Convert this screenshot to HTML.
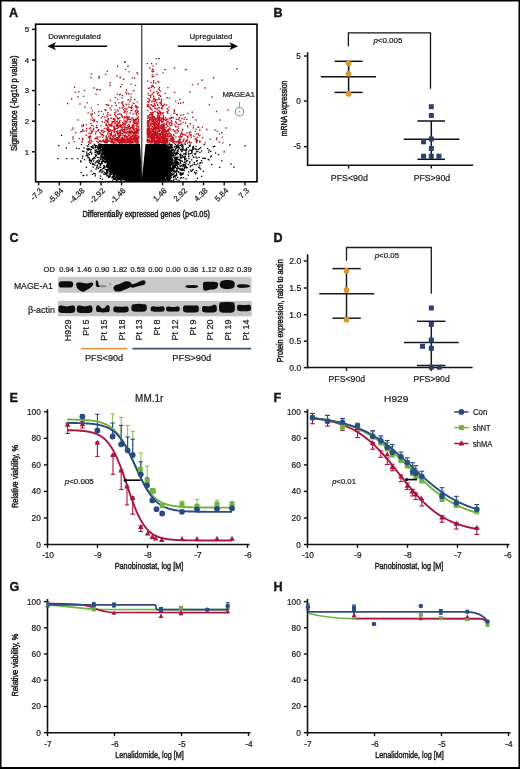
<!DOCTYPE html>
<html><head><meta charset="utf-8"><title>Figure</title>
<style>
html,body{margin:0;padding:0;background:#fff;width:520px;height:769px;overflow:hidden}
svg{display:block;will-change:transform}
text{font-family:"Liberation Sans",sans-serif;fill:#1c1c1c;stroke:#1c1c1c;stroke-width:0.22px}
</style></head><body>
<svg width="520" height="769" viewBox="0 0 520 769" font-family="&quot;Liberation Sans&quot;, sans-serif"><text x="9" y="17.2" font-size="12.6" font-weight="bold" fill="#000" style="stroke:#000;stroke-width:0.35px">A</text>
<polygon points="101.47,143.9 102.48,147.21 103.5,150.52 104.55,153.83 105.67,157.14 106.9,160.45 108.31,163.76 109.98,167.07 112.01,170.38 114.5,173.69 117.58,177 121.5,179.6 126,181.2 129,181.8 142,181.8 142,178.64 141.85,175.48 141.67,172.33 141.49,169.17 141.3,166.01 141.12,162.85 140.94,159.69 140.76,156.53 140.57,153.38 140.39,150.22 140.21,147.06 140.02,143.9" fill="#000"/>
<polygon points="145.56,143.9 145.23,147.06 144.9,150.22 144.57,153.38 144.24,156.53 143.91,159.69 143.58,162.85 143.25,166.01 142.92,169.17 142.59,172.33 142.26,175.48 142,178.64 142,181.8 158,181.8 161.85,178.64 165.22,175.48 168.03,172.33 170.13,169.17 170.85,166.01 170.16,162.85 169.46,159.69 168.76,156.53 168.07,153.38 167.37,150.22 166.67,147.06 165.98,143.9" fill="#000"/>
<path d="M104.61 155.99h1.35M98.09 146.84h1.35M92.3 146.31h1.35M102.09 146.74h1.35M114.55 174.3h1.35M92.58 167.04h1.35M71.34 158.64h1.35M104.24 154.74h1.35M95.24 155.43h1.35M103.3 165.37h1.35M108.42 164.14h1.35M97.35 151.7h1.35M100.19 155.63h1.35M95.81 155.11h1.35M99.51 153.09h1.35M109.12 176.06h1.35M120.42 179.88h1.35M112.32 171.76h1.35M95.7 145.63h1.35M96.75 165.06h1.35M106.35 169.51h1.35M96.37 160.81h1.35M101.08 161.46h1.35M105.66 169.73h1.35M113.18 174.12h1.35M111.02 168.54h1.35M103.02 150.32h1.35M112.78 172.16h1.35M94.15 158.43h1.35M102.48 160.55h1.35M103.14 174.02h1.35M104.12 159.32h1.35M119.2 179.06h1.35M102.9 152.64h1.35M99.78 165.64h1.35M101.16 157.64h1.35M107.3 169.33h1.35M110.99 168.81h1.35M101.49 172.59h1.35M103.42 158.48h1.35M110.04 167.29h1.35M103.16 151.8h1.35M102.47 146.11h1.35M65.68 147.89h1.35M109.06 166.55h1.35M103.17 156.84h1.35M86.2 175.1h1.35M107.24 161.81h1.35M103.98 156.67h1.35M103.55 150.08h1.35M107.53 163.43h1.35M97.68 145.18h1.35M109.4 175.63h1.35M105.04 157.55h1.35M99.5 163.59h1.35M94.38 152.32h1.35M106.34 175.24h1.35M111.31 171.13h1.35M100.09 157.14h1.35M97.74 153.63h1.35M90.64 160.48h1.35M117.35 178.96h1.35M103.12 152.46h1.35M96.39 166.92h1.35M101.36 161.65h1.35M96.35 147.29h1.35M105.69 172.68h1.35M94.54 150.7h1.35M93.17 173.35h1.35M88.99 158.81h1.35M102.97 150.39h1.35M108.2 177.14h1.35M91.77 174.28h1.35M101.15 156.95h1.35M80.82 144.72h1.35M92.18 163.37h1.35M106.35 175.93h1.35M102.65 153.37h1.35M107.7 165.55h1.35M88.9 148.97h1.35M102.14 160.88h1.35M91.87 159.51h1.35M98.1 163.56h1.35M103.91 150.87h1.35M99.96 150.47h1.35M106.59 164.46h1.35M99.74 164.42h1.35M107.31 164.59h1.35M109.47 172.31h1.35M98.77 171.86h1.35M105.77 166.5h1.35M108.09 169.42h1.35M90.66 161.6h1.35M99.91 176.11h1.35M91.8 164.57h1.35M102.64 149.19h1.35M101.04 146.84h1.35M101.98 168.57h1.35M96.05 149.82h1.35M90.62 149.4h1.35M86.07 152.19h1.35M80.27 161.94h1.35M100.3 150.08h1.35M104.48 156.54h1.35M112.29 170.49h1.35M107.03 160.23h1.35M105.91 166.91h1.35M112.08 180.06h1.35M75.88 148.01h1.35M104.11 154.04h1.35M108.05 177.38h1.35M88.46 149.64h1.35M111.32 169.7h1.35M108.27 169.25h1.35M113.34 178.36h1.35M91.18 147.25h1.35M112.9 175.61h1.35M93.23 164.33h1.35M98.84 148.9h1.35M102.05 148.18h1.35M101.9 151.54h1.35M111.32 171.85h1.35M98.69 150.68h1.35M94.13 144.76h1.35M100.14 151.1h1.35M92.82 148.07h1.35M97.15 162.22h1.35M101.15 162.64h1.35M95.12 156.67h1.35M107.35 167.35h1.35M101.66 146.18h1.35M111.11 171.17h1.35M91.78 147.28h1.35M109.21 168.61h1.35M101.53 154.87h1.35M105.38 160.43h1.35M116.08 179.6h1.35M118.31 179.35h1.35M99.01 144.24h1.35M106.72 162.5h1.35M100.1 144.38h1.35M100.04 158.74h1.35M99.22 152.67h1.35M106.71 171.52h1.35M114.14 176.2h1.35M120.41 180.04h1.35M110.34 167.61h1.35M111.65 176.67h1.35M113.99 173.76h1.35M97.29 162.56h1.35M110.07 174.28h1.35M104.38 169.06h1.35M101.38 145.33h1.35M92.21 148.02h1.35M104.39 167.05h1.35M107.84 162.01h1.35M108.88 171.44h1.35M110.54 168.2h1.35M104.27 153.38h1.35M111.21 170.75h1.35M116.89 179.72h1.35M100.8 161.64h1.35M103.91 166.66h1.35M101.77 149.57h1.35M104.23 155.28h1.35M98.24 153.98h1.35M109.25 168.8h1.35M103.72 161.11h1.35M116.3 176.73h1.35M119.18 178.28h1.35M94.46 174.04h1.35M103.51 153.98h1.35M99.02 151.87h1.35M90.1 163.28h1.35M110.87 174.06h1.35M110.37 169.8h1.35M95.63 161.9h1.35M105.13 160.61h1.35M103.56 156.72h1.35M93.57 144.26h1.35M87.57 148.57h1.35M115.87 177.02h1.35M66.16 158.5h1.35M102.71 157.33h1.35M101.78 145.96h1.35M88.67 154.6h1.35M100.6 153.87h1.35M87.46 157.79h1.35M108.9 173.76h1.35M114.69 178.44h1.35M94.53 146h1.35M106.99 171.6h1.35M86.75 145.98h1.35M105.07 161.39h1.35M90.38 171.1h1.35M108.74 168.08h1.35M105.4 158.55h1.35M90.03 151.77h1.35M90.15 152.21h1.35M106.37 160.58h1.35M100.38 147.5h1.35M102.78 152.9h1.35M109.09 176.5h1.35M102.31 159.27h1.35M105.39 156.51h1.35M119.81 179.42h1.35M98.41 167.12h1.35M103.24 154.07h1.35M88.75 160.43h1.35M94.63 175.97h1.35M113.86 176.8h1.35M98.91 144.21h1.35M103.7 174.25h1.35M103.99 153.24h1.35M101.51 163.21h1.35M106.14 170.47h1.35M79.94 160.85h1.35M89.35 152.67h1.35M104.52 155.26h1.35M103.27 167.36h1.35M98.21 146.76h1.35M104.9 158.33h1.35M99.85 144.58h1.35M114.03 179.11h1.35M106.04 161.5h1.35M112.99 179.17h1.35M97.99 144.99h1.35M105.06 159.49h1.35M111.41 177.88h1.35M99.97 159.51h1.35M106.37 173.21h1.35M83.17 151.67h1.35M113.56 174.05h1.35M111.31 171.88h1.35M106.72 162.25h1.35M100.24 159.38h1.35M100.52 149.53h1.35M119.98 179.66h1.35M99.56 146.39h1.35M109.35 176.36h1.35M116.7 178.11h1.35M99.62 178.27h1.35M103.48 157.98h1.35M103.76 150.36h1.35M87.26 156.99h1.35M119.07 179.3h1.35M104.82 174.11h1.35M98.59 145.99h1.35M117.33 177.67h1.35M117.57 176.85h1.35M114.24 173.75h1.35M87.42 146.48h1.35M99.32 171.4h1.35M85.99 154.11h1.35M97.28 153.74h1.35M104.98 154.23h1.35M112.47 177.56h1.35M100.56 145.08h1.35M101.68 179.03h1.35M101.34 153.34h1.35M117.75 177.98h1.35M102.44 171.08h1.35M107.51 166.3h1.35M96.93 157.37h1.35M95.71 151.38h1.35M102.4 146.56h1.35M82.07 156.06h1.35M119.68 180.16h1.35M98.82 147.71h1.35M105.63 160.47h1.35M103.42 166.78h1.35M109.45 175.03h1.35M113.71 174.81h1.35M98.18 157.78h1.35M102.99 153.21h1.35M112.11 176.38h1.35M77.21 158.62h1.35M94.57 152.62h1.35M121.02 180.27h1.35M104.09 174.02h1.35M100.25 145.67h1.35M82.34 151.1h1.35M116.25 178.06h1.35M105.45 160.55h1.35M119.01 178.62h1.35M108.67 166.77h1.35M102.09 149.35h1.35M103.42 166.02h1.35M99.63 144.61h1.35M101.71 150.94h1.35M109.62 173.15h1.35M100 147.89h1.35M109.96 167.47h1.35M108.6 169.51h1.35M87.02 155.4h1.35M106.49 164.82h1.35M82.44 175.66h1.35M96.28 151.38h1.35M88.04 144.41h1.35M112.02 174.06h1.35M93 160.98h1.35M96.13 167.52h1.35M107.41 166.85h1.35M101.51 149.51h1.35M118.16 177.89h1.35M94.22 173.5h1.35M86.1 148.81h1.35M107.43 161.77h1.35M92.34 158.32h1.35M114.23 174.21h1.35M101.27 152.28h1.35M114.21 174.38h1.35M102.19 158.75h1.35M101.55 148.68h1.35M117.52 176.86h1.35M113.09 171.77h1.35M97.71 148.49h1.35M108.09 167.02h1.35M106.1 165.41h1.35M89.86 160.46h1.35M106.25 162.02h1.35M110.26 172.59h1.35M106.94 161.43h1.35M106.42 159.87h1.35M107.94 162.77h1.35M94.87 147.19h1.35M107.87 162.82h1.35M88.2 157.95h1.35M83.02 175.4h1.35M113.68 173.87h1.35M89.07 162.1h1.35M94.41 150.21h1.35M100.02 146.58h1.35M90.05 149.98h1.35M114.07 173.89h1.35M117.23 177.68h1.35M104.5 162.62h1.35M87.15 150.07h1.35M116.59 176.79h1.35M98.63 148.39h1.35M93.67 157.3h1.35M96.53 165.31h1.35M115.8 180.34h1.35M112.61 173.24h1.35M106.65 165.22h1.35M106 160.3h1.35M92.14 145.96h1.35M85.7 167.47h1.35M110.43 168.36h1.35M97.81 149.64h1.35M94.67 162.86h1.35M104.39 152.47h1.35M105.31 157.12h1.35M99.15 152.36h1.35M98.31 151.63h1.35M86.84 149.1h1.35M102.95 149.63h1.35M107.68 175.91h1.35M104.8 153.82h1.35M106.48 164.67h1.35M90.58 160.35h1.35M91.04 153.25h1.35M105.03 158.98h1.35M113.84 172.55h1.35M118.56 178.45h1.35M105.67 166.33h1.35M113.78 173.81h1.35M105.01 155.13h1.35M80.54 172.7h1.35M109.24 171.32h1.35M105.77 160.67h1.35M104.26 152.66h1.35M105.99 171.49h1.35M110.3 170.11h1.35M97.75 160.07h1.35M98.72 153.86h1.35M98.89 152.1h1.35M96.37 152.79h1.35M110.65 171.36h1.35M104.01 156.16h1.35M103.27 167.16h1.35M117.32 179.84h1.35M100.13 169.59h1.35M107.4 170.58h1.35M98.42 151.92h1.35M116.25 177.35h1.35M116.45 178.01h1.35M101.95 145.25h1.35M103.26 167.27h1.35M97.26 146.59h1.35M104.78 173.96h1.35M90.48 146.6h1.35M118.94 178.57h1.35M102.92 148.28h1.35M108.85 173.76h1.35M108.34 167.19h1.35M94.48 147.76h1.35M100.19 155.82h1.35M97.54 154.49h1.35M85.61 155.88h1.35M106.56 175.19h1.35M98.18 160.09h1.35M107.35 169.85h1.35M115.94 175.59h1.35M103.78 150.4h1.35M101.3 171.94h1.35M98.33 162.09h1.35M105.38 162.2h1.35M87.55 153.68h1.35M97.08 152.02h1.35M97.04 148.2h1.35M107 172.88h1.35M107.66 167.06h1.35M93.24 158.56h1.35M117.29 176.54h1.35M90.97 153.78h1.35M93.38 158.01h1.35M102.88 160.98h1.35M106.97 171.61h1.35M104.61 156.09h1.35M102.89 168.3h1.35M98.2 160.17h1.35M99.57 148.79h1.35M103.29 152.86h1.35M100.81 169.8h1.35M101.92 149.88h1.35M107.33 163.21h1.35M81.84 151.09h1.35M83.34 147.91h1.35M81.62 158.19h1.35M109.26 170.89h1.35M109.83 167.42h1.35M106.21 158.34h1.35M107.17 172.99h1.35M106.66 167.22h1.35M106.71 166.17h1.35M114.8 177.25h1.35M109.82 171.47h1.35M99.68 170.49h1.35M100.39 169.68h1.35M106.95 167.55h1.35M109.69 167.07h1.35M106.52 172.68h1.35M101.4 153.3h1.35M107.01 166.83h1.35M117.83 178.06h1.35M110.94 172.53h1.35M120.69 179.68h1.35M94.55 150.05h1.35M107.7 163.1h1.35M101.12 163.89h1.35M99.94 167.47h1.35M88.98 159.14h1.35M108.52 169.11h1.35M78.26 148.66h1.35M100.59 146.26h1.35M98.78 144.68h1.35M109.23 169.62h1.35M96.29 152.37h1.35M106.98 163.39h1.35M105.04 158.47h1.35M103.9 172.47h1.35M102.6 161.28h1.35M117.84 179.28h1.35M104.93 174h1.35M100.46 154.91h1.35M112.94 174.55h1.35M102.08 153.93h1.35M83.9 159.71h1.35M103.39 154.44h1.35M104.35 161.66h1.35M108.25 168.2h1.35M115.9 175.3h1.35M108.89 177.17h1.35M115.28 174.46h1.35M113.53 178.84h1.35M102.09 147.9h1.35M111.29 172.46h1.35M108.61 177.11h1.35M111.91 176.64h1.35M97.69 168.53h1.35M114.41 174.73h1.35M100.4 163.52h1.35M112.37 176.33h1.35M103.62 152.72h1.35M98.76 146.33h1.35M103.76 162.09h1.35M116.5 175.61h1.35M102.58 161.23h1.35M112.97 174.8h1.35M119.84 179.17h1.35M110.29 167.35h1.35M95.38 169.05h1.35M116.96 179.93h1.35M117.57 176.87h1.35M107.77 166.96h1.35M102.27 157.53h1.35M112.26 172.25h1.35M102.04 159.57h1.35M94.66 154.86h1.35M106.18 162.54h1.35M114.56 179.69h1.35M103.39 156.24h1.35M103.46 165.55h1.35M94.64 145.66h1.35M108.46 164.05h1.35M100.69 144.43h1.35M103.48 166.36h1.35M112.56 177.32h1.35M103.13 167.02h1.35M110 168.99h1.35M98.76 160.87h1.35M103.69 150.8h1.35M112.01 177.47h1.35M105.95 174.14h1.35M102.64 153.59h1.35M102.15 155.79h1.35M118.85 178.19h1.35M101.56 145.63h1.35M94.24 165.14h1.35M171.26 144.72h1.35M185.4 178.9h1.35M168.88 159.46h1.35M166.22 152.05h1.35M169.38 169.5h1.35M192.08 147.46h1.35M182.07 144.86h1.35M202.8 171.34h1.35M183.56 170.6h1.35M178.21 147.32h1.35M195.79 161.24h1.35M159.08 179.88h1.35M183.76 168.28h1.35M181.9 155.71h1.35M173.97 176.06h1.35M174.46 165.47h1.35M185.98 149.56h1.35M177.71 168.06h1.35M184.29 158.47h1.35M172.04 173.23h1.35M214.01 146.44h1.35M167.16 174.81h1.35M169.05 180.37h1.35M173.31 155.62h1.35M180.08 158.14h1.35M172.79 177.36h1.35M168.64 144.26h1.35M184.84 165.91h1.35M189.11 145.76h1.35M168.7 176.29h1.35M175.1 175.69h1.35M163.73 178.01h1.35M184.1 164.69h1.35M188 171.96h1.35M179.62 166.66h1.35M169.67 151.84h1.35M170.09 173.49h1.35M176.01 174.04h1.35M190.28 165.64h1.35M174.96 163.51h1.35M168.57 151.2h1.35M171.66 170.14h1.35M175.47 159.09h1.35M244.39 145.85h1.35M178.36 148.13h1.35M177.2 149.98h1.35M167.47 176.25h1.35M184.42 153.88h1.35M168.81 179.22h1.35M164.14 179.85h1.35M185.4 150.89h1.35M166.89 176.41h1.35M161.49 177.87h1.35M168.99 158.9h1.35M176.36 153.72h1.35M166.06 179.59h1.35M169.83 160.79h1.35M164.57 180.89h1.35M193.2 157.22h1.35M164.2 175.18h1.35M176.32 170.46h1.35M166.94 146.26h1.35M167.09 178.96h1.35M182.28 166.08h1.35M170.39 156.18h1.35M170.16 162.01h1.35M195.85 149.5h1.35M166.42 151.42h1.35M199.3 152.36h1.35M162.94 177.08h1.35M199.98 147.79h1.35M174.55 167.45h1.35M169.13 174.65h1.35M195.55 149.48h1.35M170.37 164.67h1.35M172.82 154.06h1.35M188.15 154.23h1.35M174.26 150.41h1.35M162.14 177.62h1.35M195.27 146.3h1.35M174.05 152.01h1.35M169.15 153.74h1.35M195.24 180.87h1.35M169.67 147.81h1.35M182.33 146.33h1.35M158.18 180.41h1.35M210 156.81h1.35M170.67 163.68h1.35M162.61 177.94h1.35M168.05 149.31h1.35M169.46 170.53h1.35M177.52 147.43h1.35M169.32 154.33h1.35M181.59 170.39h1.35M166.86 151.68h1.35M207.64 159.3h1.35M187.9 156.6h1.35M168.55 162.44h1.35M189.11 161.83h1.35M188.1 151.08h1.35M171.57 150.25h1.35M174.62 144.37h1.35M169.84 163.28h1.35M179.46 174.41h1.35M171.64 170.51h1.35M192.64 146.46h1.35M175.61 162.51h1.35M168.95 164.08h1.35M168.64 152.48h1.35M168.85 153.47h1.35M189.9 170.06h1.35M175.99 165.53h1.35M191.96 148.01h1.35M166.52 145.87h1.35M171.72 162.73h1.35M169.26 159.21h1.35M164.1 176.06h1.35M168.18 171.82h1.35M163.07 178.89h1.35M169.16 175.27h1.35M169.37 179.03h1.35M171.24 153.09h1.35M167.92 180.51h1.35M182.11 174.36h1.35M176.15 179.64h1.35M178.41 159.82h1.35M169.4 163.84h1.35M168.7 162.88h1.35M167.77 180.08h1.35M183.85 167.63h1.35M162.31 176.93h1.35M179.96 154.03h1.35M193.63 164.26h1.35M175.19 153.47h1.35M161.47 179.38h1.35M170.05 168.16h1.35M163.63 179.58h1.35M175.98 161.46h1.35M167.21 148.79h1.35M171.33 159.24h1.35M175.56 147.45h1.35M176.98 166.77h1.35M181.31 151.64h1.35M177.92 164.48h1.35M170.08 155.69h1.35M173.31 163.16h1.35M170.49 144.64h1.35M176.12 153.03h1.35M217.88 154.74h1.35M167.35 172.77h1.35M166.64 176.44h1.35M173.82 158.55h1.35M168.6 148.24h1.35M168.31 171.53h1.35M179.77 157.24h1.35M175.71 175.65h1.35M177.9 171.53h1.35M183.85 161.78h1.35M161.76 178.04h1.35M184.61 144.36h1.35M201.24 162.62h1.35M184.03 159.66h1.35M173.67 166.67h1.35M181.32 161.14h1.35M176.33 158.66h1.35M184.6 156.11h1.35M174.29 162.68h1.35M168.65 155.45h1.35M169.97 165.72h1.35M188.08 156.18h1.35M160.4 179.67h1.35M181 177.89h1.35M193.67 162.6h1.35M230.45 164.12h1.35M179.94 163.34h1.35M177.31 157.44h1.35M166.64 179.27h1.35M171.35 147.86h1.35M177.03 164.97h1.35M162.88 179.89h1.35M218.97 167.31h1.35M185.13 163.82h1.35M210.74 155.97h1.35M169.7 163.17h1.35M182.64 169.73h1.35M165.67 177.06h1.35M175.07 154.93h1.35M168.41 151.16h1.35M173.27 166.52h1.35M169.46 167.75h1.35M168.33 173.34h1.35M169.46 144.34h1.35M179.37 165.89h1.35M176.47 162.62h1.35M175.6 168.13h1.35M174.01 165.46h1.35M183.75 150h1.35M167.65 147.9h1.35M171.34 174.66h1.35M165.04 146.5h1.35M181.3 156.14h1.35M169.66 150.47h1.35M167.17 177.64h1.35M221.13 160.84h1.35M198.95 165.76h1.35M233.36 167.15h1.35M165.9 175.82h1.35M167.28 174.39h1.35M163.21 179.72h1.35M172.28 153.19h1.35M170.68 152.39h1.35M184.19 162.12h1.35M171.36 150.62h1.35M160.52 180.15h1.35M175.25 148.45h1.35M168.38 159.12h1.35M167.43 174.76h1.35M170.07 151.27h1.35M179.58 145.49h1.35M181.19 149.97h1.35M187.83 154.18h1.35M186.83 160.6h1.35M171.19 150.09h1.35M202.23 158.15h1.35M163.77 179.38h1.35M169.51 160.95h1.35M193.78 153.85h1.35M170.48 157.82h1.35M191.34 152.06h1.35M176.26 163.18h1.35M169.8 172.75h1.35M172.5 165.2h1.35M167.66 147.38h1.35M179.37 156.08h1.35M173.2 164.99h1.35M167.58 155.19h1.35M167.85 152.58h1.35M172.71 154.65h1.35M182.54 172.87h1.35M192.77 149.09h1.35M172.41 168.75h1.35M179.18 168.59h1.35M166.62 175.53h1.35M167.38 150.92h1.35M168.07 171.36h1.35M168.49 150.19h1.35M167.91 158.29h1.35M170.81 167.82h1.35M180.87 165.3h1.35M180 160.29h1.35M189.45 144.24h1.35M167.22 154.79h1.35M169.76 166.67h1.35M185.76 148.31h1.35M170.06 178.04h1.35M172.25 169.9h1.35M166.57 174.86h1.35M163.03 179.22h1.35M179.41 169.79h1.35M197.93 167.44h1.35M175.42 160.05h1.35M194.53 148.92h1.35M167.21 174.01h1.35M164.79 180.07h1.35M167.14 153.44h1.35M170.13 159.43h1.35M181.27 149.25h1.35M169.64 153h1.35M196.55 160.67h1.35M191.79 155.28h1.35M172.8 165.04h1.35M182.52 164.49h1.35M176.49 168.86h1.35M180.11 172.55h1.35M171.93 154.91h1.35M169.3 146.43h1.35M172.85 170.16h1.35M174.2 156.21h1.35M167.33 171.97h1.35M163.08 180.47h1.35M174.08 162.29h1.35M168.88 164.29h1.35M177.67 168.05h1.35M171.38 168.35h1.35M165.86 149.33h1.35M166.31 175.26h1.35M185.6 167.81h1.35M185.1 150.43h1.35M170.03 171.67h1.35M167.11 174.74h1.35M173.27 164.59h1.35M166.83 153.06h1.35M184.48 167.44h1.35M180.71 177.69h1.35M170.15 162.68h1.35M169.89 165.7h1.35M173.11 150.25h1.35M165.64 147.52h1.35M210.03 151.26h1.35M174.19 175.85h1.35M179.35 154.68h1.35M172.18 159.78h1.35M183.71 168.85h1.35M170.14 150.29h1.35M173.01 165.04h1.35M170.26 147.35h1.35M173.22 180.14h1.35M178.39 180.25h1.35M165.22 174.21h1.35M172.52 166.74h1.35M163.38 179.45h1.35M171.67 155.27h1.35M167.47 145.23h1.35M168.94 160.75h1.35M176.95 157.96h1.35M176.78 163.81h1.35M167.9 148.43h1.35M169.98 164.48h1.35M167.63 153.58h1.35M174.45 153.51h1.35M176.54 152.58h1.35M177.3 163.19h1.35M168.51 159.3h1.35M168.52 176.15h1.35M167.42 172.21h1.35M168.29 170.9h1.35M169.6 158.7h1.35M183.06 165.03h1.35M166.34 172.92h1.35M167.57 157.98h1.35M170.48 152.09h1.35M191 159.96h1.35M168.33 176.47h1.35M163.89 176.42h1.35M183.34 156.83h1.35M165.22 174.75h1.35M190.83 171.48h1.35M177.32 145.81h1.35M184.39 164.51h1.35M167.78 178.44h1.35M173.29 151.35h1.35M171.92 165.71h1.35M166.65 173.83h1.35M180.26 154.93h1.35M192.21 149.54h1.35M182.1 169.71h1.35M170.28 144.71h1.35M188.98 162.77h1.35M167.41 145.51h1.35M172.61 169.34h1.35M189.33 150.06h1.35M169.1 176.5h1.35M169.81 156.38h1.35M169.59 166h1.35M174.29 157.56h1.35M188.31 158.55h1.35M167.33 156.55h1.35M158 180.7h1.35M171.26 169.03h1.35M171.47 162.7h1.35M199.29 163.74h1.35M175.9 145.46h1.35M172.93 176.48h1.35M173.11 167.68h1.35M180.94 173.63h1.35M171.41 169.41h1.35M172.66 171.56h1.35M176.15 157.17h1.35M170.4 146.44h1.35M161.6 180.77h1.35M169.57 153.21h1.35M165.57 149.22h1.35M174.16 160.97h1.35M168.97 155.39h1.35M171.09 155.36h1.35M195.32 164.6h1.35M166.35 178.29h1.35M176.71 150.81h1.35M183.81 157.41h1.35M163.19 176.33h1.35M163.67 177.47h1.35M167.03 145.05h1.35M169.88 170.26h1.35M177.41 151.61h1.35M170.84 168.18h1.35M164.52 179.84h1.35M180.4 174.15h1.35M168.17 149.26h1.35M169.53 176.59h1.35M170.95 152.05h1.35M173.46 168.21h1.35M167.79 156.7h1.35M178.12 145.88h1.35M177.51 162.49h1.35M168.29 161.34h1.35M191.81 165.07h1.35M170.6 170.99h1.35M167.6 149.98h1.35M187.37 147.53h1.35M177.33 164.13h1.35M176.78 168.52h1.35M169.29 171.62h1.35M178.01 172.44h1.35M195.45 172.79h1.35M175.33 154.5h1.35M165.56 149.08h1.35M181.77 168.45h1.35M159.14 180.81h1.35M165.48 147.53h1.35M174.25 146.43h1.35M200.97 150.93h1.35M168.08 149.72h1.35M196.71 178.29h1.35M214.84 153.18h1.35M172.83 167.74h1.35M172.14 161.22h1.35M182.56 148.19h1.35M173.48 168.08h1.35M176.05 146.42h1.35M179.82 178.21h1.35M169.73 152.49h1.35M170.67 160.25h1.35M174.5 172.29h1.35M158.82 180.99h1.35M190.9 150h1.35M183.01 154.09h1.35M171.38 154.65h1.35M163.02 177.17h1.35M174.78 166.31h1.35M163.76 176.87h1.35M184.07 157.53h1.35M190.79 150.94h1.35M167.08 155.21h1.35M158.33 180.25h1.35M182.58 149.78h1.35M180.22 150.44h1.35M195.32 156.76h1.35M168.59 176.83h1.35M182.25 173.51h1.35M173.07 152.77h1.35M229.19 144.94h1.35M163.19 176.71h1.35M172.68 149.22h1.35M169.6 169.56h1.35M169.64 162.73h1.35M193.48 162.56h1.35M208.05 152.16h1.35M169.74 171.26h1.35M183.59 153.99h1.35M176.39 159.3h1.35M180.62 144.59h1.35M176.45 164.33h1.35M170.54 180.55h1.35M171.75 158.97h1.35M161.36 180.2h1.35M169.36 159.37h1.35M177.44 144.39h1.35M177.7 153.62h1.35M168.99 153.11h1.35M174.69 175.39h1.35M180.84 146.03h1.35M175.94 168.11h1.35M158.4 180.15h1.35M168.34 175.78h1.35M158.94 181.01h1.35M170.65 171.7h1.35M175.65 158.76h1.35M171.73 169.26h1.35M171.23 164.29h1.35M194.87 154h1.35M173.45 170.9h1.35M168.04 152.39h1.35M175.9 163.76h1.35M166.71 174.29h1.35M168.94 174.61h1.35M180.66 174.82h1.35M171.26 145.8h1.35M165.5 174.46h1.35M167.72 153.5h1.35M170.57 173.92h1.35M171.76 147.46h1.35M173.05 169.92h1.35M175.95 173.74h1.35M172.24 169.37h1.35M171.89 152.99h1.35M167.67 158.3h1.35M169.58 165.31h1.35M170.13 170.77h1.35M187.94 153.15h1.35M186.45 167.74h1.35M184.44 159.86h1.35M167.89 157.95h1.35M181.1 157.79h1.35M178.87 159.29h1.35M172.66 157.24h1.35M161.83 178.42h1.35M171.5 170.54h1.35M167.89 156.39h1.35M175.61 158.24h1.35M182.96 177.55h1.35M174.5 161.31h1.35M174.58 159.55h1.35M175.01 160.47h1.35M172.46 174.71h1.35M168.09 159.06h1.35M182.85 164.69h1.35M168.58 148.57h1.35M165.33 174.45h1.35M193.98 172.07h1.35M195.86 170.51h1.35M177.09 159.66h1.35M179.81 174.42h1.35M170.19 154.36h1.35M189.78 153.64h1.35M177.25 163.11h1.35M174.13 176.27h1.35M184.94 153.71h1.35M174.26 158.03h1.35M173.36 165.8h1.35M197.11 151.61h1.35M169.9 146.09h1.35M176.6 159.33h1.35M185.31 154.32h1.35M181.1 170.49h1.35M196.26 161.02h1.35M162.74 176.69h1.35M169.49 167.85h1.35M177.09 146.86h1.35M165.95 178.33h1.35M179.6 162.63h1.35M169.52 155.11h1.35M197.53 149.59h1.35M166.51 147.93h1.35M162.72 179.38h1.35M194.58 153.73h1.35M166.37 149.93h1.35M189.35 145.74h1.35M176.82 152.81h1.35M170.53 164.94h1.35M187.93 156.2h1.35M194.76 173.78h1.35M171.18 145.42h1.35M175.79 152.46h1.35M181.5 161.38h1.35M169.41 169.32h1.35M198.7 148.72h1.35M164.62 178.96h1.35M182.71 157.07h1.35M160.86 178.6h1.35M169.28 176.17h1.35M167.08 147.47h1.35M174.45 177.24h1.35M160.66 178.41h1.35M161.21 179.99h1.35M169.23 168.49h1.35M170.98 160.84h1.35M185.24 150.82h1.35M175.91 146.77h1.35M183.67 164.61h1.35M168.48 161.27h1.35M178.88 147.8h1.35M173.15 165.59h1.35M170.22 168.74h1.35M162.31 179.04h1.35M167.06 176.52h1.35M193.03 147.68h1.35M176.08 162.56h1.35M170.02 161.51h1.35M173.03 162.95h1.35M170.1 159.14h1.35M191.03 153.08h1.35M161.94 177.15h1.35M184.09 162.27h1.35M170.37 169.69h1.35M177.61 149.89h1.35M171.98 163.37h1.35M176.53 147.32h1.35M183.32 166.23h1.35M168.67 146.5h1.35M158.14 180.57h1.35M182.3 169.8h1.35M169.4 174.19h1.35M203.55 144.6h1.35M168.68 159.26h1.35M176.28 171.35h1.35M168.87 156.94h1.35M171.07 152.33h1.35M166.59 181.1h1.35M183.5 162.6h1.35M174.65 172h1.35M185.95 167.33h1.35M181.83 147.62h1.35M208.4 150.2h1.35M167.93 171.79h1.35M175.1 178.87h1.35M175.84 175h1.35M186.19 160.31h1.35M165.09 176.42h1.35M197.02 163.87h1.35M168.15 180.03h1.35M165.72 175.22h1.35M170.88 161.14h1.35M168.86 177.8h1.35M184.14 158.7h1.35M192.44 169.47h1.35M168.66 159.23h1.35M166.9 175.14h1.35M180 175.14h1.35M166.12 144.81h1.35M177.63 159.69h1.35M169.81 156.61h1.35M170.54 175.45h1.35M169.28 147.46h1.35M179.25 160.56h1.35M206.9 148.67h1.35M169.83 151.01h1.35M170.13 157.61h1.35M189.68 166.78h1.35M199.5 162.69h1.35M158.89 180.78h1.35M170.32 150.2h1.35M163.45 179.17h1.35M171.61 153.48h1.35M187.78 164.65h1.35M196.33 158.14h1.35M169.3 168.85h1.35M200.93 160.63h1.35M177.37 168.66h1.35M179.67 163.52h1.35M172.94 162.63h1.35M189.14 146.31h1.35M174.55 164.82h1.35M170.72 177.17h1.35M170.03 145.5h1.35M173.28 179.46h1.35M181.11 165.94h1.35M174.91 171.85h1.35M169 172.41h1.35M208.3 159.77h1.35M173.45 173.98h1.35M166.51 179.83h1.35M168.71 154.47h1.35M175.85 174.76h1.35M174.83 149.38h1.35M182.66 150.2h1.35M167.54 155.74h1.35M204.63 158.37h1.35M170.51 151.12h1.35M170.77 151.5h1.35M169.2 148.21h1.35M203.54 158.46h1.35M195.54 151.75h1.35M171.21 175.17h1.35M168.82 155.85h1.35M176.55 161.6h1.35M169.13 172.05h1.35M165.73 178.15h1.35M171.84 167.52h1.35M188.58 145.73h1.35M198.55 157.29h1.35M167.22 153.2h1.35M175.53 172.09h1.35M165.75 174.09h1.35M199.06 168.06h1.35M180.65 169.8h1.35M168.5 178.99h1.35M185.29 158.73h1.35M191.48 151.07h1.35M179.45 163.48h1.35M170.79 149.14h1.35M175.17 159.49h1.35M176.02 168.91h1.35M172.05 165.43h1.35M179.44 173.37h1.35M180.56 169.05h1.35M177.03 177.44h1.35M172.15 174.58h1.35M181.16 149.06h1.35M172.22 166.86h1.35M185.16 166.52h1.35M169.21 152.08h1.35M199.91 169.21h1.35M180.62 157.51h1.35M187.61 175.23h1.35M179.66 149.33h1.35M211.06 164.73h1.35M168.59 148.29h1.35M171.66 156.78h1.35M185.41 152.26h1.35M175.75 175.26h1.35M181.48 145.33h1.35M168.52 159.88h1.35M174.51 171.01h1.35M177.31 163.15h1.35M200.94 176.3h1.35M161.36 179.77h1.35M173.65 146.84h1.35M179.92 161h1.35M172.39 161.02h1.35M171.22 159.11h1.35M172.89 171.43h1.35M181.04 151.52h1.35M176.26 154.03h1.35M166.83 180.2h1.35M169.09 178.24h1.35M212.69 146.52h1.35M175.54 170.91h1.35M169.25 157.35h1.35M162.11 180.88h1.35M192.75 157.34h1.35M169.19 161.04h1.35M184.75 149.89h1.35M172.17 180.85h1.35M185.76 161.82h1.35M176.1 148.23h1.35M223.57 151.94h1.35M191.74 170.48h1.35M58.03 145.5h1.35M57.33 158.7h1.35M38.53 104.6h1.35M60.83 135.4h1.35M164.32 69.5h1.35M185.32 69.5h1.35M236.32 68.8h1.35M158.32 58.5h1.35M124.33 62h1.35M127.33 66h1.35M98.33 78h1.35M201.32 80h1.35M229.32 93h1.35" stroke="#000" stroke-width="1.25" fill="none"/>
<path d="M118.65 135.26h1.35M137.92 137.04h1.35M126.54 142.27h1.35M113.19 129.02h1.35M106.04 141.76h1.35M129.26 130.97h1.35M119.65 126.76h1.35M128.64 139.46h1.35M131.38 139.66h1.35M136.98 140.74h1.35M111.37 139.45h1.35M137.83 129.05h1.35M129.12 141.77h1.35M104.77 140.81h1.35M92.58 129.76h1.35M137.92 138.49h1.35M107.57 119.94h1.35M136.34 135.45h1.35M133.03 141.92h1.35M130.71 136.89h1.35M121.44 130.52h1.35M130.03 128.66h1.35M109.63 135.41h1.35M115.84 126.14h1.35M136.44 141.91h1.35M136.79 123.18h1.35M97.16 139.28h1.35M131.4 107.78h1.35M106.38 121.14h1.35M124.2 129.49h1.35M124.12 132.7h1.35M136.18 108.99h1.35M96.1 138.56h1.35M137.75 124.11h1.35M136.03 140.01h1.35M128.97 128.36h1.35M107.82 131.64h1.35M119.27 141.82h1.35M135.28 125.06h1.35M111.47 142.86h1.35M96.59 127.75h1.35M125.41 140.89h1.35M136.49 141.13h1.35M123.39 139.24h1.35M119.22 121.05h1.35M118.4 140.28h1.35M100.99 134.36h1.35M106.48 128.3h1.35M121.81 141.92h1.35M102.44 135.18h1.35M136 131.71h1.35M113.49 139.96h1.35M121.59 124.9h1.35M106.75 128.08h1.35M90.78 115.78h1.35M122.84 132.52h1.35M135.55 141.11h1.35M109.62 136.88h1.35M125.31 140.32h1.35M136.92 118.17h1.35M137.65 142.97h1.35M124.66 139.13h1.35M135.93 139.45h1.35M90.93 132.96h1.35M119.77 130.97h1.35M115.15 115.75h1.35M89.33 142.56h1.35M123.75 120.27h1.35M131.89 128.27h1.35M134.31 140.3h1.35M113.02 126.81h1.35M130.29 127.46h1.35M96.56 127.69h1.35M110.34 126.01h1.35M135.87 139.59h1.35M107.23 128.06h1.35M119.27 139.5h1.35M125.4 131.08h1.35M130.83 136.84h1.35M136.1 129.21h1.35M132.31 138.29h1.35M94.2 138.85h1.35M113.28 143.24h1.35M135.26 143.03h1.35M116 137.58h1.35M108.26 141.02h1.35M131.67 126.6h1.35M135.16 133.82h1.35M118.41 140.96h1.35M105.68 120.97h1.35M131.66 126.08h1.35M107.87 128.05h1.35M112.25 141.7h1.35M99.12 132.64h1.35M128.64 138.49h1.35M127.76 140.09h1.35M132.44 139.71h1.35M116.73 121.16h1.35M101.26 130.15h1.35M122.69 105.73h1.35M117.93 133.4h1.35M103.79 122.39h1.35M111.5 139.22h1.35M118.65 125.86h1.35M122.66 109.64h1.35M130.85 142.31h1.35M90.09 136.29h1.35M102.1 141.27h1.35M110.57 118.24h1.35M112.62 137.52h1.35M134.17 139.09h1.35M111.11 124.76h1.35M113.99 119.8h1.35M110.84 124.18h1.35M117.74 111.15h1.35M118.1 138.97h1.35M134.62 141.66h1.35M114.29 112.74h1.35M132.91 128.36h1.35M117.02 137.56h1.35M135.48 113.75h1.35M133.75 121.92h1.35M130.01 142.27h1.35M135.78 136.11h1.35M134.56 111.78h1.35M107.03 114.31h1.35M119.95 133.07h1.35M117.6 140.04h1.35M98.68 141.43h1.35M105.15 125.6h1.35M112.72 121.53h1.35M136.74 139.84h1.35M111.43 125.98h1.35M124.66 124.85h1.35M136.92 141.14h1.35M124.28 140.46h1.35M87.86 137.01h1.35M124.03 111h1.35M131.78 141.13h1.35M119.81 139.1h1.35M129.51 132.49h1.35M109.12 139.17h1.35M129.47 140.14h1.35M132.9 125.94h1.35M127.01 141.15h1.35M111.5 122.93h1.35M109.08 129.82h1.35M122.73 140.3h1.35M122.3 135.19h1.35M107.29 140.21h1.35M119.79 126.38h1.35M118.84 137.23h1.35M121.64 107.9h1.35M135.69 128.08h1.35M126.24 116.59h1.35M120.87 102.74h1.35M134.3 133.72h1.35M123.15 106.19h1.35M113.9 130.15h1.35M123.99 136.99h1.35M92.9 119.18h1.35M92.2 120.37h1.35M135.64 125.47h1.35M120.18 141.99h1.35M106.06 115.91h1.35M137.77 130.58h1.35M109.12 129.38h1.35M118.14 127.67h1.35M112.21 136.36h1.35M110.31 126.17h1.35M90.17 123.66h1.35M133.96 131.3h1.35M133.34 136.24h1.35M137.89 141.15h1.35M129.92 127.81h1.35M131.5 138.91h1.35M133.36 130.09h1.35M135.31 107.42h1.35M134.67 123.26h1.35M131.6 105.38h1.35M120.48 141.61h1.35M105.57 124.95h1.35M114.06 139.92h1.35M121.66 103.17h1.35M133.57 123.41h1.35M130.38 134.34h1.35M123.86 142.53h1.35M137.5 129.12h1.35M87.69 142.03h1.35M117.58 125.54h1.35M105.68 141.24h1.35M135.16 137.56h1.35M111.46 139.27h1.35M128.04 93.7h1.35M134.76 135.09h1.35M121.97 124.18h1.35M129.13 107.36h1.35M121.53 140.73h1.35M130.69 136.88h1.35M135.99 112.89h1.35M118.89 131.08h1.35M105.8 142.89h1.35M128.63 131.71h1.35M133.49 129.23h1.35M136.17 130.3h1.35M111.88 122.36h1.35M128.9 117.92h1.35M89.86 127.43h1.35M95.26 138.04h1.35M96.85 130.83h1.35M135.31 118.3h1.35M136.1 133.15h1.35M136.45 142.32h1.35M117.7 138.89h1.35M118.2 125.17h1.35M107.49 141.16h1.35M125.01 140.86h1.35M119.78 141.74h1.35M112.43 139.42h1.35M130.79 136.44h1.35M123.52 118.1h1.35M103.08 140.51h1.35M116.03 128.65h1.35M115.28 139.38h1.35M92.56 126.15h1.35M88.8 128.68h1.35M129.32 141.79h1.35M128.02 127.8h1.35M118.8 143.25h1.35M117.18 127.02h1.35M128.53 139.77h1.35M136.69 142.28h1.35M110.5 133.53h1.35M135.34 120.14h1.35M106.14 141.17h1.35M100.79 131.22h1.35M100.59 141.62h1.35M117.88 137.31h1.35M109.83 115.29h1.35M91.24 141.59h1.35M117.23 114.23h1.35M136.21 115.25h1.35M123.52 131.62h1.35M125.57 136.75h1.35M120.01 133.51h1.35M130.99 132.68h1.35M135.08 133.1h1.35M129.15 138.5h1.35M121.56 124.91h1.35M129.89 137.06h1.35M128.59 121.82h1.35M131.99 127.77h1.35M129.91 141.69h1.35M129.24 138.9h1.35M120.94 114.99h1.35M114.16 140.46h1.35M134.15 137.66h1.35M107.18 122.56h1.35M89.17 136.21h1.35M130.57 143.14h1.35M98.1 129.58h1.35M133.21 138.43h1.35M90.41 130.95h1.35M106.72 130.4h1.35M134.47 135.76h1.35M112.53 139.45h1.35M131.95 142.76h1.35M101.36 134.17h1.35M132.96 129.57h1.35M114.46 120.79h1.35M120.13 141.96h1.35M136.49 126.35h1.35M133.41 133.77h1.35M126.39 137.1h1.35M117.74 142.06h1.35M116.61 132.67h1.35M117.73 135.74h1.35M121.23 128.09h1.35M132.78 121.45h1.35M135.93 142.89h1.35M110.67 133.68h1.35M127.56 126.73h1.35M115.57 140.66h1.35M107.19 134.05h1.35M131.26 132.24h1.35M124.94 135.12h1.35M132.37 134.97h1.35M137.99 117.13h1.35M128.64 135.18h1.35M89.21 140.12h1.35M105.65 142.25h1.35M134.53 138.73h1.35M114.48 135.18h1.35M105.16 124.86h1.35M108.02 130.03h1.35M111.48 121.71h1.35M113.7 124.18h1.35M135.77 139.75h1.35M130.76 106.88h1.35M129.8 140h1.35M134.9 132.89h1.35M129.88 121.65h1.35M126.89 141.91h1.35M83.12 131.2h1.35M126.52 118.43h1.35M133.56 122.28h1.35M128.56 119.66h1.35M122.84 141.81h1.35M109.5 115.1h1.35M123.83 140.35h1.35M131.29 132.49h1.35M127.34 139.67h1.35M128.56 142.36h1.35M132.93 124.81h1.35M112.96 139.3h1.35M121.28 139.27h1.35M91.05 125.34h1.35M137.83 126.58h1.35M118.93 135.87h1.35M110.79 118.42h1.35M124.69 135.97h1.35M89 139.36h1.35M127.43 117.66h1.35M129.21 141.33h1.35M89.52 128.89h1.35M107.07 130.57h1.35M124.74 121.41h1.35M122.61 140.53h1.35M136.12 132.94h1.35M115.95 139.68h1.35M114.32 136.31h1.35M110.86 134.96h1.35M123.28 138.78h1.35M137.46 111.43h1.35M126.36 108.69h1.35M137.38 107.2h1.35M96.16 141.4h1.35M109.92 142.11h1.35M114.2 119.2h1.35M104.04 142.63h1.35M85.72 130.55h1.35M123.04 125.43h1.35M115.05 138.67h1.35M122.36 142.05h1.35M129.57 133.35h1.35M136.49 112.07h1.35M132.57 103.13h1.35M104.72 120.07h1.35M110.11 139.1h1.35M104.59 141.89h1.35M135.93 137.79h1.35M130.09 136.73h1.35M110.34 131.5h1.35M122.13 122.27h1.35M135.44 124.29h1.35M121.78 138.94h1.35M133.12 120.85h1.35M110.9 140.93h1.35M111.47 140.95h1.35M137.45 116.85h1.35M129.14 140.57h1.35M136.18 139.34h1.35M132.22 126.65h1.35M109.97 138.97h1.35M126.34 122.15h1.35M135.14 131.59h1.35M135.2 137.62h1.35M122.21 104.52h1.35M126.51 137.95h1.35M107.31 127.19h1.35M136.84 137.6h1.35M136.24 129.32h1.35M120.1 126.26h1.35M126.12 116.76h1.35M127.41 133.83h1.35M137.04 130.23h1.35M132.67 142.5h1.35M91.43 117.91h1.35M124.35 129.73h1.35M129.85 136.05h1.35M133.6 141.58h1.35M127.77 142.64h1.35M114.04 118.81h1.35M126.4 138.39h1.35M134.93 106.4h1.35M124.23 142.89h1.35M127.18 129.63h1.35M137.7 133.26h1.35M119.25 120.75h1.35M116.49 132.77h1.35M113.81 122.15h1.35M109.23 137.35h1.35M122.54 135.09h1.35M124.94 117.57h1.35M106.83 137.7h1.35M131.86 131.14h1.35M112.61 119.26h1.35M132.79 122.53h1.35M116.83 118.17h1.35M115.36 116.85h1.35M134.09 141.26h1.35M131.29 127.64h1.35M130.88 141.85h1.35M117 140.87h1.35M103.62 142.23h1.35M133.69 139.33h1.35M112.23 142.86h1.35M129.24 121.82h1.35M130.03 138.45h1.35M127.07 138.65h1.35M122.21 107.65h1.35M104.73 139.15h1.35M136.69 140.92h1.35M119.22 117.69h1.35M128.07 124.42h1.35M121.55 138.55h1.35M136.11 106.79h1.35M137.94 128.99h1.35M132.73 119.33h1.35M110.57 134.45h1.35M111.29 141.99h1.35M135.57 131.27h1.35M123.16 141.71h1.35M125.24 104.11h1.35M120.8 137.99h1.35M116.98 138.79h1.35M120.57 139.52h1.35M127.84 142.69h1.35M112.07 138.72h1.35M129.73 119.63h1.35M119.19 130.62h1.35M88.44 137.6h1.35M116.13 121.94h1.35M117.17 138.33h1.35M137.98 119.64h1.35M118.43 142.88h1.35M124.26 140.03h1.35M137.24 142.78h1.35M127.29 127.96h1.35M124.19 127.83h1.35M116.79 140.22h1.35M110.03 124.99h1.35M105.59 123.82h1.35M135.37 138.89h1.35M113.86 126.65h1.35M115.73 143.11h1.35M117.76 139.96h1.35M120.74 139.27h1.35M117.76 122.47h1.35M116.71 131.75h1.35M137.77 130.18h1.35M132.64 139.49h1.35M126.99 127.98h1.35M99.47 140.39h1.35M108.92 141.04h1.35M107.04 129.64h1.35M116.9 134.41h1.35M134.16 137.4h1.35M133.4 103.62h1.35M135.91 130.44h1.35M128.75 125.32h1.35M118.29 142.68h1.35M90.07 119.88h1.35M121.03 115.85h1.35M120.3 143.08h1.35M108.63 124.45h1.35M137.43 131.05h1.35M104.53 142.48h1.35M123.41 112.39h1.35M107.05 133.25h1.35M121.23 138.97h1.35M124.03 112.39h1.35M115.4 143.07h1.35M121.94 142.81h1.35M115.96 124.98h1.35M131.15 131.97h1.35M136.4 118.96h1.35M130.14 141.72h1.35M134.96 133.14h1.35M130.65 130.86h1.35M120.41 135.53h1.35M118.11 136.35h1.35M118.69 143.06h1.35M96.57 136.9h1.35M128.83 139.44h1.35M131.7 136.44h1.35M136.55 141.6h1.35M135.25 134.32h1.35M113.36 130.87h1.35M116.71 141.48h1.35M109.75 135.19h1.35M118.22 102.81h1.35M137.07 135.9h1.35M115.75 131.79h1.35M125.61 133.16h1.35M120.4 140.93h1.35M111.02 140.31h1.35M122.4 123.34h1.35M135.09 110.61h1.35M118.66 132.87h1.35M116.52 140.06h1.35M89.49 143.27h1.35M117.29 119.07h1.35M131.46 138.7h1.35M125.62 132.78h1.35M128.05 116.96h1.35M110.41 138.36h1.35M114.91 128.88h1.35M118.2 118.66h1.35M133.76 133.29h1.35M121.8 139.43h1.35M137.31 111.88h1.35M131.18 141.14h1.35M106.99 116.64h1.35M127.75 135.95h1.35M106.16 140.78h1.35M131.81 132.06h1.35M135.1 105.38h1.35M107.15 121.61h1.35M120.5 114.17h1.35M131.79 126.17h1.35M128.64 141.1h1.35M121.18 140.96h1.35M130.22 137.88h1.35M133.49 126.75h1.35M134.01 137h1.35M119.77 132h1.35M93.99 120.29h1.35M124.26 122.17h1.35M130.36 132.8h1.35M131.24 138.74h1.35M131.86 124.87h1.35M125.08 127.14h1.35M129.25 141.04h1.35M113.83 131.49h1.35M125.52 109.76h1.35M136.33 130.38h1.35M107.75 118.82h1.35M132.69 135.61h1.35M101.48 134.99h1.35M126.13 127.62h1.35M122.12 126.94h1.35M126.27 142.73h1.35M132.47 113.73h1.35M137.35 138.87h1.35M105.5 137.29h1.35M116.98 109.81h1.35M102.44 130.84h1.35M125.39 131.79h1.35M125.3 139.19h1.35M85.91 128.5h1.35M136.87 141.13h1.35M135.16 121.14h1.35M129.87 133.07h1.35M133.07 135.94h1.35M124.96 142.95h1.35M119.67 135.2h1.35M129.18 143.26h1.35M137.83 120.23h1.35M97.74 130.51h1.35M85.66 130.89h1.35M136.58 139.77h1.35M119.37 134.27h1.35M106.17 121.02h1.35M130.76 108.26h1.35M130.51 141.38h1.35M120.46 127.1h1.35M136.8 132.13h1.35M129.98 139.77h1.35M128.35 104.18h1.35M102.01 137.37h1.35M137.01 124.18h1.35M97.61 142.78h1.35M119.52 140.14h1.35M137.22 129.76h1.35M89.81 137.89h1.35M131.43 120.14h1.35M136.69 135.65h1.35M114.23 129.36h1.35M106.13 129.25h1.35M93.32 121.49h1.35M113.48 118.56h1.35M131.8 135.79h1.35M136.05 122.45h1.35M116.76 139.71h1.35M136.86 135.31h1.35M116.92 133.02h1.35M116.19 126.32h1.35M92.11 131.38h1.35M130.33 110.49h1.35M126.85 125.38h1.35M107.83 136.27h1.35M122.03 138.26h1.35M138.1 129.09h1.35M106.82 121.29h1.35M96.05 125.58h1.35M112.79 135.47h1.35M97.14 137.05h1.35M134.42 136.39h1.35M107.62 119.3h1.35M126.37 141.55h1.35M131.33 110.33h1.35M132.22 140.17h1.35M126.14 104.8h1.35M131.66 136.57h1.35M127.02 138.74h1.35M124.31 123.75h1.35M117.03 141.07h1.35M137.04 142.01h1.35M103.75 131.61h1.35M117.17 130.84h1.35M132.83 135.6h1.35M127.22 132.47h1.35M125.38 123.32h1.35M129.52 122.01h1.35M136.68 126.13h1.35M122.47 139.01h1.35M124.14 126.79h1.35M109.29 134.04h1.35M137.6 133.59h1.35M94.9 133.78h1.35M118.62 136.86h1.35M127.36 131.3h1.35M102.57 132.6h1.35M134.91 128.88h1.35M115.47 111.89h1.35M88.29 141.58h1.35M106.78 125.84h1.35M134.3 119.74h1.35M100.28 141.01h1.35M108.34 131.36h1.35M134.94 141.7h1.35M135.79 130.14h1.35M113.99 114.54h1.35M121.92 131.07h1.35M132.7 132.5h1.35M108.2 124.24h1.35M107.1 112.56h1.35M137.66 121.73h1.35M119.8 141.9h1.35M137.54 136.41h1.35M125.44 132.45h1.35M107.58 118.46h1.35M136.14 139.02h1.35M130.62 141.44h1.35M111.8 130.51h1.35M105.3 139h1.35M95.3 131.73h1.35M106.83 122.66h1.35M112.69 142.14h1.35M125.33 137.12h1.35M121.34 116.22h1.35M125.62 129.05h1.35M116.47 124.88h1.35M114.86 134.48h1.35M130.85 132.65h1.35M134.44 139.2h1.35M97.36 142.27h1.35M128.42 137.55h1.35M125.94 121.66h1.35M125.72 116.74h1.35M124.34 108.22h1.35M122.17 129.62h1.35M126.58 111.93h1.35M132.63 142.79h1.35M124.03 141.44h1.35M128.09 107.08h1.35M117.03 134.58h1.35M124.43 141.59h1.35M125.9 114.06h1.35M99.92 141.04h1.35M121.7 128.1h1.35M109.17 125.74h1.35M136.21 142.33h1.35M122.18 138.19h1.35M126.42 142.61h1.35M128.89 132.97h1.35M123.83 116.59h1.35M138.12 136.52h1.35M126.57 120.43h1.35M130.88 118.14h1.35M103.1 135.9h1.35M89.76 133.88h1.35M113.66 132.59h1.35M134.44 137.46h1.35M88.32 133.19h1.35M115 123.18h1.35M104.18 117.2h1.35M126.21 136.4h1.35M103.69 128.4h1.35M110.5 134.34h1.35M108.68 131.77h1.35M135.67 118.81h1.35M127.31 118.95h1.35M133.32 137.52h1.35M123.81 136.42h1.35M114.35 134.67h1.35M122.77 141.17h1.35M106.68 142.45h1.35M113.98 128.61h1.35M119.33 135.3h1.35M118.98 113.95h1.35M123.87 135.36h1.35M114.89 135.87h1.35M120.74 125.55h1.35M109.41 141.08h1.35M113.66 127.25h1.35M127.69 135.46h1.35M118.16 136.95h1.35M118.87 122.48h1.35M106.39 139.23h1.35M136.32 142.95h1.35M120.4 129.77h1.35M133.61 138.8h1.35M114.1 138.43h1.35M116.72 128.69h1.35M111.01 132.94h1.35M93.5 120.59h1.35M121.91 133.68h1.35M109.87 137.33h1.35M137.81 136.64h1.35M90.51 140.81h1.35M138.07 130.02h1.35M100.2 133.91h1.35M102.59 139.88h1.35M128.87 126.37h1.35M126.46 118.88h1.35M121.95 117.66h1.35M92.99 128.42h1.35M103.42 141.87h1.35M128.18 141.29h1.35M123.14 132.03h1.35M105.57 135.87h1.35M118.09 123.25h1.35M133.55 132.45h1.35M133.47 120.26h1.35M121.09 133.19h1.35M111.78 136.34h1.35M91.24 132.25h1.35M134.49 140.62h1.35M123.6 130.56h1.35M130.29 132.17h1.35M110.31 130.22h1.35M114.13 142.4h1.35M130.86 131.82h1.35M123.72 136.72h1.35M116.83 117.79h1.35M99.42 136.9h1.35M137.07 142.8h1.35M121.71 137.11h1.35M132.95 133.79h1.35M124.49 111.77h1.35M126.29 139.82h1.35M104.29 131.38h1.35M128.98 129.3h1.35M137.68 131.01h1.35M116.65 132.26h1.35M123.53 123.94h1.35M111.98 139.09h1.35M138.04 113.6h1.35M123.61 129.35h1.35M133.35 138.22h1.35M132.05 117.91h1.35M136.79 110.8h1.35M119.75 124.71h1.35M132.91 139.9h1.35M137.46 126.97h1.35M131.6 142.83h1.35M122.32 105.76h1.35M95.52 127.31h1.35M135.92 118.98h1.35M117.15 131.13h1.35M107.95 124.45h1.35M107.64 127.76h1.35M116.58 123.93h1.35M136.34 129.86h1.35M115.79 138.11h1.35M136.69 126.94h1.35M126.47 116.77h1.35M122.34 127.65h1.35M123.98 136.22h1.35M109.64 138.66h1.35M119.14 108.02h1.35M121.53 143.08h1.35M103.65 141.46h1.35M147.04 115.96h1.35M156.82 115.56h1.35M147.74 137.24h1.35M150.28 142.49h1.35M147.04 101.34h1.35M148.89 141.61h1.35M150.04 124.65h1.35M162.44 132.29h1.35M157.08 126.37h1.35M161.51 142.23h1.35M154.94 131h1.35M150.67 119.36h1.35M146.58 130.95h1.35M159.29 130.79h1.35M157.23 139.31h1.35M155.13 128.58h1.35M154.95 123.48h1.35M148.14 117.24h1.35M152.66 138.2h1.35M164.94 131.81h1.35M158.1 120.78h1.35M155.27 99.36h1.35M148.49 115.62h1.35M151.72 115.39h1.35M162.94 132.7h1.35M148.71 101.08h1.35M152.35 137.03h1.35M148.62 139.98h1.35M150.32 125.31h1.35M146.81 123.61h1.35M160.5 112.32h1.35M159.37 137.39h1.35M158.74 140.61h1.35M153.8 133.97h1.35M160.8 141.92h1.35M149.01 114.85h1.35M147.61 120.85h1.35M164.24 139.75h1.35M162.65 116.8h1.35M153.27 140.35h1.35M159.23 115.46h1.35M152.03 129.95h1.35M160.35 142.57h1.35M149.64 131.28h1.35M162.57 137.73h1.35M158.72 122.65h1.35M150.96 142.63h1.35M157.64 118.71h1.35M157.51 114.69h1.35M164.12 143.14h1.35M158.33 135.68h1.35M153.54 99.09h1.35M146.92 118.4h1.35M152 129.83h1.35M151.75 134.78h1.35M153.71 119.93h1.35M154.26 111.54h1.35M152.53 120.11h1.35M157.81 140.17h1.35M148.13 125.3h1.35M162.46 128.94h1.35M156.01 124.8h1.35M163.44 119.53h1.35M149.43 128.52h1.35M160.34 141.68h1.35M154.5 124.62h1.35M161.71 118.46h1.35M146.69 141.71h1.35M147.54 126.62h1.35M162.54 134.07h1.35M161.82 141.94h1.35M164.79 141.19h1.35M148.8 136.17h1.35M159.73 139.09h1.35M160 96.34h1.35M146.53 133.84h1.35M161.85 139.33h1.35M156.19 141.23h1.35M159.18 140.02h1.35M154.87 134.48h1.35M147.19 135.38h1.35M156.62 139.92h1.35M164.32 130.11h1.35M150.41 122.43h1.35M152.94 133.54h1.35M153.52 129.18h1.35M151.72 69.65h1.35M158.65 119.49h1.35M149.73 135.14h1.35M149.34 137.31h1.35M146.79 135.92h1.35M161.25 107.77h1.35M157.89 92.71h1.35M158.38 95.22h1.35M158.79 142.7h1.35M147.62 117.83h1.35M158.66 130.71h1.35M165.29 139.94h1.35M164.94 138.34h1.35M153.26 124.31h1.35M147.59 132.59h1.35M163.58 137.72h1.35M156.58 135.66h1.35M156.96 104.5h1.35M156.45 133.18h1.35M147.12 136.95h1.35M153.37 126.09h1.35M164.64 130.01h1.35M164.54 135.79h1.35M149.6 130.6h1.35M158.88 116.83h1.35M156.33 99.96h1.35M154.26 129.77h1.35M165.81 142.2h1.35M154.08 135.17h1.35M150.41 142.25h1.35M164.28 139.13h1.35M157.45 143.07h1.35M146.66 131.95h1.35M152.22 135.93h1.35M158.97 111.54h1.35M161.83 131.79h1.35M146.69 141.17h1.35M164.08 131.81h1.35M153.18 97.9h1.35M156.06 141.41h1.35M147.13 140.18h1.35M165.86 139.66h1.35M161.62 140.76h1.35M146.77 136.33h1.35M162.61 138.68h1.35M163.71 141.47h1.35M148.35 132.08h1.35M157.01 138.57h1.35M147.51 140.92h1.35M152.89 99h1.35M148.86 88.01h1.35M158.06 138.31h1.35M160.1 127.93h1.35M158.28 130.48h1.35M148.54 124.66h1.35M160.56 119.93h1.35M156.17 124.47h1.35M160.66 127.91h1.35M163.89 136.29h1.35M164.79 142.18h1.35M156.71 124.88h1.35M149.79 120.01h1.35M154.73 141.9h1.35M151.06 141.04h1.35M157.85 138.13h1.35M153.37 119.86h1.35M152.53 133.1h1.35M150.95 117.67h1.35M146.61 122.18h1.35M151.68 123.65h1.35M162.32 136.72h1.35M154.33 140.73h1.35M156.04 137.85h1.35M147.36 130.56h1.35M158.46 126.36h1.35M146.74 134.71h1.35M154.92 120.66h1.35M146.56 138.91h1.35M163.82 142.67h1.35M155.88 142.08h1.35M157.72 130.16h1.35M159.28 95.21h1.35M152.11 141.2h1.35M160.65 100.19h1.35M154.85 119.37h1.35M155.78 121.6h1.35M156.47 121.78h1.35M157.76 120.66h1.35M153.96 103.56h1.35M150.9 132.05h1.35M158.49 137.57h1.35M155.68 140.45h1.35M146.85 121.01h1.35M147.86 135.02h1.35M152.51 142.8h1.35M154.51 125.47h1.35M159.25 137.93h1.35M157.42 130.9h1.35M155.37 141.82h1.35M151.89 119.1h1.35M156.47 111.05h1.35M154.68 143.21h1.35M152.8 132.99h1.35M158.08 138.86h1.35M164.77 142.35h1.35M157.01 137.65h1.35M165.05 135.37h1.35M149.33 140.95h1.35M158.61 133.3h1.35M146.81 106.45h1.35M148.67 141.28h1.35M159.69 133.69h1.35M151.49 85.31h1.35M156.83 125.78h1.35M148.3 106.74h1.35M159.62 140.21h1.35M156.49 118.87h1.35M161.89 142.91h1.35M161.9 106.33h1.35M151.78 126.83h1.35M151.95 114.9h1.35M154.12 139.05h1.35M159.61 133.37h1.35M161.27 134.6h1.35M155.12 83.19h1.35M161.95 113.45h1.35M146.6 130.41h1.35M146.53 130.58h1.35M161.67 143.03h1.35M154.5 124.29h1.35M161.07 141.67h1.35M161.08 132.26h1.35M154.84 131.71h1.35M151.66 120.65h1.35M157.39 117.84h1.35M164.16 135.24h1.35M151.83 117.74h1.35M146.97 133.64h1.35M147.41 129.9h1.35M161.79 105.58h1.35M159.13 121.48h1.35M162.28 134.01h1.35M149.43 107.64h1.35M152.59 131.54h1.35M164.59 131.87h1.35M162.56 126.54h1.35M153.25 139.98h1.35M159.43 127.83h1.35M152.92 137.22h1.35M156.82 117.37h1.35M156.28 143.22h1.35M162.12 125.64h1.35M153.22 135.01h1.35M152.16 121.25h1.35M152.28 134.04h1.35M147.38 134.27h1.35M159.73 125.83h1.35M153.79 108.08h1.35M162.74 139.1h1.35M157.39 125.83h1.35M156.51 130.93h1.35M152.17 139.83h1.35M152.79 138.12h1.35M152.34 120.25h1.35M156.8 142.75h1.35M155.86 128.55h1.35M162.59 127.02h1.35M146.62 104.91h1.35M156.21 126.7h1.35M159.99 113.14h1.35M147.04 136.98h1.35M156.26 141.38h1.35M150.13 95.52h1.35M152.55 135.36h1.35M147.09 124.46h1.35M148.5 128.56h1.35M147.51 142.46h1.35M148.47 99.11h1.35M152.71 140.73h1.35M157.91 107.6h1.35M155.01 126.05h1.35M152.93 125.16h1.35M152.51 112.48h1.35M151.95 123.97h1.35M149.88 133.65h1.35M149.54 135.85h1.35M156.66 132.26h1.35M154.13 118.07h1.35M159.18 139.77h1.35M151.72 139.05h1.35M162.93 136.53h1.35M153.56 116.65h1.35M164.86 139.48h1.35M149.78 141.67h1.35M153.8 111.61h1.35M156.01 142.39h1.35M158.48 115.86h1.35M157.43 138.12h1.35M160.29 142.44h1.35M147.63 131.74h1.35M148.25 129.56h1.35M155.08 141.53h1.35M162.84 116.64h1.35M154.41 108.27h1.35M160.98 128.27h1.35M150.35 122.53h1.35M156.7 131.35h1.35M154.71 143.02h1.35M156.75 140.36h1.35M156.67 120.38h1.35M149.05 131.95h1.35M146.88 126.11h1.35M156.45 140.81h1.35M146.67 132.97h1.35M147.84 130.53h1.35M153.74 142.31h1.35M149.18 140.2h1.35M151.48 120.72h1.35M147.82 142.03h1.35M154.47 125.45h1.35M157.2 105.61h1.35M159.05 102.91h1.35M162.11 133.55h1.35M146.94 135.18h1.35M164.4 139.42h1.35M165.07 137.01h1.35M147.99 123.34h1.35M164.37 135.57h1.35M150.96 134.02h1.35M147.67 142.47h1.35M150.7 116.92h1.35M162.4 112.76h1.35M163.31 129.42h1.35M159.84 135.28h1.35M158.33 110.68h1.35M147.52 139.64h1.35M161.73 129.95h1.35M159.86 134.18h1.35M153.85 133.8h1.35M162.34 127.42h1.35M157.23 112.7h1.35M160.61 125.58h1.35M148.34 126.6h1.35M151.82 140.16h1.35M152.94 96.27h1.35M151.49 131.39h1.35M154.75 105.45h1.35M156.63 93.64h1.35M158.37 136.32h1.35M152.64 141.19h1.35M162.09 134.97h1.35M155.1 119.9h1.35M152.99 71.25h1.35M147.18 141.9h1.35M149.79 141.18h1.35M148.87 119.49h1.35M155.95 102.67h1.35M157.46 113.72h1.35M159.89 141.81h1.35M154.5 135.56h1.35M148.06 140.72h1.35M162.5 121.25h1.35M158.6 141.37h1.35M156.55 139.53h1.35M154.44 127.04h1.35M149.94 112.57h1.35M147.28 136.39h1.35M153.84 132.25h1.35M162.94 143.25h1.35M154.28 132.98h1.35M162.57 142.39h1.35M151.32 119.06h1.35M156.13 141.94h1.35M160.69 119.55h1.35M159.29 142.55h1.35M147.32 140.93h1.35M153.85 142.33h1.35M148.27 129.53h1.35M160.13 136.35h1.35M149.07 117.38h1.35M149.25 132.78h1.35M165.39 136.01h1.35M154.97 142.86h1.35M147.91 130.5h1.35M159.73 127.8h1.35M148.7 121.99h1.35M155.51 118.7h1.35M150.14 120.02h1.35M150.59 123.41h1.35M160.87 103.63h1.35M162.3 128.46h1.35M153.62 117.41h1.35M153.4 128.26h1.35M153.92 104.34h1.35M151.54 140.64h1.35M158.19 142.47h1.35M156.19 134.74h1.35M151.69 123.75h1.35M163.07 142.94h1.35M153.22 140.82h1.35M160.82 124.32h1.35M151.25 86.37h1.35M162.34 136.53h1.35M159.16 141.53h1.35M152.76 128.02h1.35M154.19 134.45h1.35M147.7 122.03h1.35M149.77 142.98h1.35M149.7 114.69h1.35M157.82 143.09h1.35M162.79 133.82h1.35M152.79 119.73h1.35M151.23 134.14h1.35M150.41 135.84h1.35M155.33 133.77h1.35M157.16 142.32h1.35M156.71 138.82h1.35M162.85 135.6h1.35M148 142.15h1.35M153.34 129.57h1.35M151.6 126.58h1.35M163.61 142.25h1.35M152.89 127.77h1.35M156.74 136.65h1.35M151.1 101.73h1.35M154.07 123.32h1.35M156.73 116.96h1.35M151.54 136.51h1.35M160.13 139.78h1.35M153.08 122.12h1.35M150.93 142.15h1.35M153.59 121.78h1.35M160.89 142.77h1.35M161.2 132.83h1.35M146.55 130.33h1.35M147.28 134.59h1.35M155.13 108.48h1.35M154.8 137.92h1.35M158.79 137.49h1.35M163.83 126.57h1.35M151.39 141.39h1.35M163.43 135.59h1.35M158.21 141.49h1.35M154.41 138.24h1.35M153.38 106.23h1.35M162.28 142.09h1.35M157.93 133.62h1.35M159.56 142.6h1.35M163.04 141.27h1.35M152.5 138.13h1.35M152.15 129.62h1.35M161.07 99.34h1.35M152.81 136.37h1.35M156.81 109.02h1.35M151.12 139.99h1.35M160.59 101.65h1.35M155.94 129.08h1.35M158.15 97.87h1.35M148.61 129.09h1.35M156.58 113h1.35M155.97 137.14h1.35M160.86 136.73h1.35M158.29 123.99h1.35M163.43 135.04h1.35M154.73 124.38h1.35M162.62 142.51h1.35M160.67 127.95h1.35M150.84 142.93h1.35M156.88 127.38h1.35M147.93 104.59h1.35M155.13 143.08h1.35M146.53 140.25h1.35M154.66 132.43h1.35M157.71 128.82h1.35M147.84 125.97h1.35M151.42 137.34h1.35M149.99 97.21h1.35M159.8 120.08h1.35M163.1 142.87h1.35M153.48 126.29h1.35M151.69 113.9h1.35M149.44 131.66h1.35M157.52 124.31h1.35M161.31 143.12h1.35M159.38 140.91h1.35M146.73 130.31h1.35M156.44 122.6h1.35M148.17 130.67h1.35M153.19 139.83h1.35M153.02 122.82h1.35M152.51 93.19h1.35M161.83 121.95h1.35M148.8 136.44h1.35M150.61 141.05h1.35M159.61 133.45h1.35M148.4 120.57h1.35M147.78 142.48h1.35M162.51 121.89h1.35M159.81 114.32h1.35M147.38 131.26h1.35M157.01 122.63h1.35M163.27 131.11h1.35M164.39 135.27h1.35M163.17 118.94h1.35M155.09 133.55h1.35M160.69 131.85h1.35M150.02 138.41h1.35M150.4 137.62h1.35M152.96 121.36h1.35M161.5 132.52h1.35M148.39 95.23h1.35M160.74 142.86h1.35M164.5 129.83h1.35M152.94 123.78h1.35M160.91 142.15h1.35M156.18 136.84h1.35M147.87 104.82h1.35M161.38 133.69h1.35M162.75 134.09h1.35M165.23 137.31h1.35M158.38 137.08h1.35M153.87 136.37h1.35M157.93 113.07h1.35M152.95 128.83h1.35M152.2 140.58h1.35M156.27 143.05h1.35M147.46 132.18h1.35M147.1 141.02h1.35M161.65 108.75h1.35M151.42 109.98h1.35M154.51 133.63h1.35M159.07 121.65h1.35M154.98 131.05h1.35M163.31 128.52h1.35M152.3 69.25h1.35M164.62 141.45h1.35M150.8 138.58h1.35M156.3 122.04h1.35M153.24 91.95h1.35M156.6 138.54h1.35M147.44 120.33h1.35M153.63 138.83h1.35M152.15 118.83h1.35M156.97 128.16h1.35M157.86 125.59h1.35M156.6 140.76h1.35M149.22 99.9h1.35M152.41 120.89h1.35M157.92 123.23h1.35M163.94 139.12h1.35M165.07 133.62h1.35M150.55 136.12h1.35M150.32 131.86h1.35M152.74 116.79h1.35M154.22 122.25h1.35M150.88 87.37h1.35M152.93 137.35h1.35M153.4 130.06h1.35M159.02 107.91h1.35M147.1 101.45h1.35M156.57 140.93h1.35M150.1 135.47h1.35M148.58 127.38h1.35M159.66 117.89h1.35M153.61 118.96h1.35M159.53 139.4h1.35M152.82 135.42h1.35M160.77 138.04h1.35M162.62 133.66h1.35M149.07 140.46h1.35M146.92 129.36h1.35M158.4 99.29h1.35M147.91 133.99h1.35M151.36 138.12h1.35M160.33 104.01h1.35M162.51 140.72h1.35M146.79 136.96h1.35M149.84 130.34h1.35M149.31 138.2h1.35M152.96 117.09h1.35M151.64 140.93h1.35M156.87 141.41h1.35M159.97 137.92h1.35M154.72 101.04h1.35M157.15 139.06h1.35M156.26 137.11h1.35M154.01 142.54h1.35M157.51 140.58h1.35M156.85 126.62h1.35M161.01 118.2h1.35M158.24 98.17h1.35M148.96 129.72h1.35M160.89 132.16h1.35M160.86 105.18h1.35M155.66 127.75h1.35M146.82 118.1h1.35M160.96 121.5h1.35M155.37 129.11h1.35M162.53 118.15h1.35M157.65 142.31h1.35M162.59 124.11h1.35M151.98 121.72h1.35M162.91 134.72h1.35M156.79 137.59h1.35M150.8 137.62h1.35M159.45 137.22h1.35M148.18 123.21h1.35M155.86 127.91h1.35M162.32 141.99h1.35M149.54 108.89h1.35M151.66 133.85h1.35M158.58 90.03h1.35M165.63 142.3h1.35M151.98 121.55h1.35M149.78 90.51h1.35M149.61 118.2h1.35M156.74 134.85h1.35M152.62 100.84h1.35M163.32 140.19h1.35M161.62 138.15h1.35M146.54 128.94h1.35M165.22 141.17h1.35M163.31 133.43h1.35M150.65 114.19h1.35M151.04 141.37h1.35M151.96 139.68h1.35M152.98 139.17h1.35M146.88 120.84h1.35M156.97 125.56h1.35M161.56 130.1h1.35M152.95 82.75h1.35M149.16 134.22h1.35M156.42 138.93h1.35M147.95 134.96h1.35M161.65 130.87h1.35M164.56 136.56h1.35M150.33 82.3h1.35M158.11 125.44h1.35M158.67 124.19h1.35M148.03 135.93h1.35M151.05 129.6h1.35M153.82 137.3h1.35M161.51 134.6h1.35M152.32 130.73h1.35M147.89 139.82h1.35M156.3 128.26h1.35M154.7 141.23h1.35M160.38 126.68h1.35M155.58 123.95h1.35M152.97 138.07h1.35M164.62 141.14h1.35M154.38 142.41h1.35M163.54 123.92h1.35M150.05 136.78h1.35M158.25 143.22h1.35M150.11 105.11h1.35M152.12 105.88h1.35M157.69 136.44h1.35M162.33 142.29h1.35M154.03 143.26h1.35M158.22 127.3h1.35M157.69 133.62h1.35M155.75 132.83h1.35M154.62 128.33h1.35M157.04 131.78h1.35M161.24 131.71h1.35M149.26 129.57h1.35M153.98 134.16h1.35M156.96 138.27h1.35M159.99 141.47h1.35M147.06 139.61h1.35M153.51 132.46h1.35M147.11 128.19h1.35M164.62 142.36h1.35M150.46 122.48h1.35M161.07 140.9h1.35M151.11 134.82h1.35M152.86 122.42h1.35M146.77 106.2h1.35M159.72 139.41h1.35M153.59 141.76h1.35M152.14 71.93h1.35M162.27 119.59h1.35M161.39 121.74h1.35M156.77 132.87h1.35M147.49 134.15h1.35M150.69 109.19h1.35M148.73 132.51h1.35M162.48 126.44h1.35M152.28 115.9h1.35M152.34 131.26h1.35M156.01 102.69h1.35M160.16 102.75h1.35M151.91 116.17h1.35M150.42 123.36h1.35M163.98 139.64h1.35M158.7 131.38h1.35M148.46 133.4h1.35M152.73 138.59h1.35M150.16 125h1.35M160.97 108.01h1.35M154.13 117.64h1.35M149.71 112.78h1.35M146.66 132.1h1.35M158.86 138.55h1.35M155.75 133.23h1.35M160.19 136.09h1.35M159.13 118.13h1.35M159.38 113.42h1.35M147.84 117.73h1.35M159.32 128.29h1.35M151.08 136.27h1.35M150.88 115.1h1.35M159.92 120.33h1.35M157.06 127.53h1.35M151.33 71.28h1.35M151.06 128.12h1.35M161.83 137.08h1.35M152.65 86.21h1.35M158.22 134.76h1.35M151.4 94.52h1.35M152.32 100.86h1.35M162.11 124.16h1.35M160.68 137.78h1.35M150.35 124.95h1.35M163.43 124.22h1.35M163 130.99h1.35M157.63 126.65h1.35M163.55 140.49h1.35M149.94 132.72h1.35M161.07 132.48h1.35M152.81 127.84h1.35M159.4 139.27h1.35M153.22 136.94h1.35M153.04 133.05h1.35M159.63 134.52h1.35M150.13 132.86h1.35M158.47 140.49h1.35M149.38 141.4h1.35M158.01 127.65h1.35M152.34 117.34h1.35M158.18 141.9h1.35M162.57 115.34h1.35M154.04 101.55h1.35M152.34 124.32h1.35M153.45 121.55h1.35M154.45 129.24h1.35M155.93 137.37h1.35M154.61 122.7h1.35M163.75 124.46h1.35M157.93 119.76h1.35M152.33 135.11h1.35M162.92 138.57h1.35M154.68 137.74h1.35M156.28 140.9h1.35M161.77 138.14h1.35M149.42 141.35h1.35M163.23 140.73h1.35M164.32 130.98h1.35M157.92 117.23h1.35M151.78 135.02h1.35M151.15 138.92h1.35M153.2 139.74h1.35M158.37 129.32h1.35M164.56 140.41h1.35M159.65 112.22h1.35M158.81 130.03h1.35M160.61 129.94h1.35M151.5 112.53h1.35M147.52 98.42h1.35M147.54 131.53h1.35M149.94 126.1h1.35M156.08 138.52h1.35M165.1 142.98h1.35M154.51 137.81h1.35M151.91 106.32h1.35M153.13 141.42h1.35M147.08 126.21h1.35M151.48 141.78h1.35M151.08 128.6h1.35M156.61 130.99h1.35M146.53 141.34h1.35M154.16 99.77h1.35M151.02 139.75h1.35M161.26 125.89h1.35M155.52 135.94h1.35M150.91 104.78h1.35M159.03 127.82h1.35M154.15 131.65h1.35M164.35 143.22h1.35M159.17 141.84h1.35M150.01 142.67h1.35M155.01 127.56h1.35M158.64 119.77h1.35M153.08 123.91h1.35M147.74 102.65h1.35M148.99 129.18h1.35M156.2 91.47h1.35M161.96 127.45h1.35M150.23 142.19h1.35M162.95 127.87h1.35M164.07 138.79h1.35M152.36 121.6h1.35M158.5 120.79h1.35M162.7 117.57h1.35M167.5 121.08h1.35M175.34 122.32h1.35M164.62 136.33h1.35M170.68 139.67h1.35M169.29 128.37h1.35M173.54 139.43h1.35M163.82 104.22h1.35M172.22 139.53h1.35M165.8 141.37h1.35M172.72 141.41h1.35M163.48 128.11h1.35M165.35 133.89h1.35M171.65 137.98h1.35M166.75 121.52h1.35M172.41 129.71h1.35M166.4 136.33h1.35M164.54 136.96h1.35M170.56 141.02h1.35M164.75 137.85h1.35M167.15 140.87h1.35M163.37 130.76h1.35M170.76 117.06h1.35M163.93 140.83h1.35M168.77 133.63h1.35M164.04 134.26h1.35M172.89 137.6h1.35M172.77 142.16h1.35M175.69 119.42h1.35M177.29 141.5h1.35M164.62 142.18h1.35M173.66 143.18h1.35M167.23 140.76h1.35M171.27 121.97h1.35M168.4 131.94h1.35M172.16 141.33h1.35M172.26 140.67h1.35M163.17 138.18h1.35M176.82 132.86h1.35M166.94 141.31h1.35M175.35 127.17h1.35M165.14 138.07h1.35M164.09 129.36h1.35M167.16 134.42h1.35M176.74 130.25h1.35M162.94 130.21h1.35M169.65 118.89h1.35M171.06 140.23h1.35M165.7 141.48h1.35M165.54 136.41h1.35M164.58 136.32h1.35M162.68 115.82h1.35M169.46 136.29h1.35M166.09 142.79h1.35M174.88 126.46h1.35M171.09 125.01h1.35M167.38 118.8h1.35M175.22 136.85h1.35M167.67 110.46h1.35M165.53 132.85h1.35M162.97 105.33h1.35M166.43 138.6h1.35M165.34 119.3h1.35M165.6 124.44h1.35M175.4 141.56h1.35M163.26 125.6h1.35M169.52 125.6h1.35M168.77 129.13h1.35M166.43 142.5h1.35M165.16 142.66h1.35M166.99 125.4h1.35M176.25 129.89h1.35M163.67 140.61h1.35M167.26 138.34h1.35M162.85 133.61h1.35M162.78 138.52h1.35M165.87 124.53h1.35M165.38 127.72h1.35M175.96 114.55h1.35M162.75 130.14h1.35M165.56 143.12h1.35M175.44 142.36h1.35M169.12 140.53h1.35M168.39 122.77h1.35M166.76 130.49h1.35M167.32 126.61h1.35M164.59 120.4h1.35M165.9 140.83h1.35M172.62 139.84h1.35M168.84 143.24h1.35M166.85 131.36h1.35M165.91 122.7h1.35M163.07 136.65h1.35M173.7 131.54h1.35M166.37 141.01h1.35M164.09 142.13h1.35M167.51 136.84h1.35M165.52 119.95h1.35M165.62 131.72h1.35M166.06 142.43h1.35M162.44 140.33h1.35M162.68 142.31h1.35M169.37 117.98h1.35M168.32 133.47h1.35M164.16 141.19h1.35M166.12 142.79h1.35M166.97 133.63h1.35M172.78 134.57h1.35M164.19 139.32h1.35M173.91 141.36h1.35M175 121.67h1.35M172.24 138.67h1.35M174.31 130.73h1.35M164.44 137.64h1.35M166.52 140.78h1.35M173.38 135.43h1.35M170.13 136.21h1.35M170.6 134.77h1.35M170.62 120.56h1.35M172.07 140.36h1.35M166.79 138.55h1.35M168.77 124.05h1.35M167.74 130.54h1.35M165.2 131.06h1.35M175.73 123.36h1.35M165.13 130.34h1.35M166.71 143.06h1.35M164.28 139.58h1.35M163.95 138.1h1.35M163.21 134.52h1.35M165.76 124.21h1.35M164.54 139.2h1.35M167.34 133.35h1.35M164.44 139.97h1.35M169.98 133.88h1.35M169.22 135.6h1.35M164.29 140.96h1.35M165.61 133.94h1.35M173.74 111.4h1.35M166.87 135.34h1.35M176.04 141.57h1.35M166.33 139.18h1.35M169.9 138.6h1.35M170.17 129.89h1.35M164.85 117.63h1.35M170.93 118.17h1.35M169.86 122.86h1.35M170.33 135.87h1.35M165.15 140.93h1.35M170.44 138.61h1.35M171.57 137.02h1.35M168.6 142.83h1.35M163.16 134.08h1.35M172.54 117.74h1.35M163.25 143.02h1.35M164.44 138.06h1.35M173.94 124.8h1.35M164.37 135.1h1.35M175.11 132.81h1.35M170.38 138.26h1.35M163.44 135.74h1.35M164.73 134.95h1.35M163.11 143.09h1.35M171.31 137.07h1.35M164.53 143.29h1.35M174.1 113.13h1.35M163.1 136.93h1.35M167.62 129.19h1.35M165.35 140.27h1.35M166.4 140.35h1.35M165.83 141.29h1.35M170.43 139.98h1.35M166.97 139.74h1.35M165.11 136.25h1.35M163.75 142.62h1.35M172.12 142.64h1.35M170.04 138.55h1.35M168.13 136.05h1.35M164.88 142.58h1.35M165.82 141.29h1.35M163.95 138.08h1.35M165.67 130.87h1.35M171.23 123.61h1.35M162.98 140.2h1.35M169.2 127.95h1.35M163.64 138.83h1.35M166.6 119.12h1.35M186.94 139.96h1.35M199.16 142.3h1.35M199.2 141.04h1.35M179.79 139.61h1.35M181.29 118.54h1.35M177.73 143.19h1.35M196.61 137.35h1.35M183.7 134.59h1.35M197.51 133.36h1.35M182.34 141.44h1.35M190.43 137.26h1.35M183.97 143.1h1.35M196.14 141.63h1.35M179.16 141.26h1.35M179.68 121.11h1.35M180.58 142.25h1.35M177.57 124.44h1.35M178.25 136.63h1.35M195.99 142.49h1.35M177.92 130.97h1.35M181.25 142.98h1.35M182.85 140.27h1.35M195.25 139.55h1.35M193.29 136.2h1.35M181.22 133.99h1.35M196.64 140.72h1.35M178.39 118.86h1.35M195.23 129.14h1.35M177.4 119.5h1.35M183.48 139.12h1.35M179.28 142.4h1.35M178.92 138.11h1.35M199.17 130.25h1.35M195.51 140.39h1.35M178.04 142.33h1.35M182.3 122.43h1.35M188.79 141.34h1.35M185.9 140.18h1.35M185.34 141.37h1.35M185.19 135.49h1.35M181.58 136.17h1.35M179.14 124.35h1.35M179.6 135.72h1.35M178.67 140.04h1.35M178.17 141.85h1.35M179.41 120.83h1.35M178.76 117.47h1.35M188.75 132.54h1.35M196.04 139.23h1.35M187.02 142.96h1.35M180.42 137.79h1.35M187.32 136.24h1.35M189.85 135.52h1.35M195.55 133.9h1.35M186.31 132.77h1.35M195.55 139.98h1.35M185.11 141.72h1.35M180.63 123.92h1.35M189.18 134.25h1.35M180.4 136.66h1.35M181.16 132.28h1.35M177.41 126.41h1.35M177.59 128.17h1.35M186.77 136.52h1.35M196.06 139.43h1.35M180.92 133.69h1.35M194.55 138.7h1.35M197.66 134.76h1.35M189 142.27h1.35M187.04 137.82h1.35M185.9 141.22h1.35M177.65 140.98h1.35M178.64 139.77h1.35M179.14 143.24h1.35M180.05 134.02h1.35M182.59 134.36h1.35M195.66 140.72h1.35M190.5 135h1.35" stroke="#c3121d" stroke-width="1.35" fill="none"/>
<path d="M101.53 121.71h1.35M104.39 109.74h1.35M125.97 93.73h1.35M97.02 89.5h1.35M100.6 117.89h1.35M123.08 79.24h1.35M116.65 94.42h1.35M81.22 131.5h1.35M130.37 97.11h1.35M105.53 104.69h1.35M114.72 103.02h1.35M91.72 110.84h1.35M116.87 66.23h1.35M136.74 101.82h1.35M121.25 97.81h1.35M121.78 95.59h1.35M114.77 97.67h1.35M85.49 135.25h1.35M90.19 114.17h1.35M107.74 105.26h1.35M116.94 99.44h1.35M133.79 78.01h1.35M98.06 115.47h1.35M131.51 77.9h1.35M125.86 90.22h1.35M82.22 139.28h1.35M86.57 102.91h1.35M130.57 94.06h1.35M100.82 111.41h1.35M96.37 121.72h1.35M127.45 99.73h1.35M119.28 77.69h1.35M128.44 71.82h1.35M99.49 89.76h1.35M72.21 138.84h1.35M137.04 73.85h1.35M136.35 72.66h1.35M90.83 74.18h1.35M122.17 101.94h1.35M85.77 124.91h1.35M78.09 91.9h1.35M87.5 112.81h1.35M133 90.78h1.35M119.92 86.7h1.35M90.68 108.11h1.35M100.17 125.94h1.35M125.35 92.33h1.35M83.13 96.33h1.35M129.84 99.34h1.35M98.42 76.51h1.35M78.46 138.59h1.35M81.62 141.1h1.35M129.41 112.98h1.35M93.84 113.03h1.35M73.94 87.27h1.35M111.03 105.92h1.35M81.47 142.06h1.35M109.5 107.97h1.35M130.41 84.14h1.35M106.67 71.35h1.35M109.36 85.54h1.35M75.04 132.58h1.35M91.58 113.96h1.35M82.86 124.67h1.35M68.41 143.02h1.35M115.59 105.53h1.35M82.01 129.74h1.35M119.56 94.14h1.35M121.28 84.59h1.35M102.71 113.91h1.35M71.32 129.6h1.35M97.33 104.64h1.35M105.31 110.38h1.35M106.23 104.78h1.35M134.8 85.36h1.35M110.4 109.91h1.35M98.16 111.72h1.35M73.51 141.65h1.35M109.76 100.47h1.35M114.54 109.89h1.35M134.05 99.5h1.35M79.79 131.9h1.35M129.25 101.23h1.35M119.04 94.75h1.35M72.37 137.01h1.35M101.91 116.63h1.35M81.62 138.52h1.35M95.4 94.34h1.35M82.64 125.93h1.35M96.01 89.6h1.35M158.07 89.09h1.35M153.14 76.22h1.35M147.72 88.35h1.35M146.99 81.08h1.35M151.56 76.77h1.35M156.27 74.52h1.35M155.48 58.64h1.35M152.11 66.16h1.35M147.56 93.67h1.35M151.63 74.86h1.35M149.17 68.04h1.35M157.21 81.39h1.35M158.75 87.51h1.35M158.1 82.22h1.35M146.55 63.48h1.35M152.9 80.78h1.35M160.02 91.16h1.35M150.82 63.59h1.35M155.74 63.85h1.35M147.18 110.67h1.35M152.93 81.16h1.35M153.83 87.56h1.35M167.12 113.25h1.35M164.45 93.35h1.35M173.11 113.38h1.35M162.34 72.8h1.35M166.49 97.76h1.35M167.24 87.63h1.35M173.69 110.03h1.35M168.47 107.14h1.35M167.08 108.76h1.35M175.16 101.07h1.35M166.54 111.7h1.35M168.77 98.17h1.35M165.72 105.03h1.35M174.05 92.37h1.35M166.61 108.76h1.35M173.78 68h1.35M176.62 114.71h1.35M212.94 77.73h1.35M221.21 132.74h1.35M194.49 131.4h1.35M186.27 119.41h1.35M179.14 99.39h1.35M182.15 129.46h1.35M199.2 135.52h1.35M208.72 104.66h1.35M187.01 125.86h1.35M184.64 117.55h1.35M197.96 127.44h1.35M182.89 114.8h1.35M183.45 119.37h1.35M191.71 84.56h1.35M191.56 112.25h1.35M216.58 131.34h1.35M180.3 115.29h1.35M218.86 133.8h1.35M216.2 137.9h1.35M209.63 139.43h1.35M204.39 142.92h1.35M215.94 139.46h1.35M185 123.04h1.35M187.2 113.38h1.35M177.69 103.22h1.35M222.12 142.88h1.35M215.81 111.51h1.35M187.05 126.89h1.35M189.64 123.7h1.35M192.21 117.25h1.35M197.72 127.11h1.35M201.85 137.76h1.35M218.63 141.99h1.35M192.76 125.67h1.35M190.39 142.56h1.35M192.56 127.78h1.35M221.69 137.15h1.35M181.54 130.14h1.35M182.57 102.53h1.35M195.25 119.96h1.35M206.11 129.53h1.35M190.07 132.14h1.35M197.19 127.18h1.35M179.96 103.2h1.35M201.8 127.14h1.35M70.83 99h1.35M74.73 92.3h1.35M83.92 90.3h1.35M67.03 103.5h1.35M77.33 97h1.35M79.33 104h1.35M77.33 120h1.35M72.33 128h1.35M124.33 62h1.35M124.92 69.4h1.35M104.92 74.4h1.35M90.33 77.5h1.35M119.92 77.5h1.35M81.33 126h1.35M84.33 107h1.35M93.33 88h1.35M109.33 83h1.35M116.33 76h1.35M204.32 88h1.35M211.32 97h1.35M219.32 120h1.35M225.32 128h1.35M214.32 130h1.35M197.32 84h1.35M189.32 92h1.35M227.32 110h1.35" stroke="#982028" stroke-width="1.35" fill="none"/>
<rect x="35.6" y="24.2" width="221.4" height="157.6" fill="none" stroke="#000" stroke-width="1.6"/>
<line x1="141.8" y1="24.2" x2="141.8" y2="181.8" stroke="#111" stroke-width="1"/>
<line x1="32" y1="151.8" x2="35.6" y2="151.8" stroke="#111" stroke-width="1.5"/>
<text x="29" y="154.6" font-size="7.8" text-anchor="end">1</text>
<line x1="32" y1="121.18" x2="35.6" y2="121.18" stroke="#111" stroke-width="1.5"/>
<text x="29" y="123.98" font-size="7.8" text-anchor="end">2</text>
<line x1="32" y1="90.56" x2="35.6" y2="90.56" stroke="#111" stroke-width="1.5"/>
<text x="29" y="93.36" font-size="7.8" text-anchor="end">3</text>
<line x1="32" y1="59.94" x2="35.6" y2="59.94" stroke="#111" stroke-width="1.5"/>
<text x="29" y="62.74" font-size="7.8" text-anchor="end">4</text>
<line x1="32" y1="29.32" x2="35.6" y2="29.32" stroke="#111" stroke-width="1.5"/>
<text x="29" y="32.12" font-size="7.8" text-anchor="end">5</text>
<line x1="38.6" y1="181.8" x2="38.6" y2="185.4" stroke="#111" stroke-width="1.4"/>
<text x="43.2" y="191.2" font-size="7.9" text-anchor="end" transform="rotate(-45 43.2 191.2)">-7.3</text>
<line x1="59.3" y1="181.8" x2="59.3" y2="185.4" stroke="#111" stroke-width="1.4"/>
<text x="63.9" y="191.2" font-size="7.9" text-anchor="end" transform="rotate(-45 63.9 191.2)">-5.84</text>
<line x1="80.5" y1="181.8" x2="80.5" y2="185.4" stroke="#111" stroke-width="1.4"/>
<text x="85.1" y="191.2" font-size="7.9" text-anchor="end" transform="rotate(-45 85.1 191.2)">-4.38</text>
<line x1="101" y1="181.8" x2="101" y2="185.4" stroke="#111" stroke-width="1.4"/>
<text x="105.6" y="191.2" font-size="7.9" text-anchor="end" transform="rotate(-45 105.6 191.2)">-2.92</text>
<line x1="121.6" y1="181.8" x2="121.6" y2="185.4" stroke="#111" stroke-width="1.4"/>
<text x="126.2" y="191.2" font-size="7.9" text-anchor="end" transform="rotate(-45 126.2 191.2)">-1.46</text>
<line x1="162.5" y1="181.8" x2="162.5" y2="185.4" stroke="#111" stroke-width="1.4"/>
<text x="167.1" y="191.2" font-size="7.9" text-anchor="end" transform="rotate(-45 167.1 191.2)">1.46</text>
<line x1="183" y1="181.8" x2="183" y2="185.4" stroke="#111" stroke-width="1.4"/>
<text x="187.6" y="191.2" font-size="7.9" text-anchor="end" transform="rotate(-45 187.6 191.2)">2.92</text>
<line x1="203.5" y1="181.8" x2="203.5" y2="185.4" stroke="#111" stroke-width="1.4"/>
<text x="208.1" y="191.2" font-size="7.9" text-anchor="end" transform="rotate(-45 208.1 191.2)">4.38</text>
<line x1="224.2" y1="181.8" x2="224.2" y2="185.4" stroke="#111" stroke-width="1.4"/>
<text x="228.8" y="191.2" font-size="7.9" text-anchor="end" transform="rotate(-45 228.8 191.2)">5.84</text>
<line x1="245" y1="181.8" x2="245" y2="185.4" stroke="#111" stroke-width="1.4"/>
<text x="249.6" y="191.2" font-size="7.9" text-anchor="end" transform="rotate(-45 249.6 191.2)">7.3</text>
<text x="146.2" y="217.2" font-size="8.6" text-anchor="middle" textLength="127.5" lengthAdjust="spacingAndGlyphs" style="stroke:#1c1c1c;stroke-width:0.45px">Differentially expressed genes (p&lt;0.05)</text>
<text x="17" y="103.3" font-size="8.6" text-anchor="middle" textLength="95.5" lengthAdjust="spacingAndGlyphs" transform="rotate(-90 17 103.3)" style="stroke:#1c1c1c;stroke-width:0.45px">Significance (-log10 p value)</text>
<text x="48.2" y="39.2" font-size="7.4" textLength="52.6" lengthAdjust="spacingAndGlyphs">Downregulated</text>
<text x="189.5" y="39.2" font-size="7.4" textLength="43" lengthAdjust="spacingAndGlyphs">Upregulated</text>
<line x1="50" y1="46.2" x2="107.2" y2="46.2" stroke="#000" stroke-width="1.4"/>
<path d="M47.8 46.2L55.5 42.6L53.6 46.2L55.5 49.8Z" stroke="#000" stroke-width="0.4" fill="#000"/>
<line x1="177.8" y1="46.2" x2="235" y2="46.2" stroke="#000" stroke-width="1.4"/>
<path d="M237.6 46.2L229.9 42.6L231.8 46.2L229.9 49.8Z" stroke="#000" stroke-width="0.4" fill="#000"/>
<text x="222.4" y="96.8" font-size="8.1" textLength="32.4" lengthAdjust="spacingAndGlyphs">MAGEA1</text>
<circle cx="239.4" cy="111.7" r="4.2" fill="none" stroke="#6e9cc4" stroke-width="1.1"/>
<circle cx="239.4" cy="111.7" r="0.8" fill="#6e9cc4"/>
<line x1="239.4" y1="102" x2="239.4" y2="107.4" stroke="#6e9cc4" stroke-width="1"/>
<text x="273.6" y="17.4" font-size="12.6" font-weight="bold" fill="#000" style="stroke:#000;stroke-width:0.35px">B</text>
<line x1="307.6" y1="52.2" x2="307.6" y2="166" stroke="#111" stroke-width="1.6"/>
<line x1="306.9" y1="165.3" x2="473.2" y2="165.3" stroke="#111" stroke-width="1.5"/>
<line x1="304" y1="56" x2="307.6" y2="56" stroke="#111" stroke-width="1.4"/>
<text x="300.8" y="58.6" font-size="8.2" text-anchor="end">5</text>
<line x1="304" y1="101.1" x2="307.6" y2="101.1" stroke="#111" stroke-width="1.4"/>
<text x="300.8" y="103.7" font-size="8.2" text-anchor="end">0</text>
<line x1="304" y1="146.7" x2="307.6" y2="146.7" stroke="#111" stroke-width="1.4"/>
<text x="300.8" y="149.3" font-size="8.2" text-anchor="end">-5</text>
<line x1="348.6" y1="165.3" x2="348.6" y2="168.6" stroke="#111" stroke-width="1.4"/>
<line x1="431.3" y1="165.3" x2="431.3" y2="168.6" stroke="#111" stroke-width="1.4"/>
<text x="349.3" y="180.8" font-size="8.7" text-anchor="middle" textLength="37" lengthAdjust="spacingAndGlyphs">PFS&lt;90d</text>
<text x="431.9" y="180.8" font-size="8.7" text-anchor="middle" textLength="36.4" lengthAdjust="spacingAndGlyphs">PFS&gt;90d</text>
<text x="287.4" y="108.4" font-size="8.4" text-anchor="middle" textLength="55.8" lengthAdjust="spacingAndGlyphs" transform="rotate(-90 287.4 108.4)" style="stroke:#1c1c1c;stroke-width:0.45px">mRNA expression</text>
<path d="M348.4 46.2V32.9H430.5V88.8" stroke="#111" stroke-width="1.3" fill="none"/>
<text x="373.4" y="42.8" font-size="7.95"><tspan font-style="italic">p</tspan>&lt;0.005</text>
<line x1="320.8" y1="76.75" x2="376" y2="76.75" stroke="#111" stroke-width="1.5"/>
<line x1="334.6" y1="61.3" x2="362.6" y2="61.3" stroke="#111" stroke-width="1.5"/>
<line x1="334.6" y1="92.4" x2="362.6" y2="92.4" stroke="#111" stroke-width="1.5"/>
<line x1="348.6" y1="61.3" x2="348.6" y2="92.4" stroke="#111" stroke-width="1.5"/>
<circle cx="348.6" cy="63.3" r="2.9" fill="#dd962b"/>
<circle cx="348.6" cy="73.8" r="2.9" fill="#dd962b"/>
<circle cx="348.6" cy="93.8" r="2.9" fill="#dd962b"/>
<line x1="403.8" y1="139.3" x2="459.5" y2="139.3" stroke="#111" stroke-width="1.5"/>
<line x1="417.4" y1="121" x2="445" y2="121" stroke="#111" stroke-width="1.5"/>
<line x1="417.4" y1="159.3" x2="445" y2="159.3" stroke="#111" stroke-width="1.5"/>
<line x1="431.3" y1="121" x2="431.3" y2="159.3" stroke="#111" stroke-width="1.5"/>
<rect x="428.8" y="104.2" width="5" height="5" fill="#2a406f"/>
<rect x="428.8" y="113" width="5" height="5" fill="#2a406f"/>
<rect x="428.8" y="136.5" width="5" height="5" fill="#2a406f"/>
<rect x="421.1" y="139.3" width="5" height="5" fill="#2a406f"/>
<rect x="428.8" y="146" width="5" height="5" fill="#2a406f"/>
<rect x="421.1" y="153.7" width="5" height="5" fill="#2a406f"/>
<rect x="428.8" y="153.7" width="5" height="5" fill="#2a406f"/>
<rect x="436.4" y="153.7" width="5" height="5" fill="#2a406f"/>
<text x="9.4" y="242.2" font-size="12.6" font-weight="bold" fill="#000" style="stroke:#000;stroke-width:0.35px">C</text>
<text x="43.6" y="272.3" font-size="7.3" textLength="11.4" lengthAdjust="spacingAndGlyphs">OD</text>
<text x="66.6" y="272.3" font-size="7.3" text-anchor="middle" textLength="14.6" lengthAdjust="spacingAndGlyphs">0.94</text>
<text x="84.38" y="272.3" font-size="7.3" text-anchor="middle" textLength="14.6" lengthAdjust="spacingAndGlyphs">1.46</text>
<text x="102.16" y="272.3" font-size="7.3" text-anchor="middle" textLength="14.6" lengthAdjust="spacingAndGlyphs">0.90</text>
<text x="119.94" y="272.3" font-size="7.3" text-anchor="middle" textLength="14.6" lengthAdjust="spacingAndGlyphs">1.82</text>
<text x="137.72" y="272.3" font-size="7.3" text-anchor="middle" textLength="14.6" lengthAdjust="spacingAndGlyphs">0.53</text>
<text x="155.5" y="272.3" font-size="7.3" text-anchor="middle" textLength="14.6" lengthAdjust="spacingAndGlyphs">0.00</text>
<text x="173.28" y="272.3" font-size="7.3" text-anchor="middle" textLength="14.6" lengthAdjust="spacingAndGlyphs">0.00</text>
<text x="191.06" y="272.3" font-size="7.3" text-anchor="middle" textLength="14.6" lengthAdjust="spacingAndGlyphs">0.36</text>
<text x="208.84" y="272.3" font-size="7.3" text-anchor="middle" textLength="14.6" lengthAdjust="spacingAndGlyphs">1.12</text>
<text x="226.62" y="272.3" font-size="7.3" text-anchor="middle" textLength="14.6" lengthAdjust="spacingAndGlyphs">0.82</text>
<text x="244.4" y="272.3" font-size="7.3" text-anchor="middle" textLength="14.6" lengthAdjust="spacingAndGlyphs">0.39</text>
<text x="13.9" y="288.7" font-size="8.9" textLength="39" lengthAdjust="spacingAndGlyphs">MAGE-A1</text>
<text x="27.9" y="312.6" font-size="8.9" textLength="27" lengthAdjust="spacingAndGlyphs">β-actin</text>
<defs><filter id="bl" x="-20%" y="-50%" width="140%" height="200%"><feGaussianBlur stdDeviation="0.7"/></filter><filter id="bl2" x="-20%" y="-50%" width="140%" height="200%"><feGaussianBlur stdDeviation="1.1"/></filter></defs>
<rect x="57.9" y="276.9" width="193.6" height="15.9" fill="#c9c9c9"/>
<rect x="57.9" y="300.9" width="193.9" height="15.4" fill="#c3c3c3"/>
<g filter="url(#bl)"><rect x="58.6" y="281.3" width="14.6" height="6.3" rx="3.15" ry="3.15" fill="#0c0c0c"/><path d="M76.2 284.5C76.2 282.2 78 282.3 80 282.6C84 283.2 86 283.8 88 283.2C90.5 282.4 92.8 282.0 93.2 283.2C93.4 285.5 91 287.8 88 289.2C86 290.2 84.5 291.8 83.4 291.8C81.5 291.8 79 290 77.5 288.5C76.6 287.5 76.2 286 76.2 284.5Z" fill="#0c0c0c"/><path d="M96 280.6C97.5 280.0 98.4 281 98.3 283.2C98.2 284.8 98.8 285.6 100.3 285.8C100.5 286.8 99.5 287.2 97.5 287.0C96.2 286.8 95.7 285.5 95.8 284C95.8 282.6 95.7 281.5 96 280.6Z" fill="#0c0c0c"/><ellipse cx="103.0" cy="286.2" rx="3.6" ry="1.2" fill="#8c8c8c"/><ellipse cx="110.3" cy="284.2" rx="0.9" ry="1.2" fill="#9a9a9a"/><path d="M113.6 288.4C113.4 285.8 116 284.6 119 284.2C122 282.8 124.5 281.2 127 281.3C129.5 281.4 131.8 282.6 131.8 284.4C131.8 286.4 129.8 287.6 127.5 288.4C124.5 289.8 121 291.6 117.5 291.6C115 291.5 113.7 290.3 113.6 288.4Z" fill="#0c0c0c"/><path d="M130.5 285.6C131 284.5 133 284.2 135 283.6C138 282.6 141 280.4 143.4 280.3C145 280.2 145.6 281.4 145.5 282.8C145.3 284.3 144.4 285.0 142.5 285.2C139.5 285.6 136 286.6 133.5 287.6C131.6 288.2 130.2 287.2 130.5 285.6Z" fill="#0c0c0c"/><ellipse cx="191.8" cy="286.5" rx="6.6" ry="1.6" fill="#0c0c0c"/><path d="M203.0 283.6C203.0 281.9 205 281.8 210.5 281.8C216 281.8 218.2 282 218.2 284.2C218.2 287.8 216.5 289.5 211 289.5C208.5 289.5 207 290.8 205.2 290.8C203.6 290.8 203.0 289.2 203.0 286.8Z" fill="#0c0c0c"/><path d="M219.8 284.5C219.8 281 222.5 280.0 227.3 280.0C232.5 280.0 234.8 281 234.8 284.5C234.8 288 232.5 289.0 227.3 289.0C222.5 289.0 219.8 288 219.8 284.5Z" fill="#0c0c0c"/><path d="M237.0 286.1C237.0 284.5 239 284.2 242 284.2C246 284.3 250 284.8 250 286.1C250 287.4 246 287.9 242 288.0C239 288.0 237.0 287.7 237.0 286.1Z" fill="#0c0c0c"/><path d="M58.3 309.3C58.3 305.6 59.5 305.6 61.3 305.6Q66.75 307.2 72.2 305.6C74 305.6 75.2 305.6 75.2 309.3C75.2 313 74 313 66.75 313C59.5 313 58.3 313 58.3 309.3Z" fill="#0c0c0c"/><path d="M76.8 309.3C76.8 305.6 78 305.6 79.8 305.6Q84.65 307.2 89.5 305.6C91.3 305.6 92.5 305.6 92.5 309.3C92.5 313 91.3 313 84.65 313C78 313 76.8 313 76.8 309.3Z" fill="#0c0c0c"/><path d="M96 308.8C96 305.2 97.2 305.2 99 305.2Q102.9 311.6 106.8 305.2C108.6 305.2 109.8 305.2 109.8 308.8C109.8 312.4 108.6 312.4 102.9 312.4C97.2 312.4 96 312.4 96 308.8Z" fill="#0c0c0c"/><path d="M113.3 309.45C113.3 306.5 114.5 306.5 116.3 306.5Q121 307.1 125.7 306.5C127.5 306.5 128.7 306.5 128.7 309.45C128.7 312.4 127.5 312.4 121 312.4C114.5 312.4 113.3 312.4 113.3 309.45Z" fill="#0c0c0c"/><path d="M131.4 308C131.4 304.2 132.6 304.2 134.4 304.2Q139.1 303.4 143.8 304.2C145.6 304.2 146.8 304.2 146.8 308C146.8 311.8 145.6 311.8 139.1 311.8C132.6 311.8 131.4 311.8 131.4 308Z" fill="#0c0c0c"/><path d="M150.7 309.05C150.7 306.3 151.9 306.3 153.7 306.3Q157.65 307.3 161.6 306.3C163.4 306.3 164.6 306.3 164.6 309.05C164.6 311.8 163.4 311.8 157.65 311.8C151.9 311.8 150.7 311.8 150.7 309.05Z" fill="#0c0c0c"/><path d="M166.1 309.05C166.1 306.5 167.3 306.5 169.1 306.5Q172.95 307.5 176.8 306.5C178.6 306.5 179.8 306.5 179.8 309.05C179.8 311.6 178.6 311.6 172.95 311.6C167.3 311.6 166.1 311.6 166.1 309.05Z" fill="#0c0c0c"/><path d="M183 308.9C183 305.4 184.2 305.4 186 305.4Q190.95 305.8 195.9 305.4C197.7 305.4 198.9 305.4 198.9 308.9C198.9 312.4 197.7 312.4 190.95 312.4C184.2 312.4 183 312.4 183 308.9Z" fill="#0c0c0c"/><path d="M202 308.9C202 306 203.2 306 205 306Q209.45 307.4 213.9 304.8C215.7 304.8 216.9 304.8 216.9 308.9C216.9 312.4 215.7 312.4 209.45 312.4C203.2 312.4 202 312.4 202 308.9Z" fill="#0c0c0c"/><path d="M219 307.55C219 302.3 220.2 302.3 222 302.3Q226.95 301.7 231.9 302.3C233.7 302.3 234.9 302.3 234.9 307.55C234.9 312.8 233.7 312.8 226.95 312.8C220.2 312.8 219 312.8 219 307.55Z" fill="#0c0c0c"/><path d="M237 308C237 304.8 238.2 304.8 240 304.8Q244.05 305.4 248.1 304.8C249.9 304.8 251.1 304.8 251.1 308C251.1 311.2 249.9 311.2 244.05 311.2C238.2 311.2 237 311.2 237 308Z" fill="#0c0c0c"/></g>
<text x="71.2" y="319.6" font-size="9" text-anchor="end" transform="rotate(-90 71.2 319.6)">H929</text>
<text x="88.98" y="319.6" font-size="9" text-anchor="end" transform="rotate(-90 88.98 319.6)">Pt 5</text>
<text x="106.76" y="319.6" font-size="9" text-anchor="end" transform="rotate(-90 106.76 319.6)">Pt 15</text>
<text x="124.54" y="319.6" font-size="9" text-anchor="end" transform="rotate(-90 124.54 319.6)">Pt 18</text>
<text x="142.32" y="319.6" font-size="9" text-anchor="end" transform="rotate(-90 142.32 319.6)">Pt 13</text>
<text x="160.1" y="319.6" font-size="9" text-anchor="end" transform="rotate(-90 160.1 319.6)">Pt 8</text>
<text x="177.88" y="319.6" font-size="9" text-anchor="end" transform="rotate(-90 177.88 319.6)">Pt 12</text>
<text x="195.66" y="319.6" font-size="9" text-anchor="end" transform="rotate(-90 195.66 319.6)">Pt 9</text>
<text x="213.44" y="319.6" font-size="9" text-anchor="end" transform="rotate(-90 213.44 319.6)">Pt 20</text>
<text x="231.22" y="319.6" font-size="9" text-anchor="end" transform="rotate(-90 231.22 319.6)">Pt 19</text>
<text x="249" y="319.6" font-size="9" text-anchor="end" transform="rotate(-90 249 319.6)">Pt 14</text>
<line x1="81.3" y1="348.7" x2="127.3" y2="348.7" stroke="#e09a45" stroke-width="1.8"/>
<line x1="132.4" y1="348.7" x2="251.2" y2="348.7" stroke="#3f5273" stroke-width="1.8"/>
<text x="104" y="361.2" font-size="8.9" text-anchor="middle" textLength="38.2" lengthAdjust="spacingAndGlyphs">PFS&lt;90d</text>
<text x="191.8" y="361.2" font-size="8.9" text-anchor="middle" textLength="39" lengthAdjust="spacingAndGlyphs">PFS&gt;90d</text>
<text x="273.6" y="242.2" font-size="12.6" font-weight="bold" fill="#000" style="stroke:#000;stroke-width:0.35px">D</text>
<line x1="307.6" y1="254.2" x2="307.6" y2="368.3" stroke="#111" stroke-width="1.6"/>
<line x1="306.9" y1="367.6" x2="472.6" y2="367.6" stroke="#111" stroke-width="1.5"/>
<line x1="303.8" y1="261" x2="307.6" y2="261" stroke="#111" stroke-width="1.4"/>
<text x="301.2" y="263.9" font-size="8.6" text-anchor="end">2.0</text>
<line x1="303.8" y1="288" x2="307.6" y2="288" stroke="#111" stroke-width="1.4"/>
<text x="301.2" y="290.9" font-size="8.6" text-anchor="end">1.5</text>
<line x1="303.8" y1="314.7" x2="307.6" y2="314.7" stroke="#111" stroke-width="1.4"/>
<text x="301.2" y="317.6" font-size="8.6" text-anchor="end">1.0</text>
<line x1="303.8" y1="341.2" x2="307.6" y2="341.2" stroke="#111" stroke-width="1.4"/>
<text x="301.2" y="344.1" font-size="8.6" text-anchor="end">0.5</text>
<line x1="303.8" y1="367.6" x2="307.6" y2="367.6" stroke="#111" stroke-width="1.4"/>
<text x="301.2" y="370.5" font-size="8.6" text-anchor="end">0.0</text>
<line x1="346.5" y1="367.6" x2="346.5" y2="370.9" stroke="#111" stroke-width="1.4"/>
<line x1="431.3" y1="367.6" x2="431.3" y2="370.9" stroke="#111" stroke-width="1.4"/>
<text x="346.8" y="381.6" font-size="8.7" text-anchor="middle" textLength="36.6" lengthAdjust="spacingAndGlyphs">PFS&lt;90d</text>
<text x="431.6" y="381.6" font-size="8.7" text-anchor="middle" textLength="36.2" lengthAdjust="spacingAndGlyphs">PFS&gt;90d</text>
<text x="282.6" y="310.8" font-size="8.3" text-anchor="middle" textLength="103" lengthAdjust="spacingAndGlyphs" transform="rotate(-90 282.6 310.8)" style="stroke:#1c1c1c;stroke-width:0.45px">Protein expression, ratio to actin</text>
<path d="M346.5 260.8V247.5H431.3V293.8" stroke="#1a1a1a" stroke-width="1.3" fill="none"/>
<text x="374.7" y="258.3" font-size="7.95"><tspan font-style="italic">p</tspan>&lt;0.05</text>
<line x1="319.3" y1="293.8" x2="374.4" y2="293.8" stroke="#1a1a1a" stroke-width="1.5"/>
<line x1="332.4" y1="268.6" x2="360.8" y2="268.6" stroke="#1a1a1a" stroke-width="1.5"/>
<line x1="332.4" y1="318.2" x2="360.8" y2="318.2" stroke="#1a1a1a" stroke-width="1.5"/>
<line x1="346.5" y1="268.6" x2="346.5" y2="318.2" stroke="#1a1a1a" stroke-width="1.5"/>
<circle cx="346.5" cy="270.8" r="2.9" fill="#dd962b"/>
<circle cx="346.5" cy="290" r="2.9" fill="#dd962b"/>
<circle cx="346.5" cy="319.8" r="2.9" fill="#dd962b"/>
<line x1="403.8" y1="342.5" x2="458.8" y2="342.5" stroke="#1a1a1a" stroke-width="1.5"/>
<line x1="417" y1="321.3" x2="445.5" y2="321.3" stroke="#1a1a1a" stroke-width="1.5"/>
<line x1="417" y1="365.5" x2="445.5" y2="365.5" stroke="#1a1a1a" stroke-width="1.5"/>
<line x1="431.3" y1="321.3" x2="431.3" y2="367.6" stroke="#1a1a1a" stroke-width="1.5"/>
<rect x="428.8" y="305.5" width="5" height="5" fill="#2a406f"/>
<rect x="428.8" y="322" width="5" height="5" fill="#2a406f"/>
<rect x="428.8" y="337.5" width="5" height="5" fill="#2a406f"/>
<rect x="420" y="343.8" width="5" height="5" fill="#2a406f"/>
<rect x="428.8" y="345.8" width="5" height="5" fill="#2a406f"/>
<rect x="428.8" y="364.7" width="5" height="5" fill="#2a406f"/>
<rect x="436.8" y="364.7" width="5" height="5" fill="#2a406f"/>
<text x="9.4" y="402.2" font-size="12.6" font-weight="bold" fill="#000" style="stroke:#000;stroke-width:0.35px">E</text>
<text x="149.2" y="402.4" font-size="10" text-anchor="middle" textLength="28.2" lengthAdjust="spacingAndGlyphs">MM.1r</text>
<line x1="47.5" y1="409.2" x2="47.5" y2="545.2" stroke="#111" stroke-width="1.6"/>
<line x1="46.7" y1="544.5" x2="249.5" y2="544.5" stroke="#111" stroke-width="1.6"/>
<line x1="43.9" y1="411.8" x2="47.5" y2="411.8" stroke="#111" stroke-width="1.4"/>
<text x="40.8" y="414.8" font-size="8.3" text-anchor="end">100</text>
<line x1="43.9" y1="438.34" x2="47.5" y2="438.34" stroke="#111" stroke-width="1.4"/>
<text x="40.8" y="441.34" font-size="8.3" text-anchor="end">80</text>
<line x1="43.9" y1="464.88" x2="47.5" y2="464.88" stroke="#111" stroke-width="1.4"/>
<text x="40.8" y="467.88" font-size="8.3" text-anchor="end">60</text>
<line x1="43.9" y1="491.42" x2="47.5" y2="491.42" stroke="#111" stroke-width="1.4"/>
<text x="40.8" y="494.42" font-size="8.3" text-anchor="end">40</text>
<line x1="43.9" y1="517.96" x2="47.5" y2="517.96" stroke="#111" stroke-width="1.4"/>
<text x="40.8" y="520.96" font-size="8.3" text-anchor="end">20</text>
<line x1="43.9" y1="544.5" x2="47.5" y2="544.5" stroke="#111" stroke-width="1.4"/>
<text x="40.8" y="547.5" font-size="8.3" text-anchor="end">0</text>
<line x1="47.5" y1="544.5" x2="47.5" y2="547.9" stroke="#111" stroke-width="1.4"/>
<text x="47.9" y="557.9" font-size="8.3" text-anchor="middle">-10</text>
<line x1="97.5" y1="544.5" x2="97.5" y2="547.9" stroke="#111" stroke-width="1.4"/>
<text x="97.9" y="557.9" font-size="8.3" text-anchor="middle">-9</text>
<line x1="147.5" y1="544.5" x2="147.5" y2="547.9" stroke="#111" stroke-width="1.4"/>
<text x="147.9" y="557.9" font-size="8.3" text-anchor="middle">-8</text>
<line x1="197.5" y1="544.5" x2="197.5" y2="547.9" stroke="#111" stroke-width="1.4"/>
<text x="197.9" y="557.9" font-size="8.3" text-anchor="middle">-7</text>
<line x1="247.5" y1="544.5" x2="247.5" y2="547.9" stroke="#111" stroke-width="1.4"/>
<text x="247.9" y="557.9" font-size="8.3" text-anchor="middle">-6</text>
<text x="149" y="569.4" font-size="9.2" text-anchor="middle" textLength="68.6" lengthAdjust="spacingAndGlyphs" style="stroke:#1c1c1c;stroke-width:0.45px">Panobinostat, log [M]</text>
<text x="18.3" y="476.5" font-size="8.6" text-anchor="middle" textLength="63" lengthAdjust="spacingAndGlyphs" transform="rotate(-90 18.3 476.5)" style="stroke:#1c1c1c;stroke-width:0.45px">Relative viability, %</text>
<line x1="67.6" y1="423" x2="67.6" y2="433.5" stroke="#a8153f" stroke-width="1.1"/>
<line x1="65.4" y1="423" x2="69.8" y2="423" stroke="#a8153f" stroke-width="1.1"/>
<line x1="65.4" y1="433.5" x2="69.8" y2="433.5" stroke="#a8153f" stroke-width="1.1"/>
<line x1="82.4" y1="421.5" x2="82.4" y2="428" stroke="#a8153f" stroke-width="1.1"/>
<line x1="80.2" y1="421.5" x2="84.6" y2="421.5" stroke="#a8153f" stroke-width="1.1"/>
<line x1="80.2" y1="428" x2="84.6" y2="428" stroke="#a8153f" stroke-width="1.1"/>
<line x1="97.4" y1="442" x2="97.4" y2="456.5" stroke="#a8153f" stroke-width="1.1"/>
<line x1="95.2" y1="442" x2="99.6" y2="442" stroke="#a8153f" stroke-width="1.1"/>
<line x1="95.2" y1="456.5" x2="99.6" y2="456.5" stroke="#a8153f" stroke-width="1.1"/>
<line x1="113" y1="455" x2="113" y2="474.3" stroke="#a8153f" stroke-width="1.1"/>
<line x1="110.8" y1="455" x2="115.2" y2="455" stroke="#a8153f" stroke-width="1.1"/>
<line x1="110.8" y1="474.3" x2="115.2" y2="474.3" stroke="#a8153f" stroke-width="1.1"/>
<line x1="121.2" y1="470" x2="121.2" y2="489.5" stroke="#a8153f" stroke-width="1.1"/>
<line x1="119" y1="470" x2="123.4" y2="470" stroke="#a8153f" stroke-width="1.1"/>
<line x1="119" y1="489.5" x2="123.4" y2="489.5" stroke="#a8153f" stroke-width="1.1"/>
<line x1="127" y1="486" x2="127" y2="505" stroke="#a8153f" stroke-width="1.1"/>
<line x1="124.8" y1="486" x2="129.2" y2="486" stroke="#a8153f" stroke-width="1.1"/>
<line x1="124.8" y1="505" x2="129.2" y2="505" stroke="#a8153f" stroke-width="1.1"/>
<line x1="132.7" y1="497" x2="132.7" y2="514.2" stroke="#a8153f" stroke-width="1.1"/>
<line x1="130.5" y1="497" x2="134.9" y2="497" stroke="#a8153f" stroke-width="1.1"/>
<line x1="130.5" y1="514.2" x2="134.9" y2="514.2" stroke="#a8153f" stroke-width="1.1"/>
<line x1="140.8" y1="526" x2="140.8" y2="531.5" stroke="#a8153f" stroke-width="1.1"/>
<line x1="138.6" y1="526" x2="143" y2="526" stroke="#a8153f" stroke-width="1.1"/>
<line x1="138.6" y1="531.5" x2="143" y2="531.5" stroke="#a8153f" stroke-width="1.1"/>
<line x1="112.6" y1="413.8" x2="112.6" y2="437" stroke="#8fbf5a" stroke-width="1.1"/>
<line x1="110.4" y1="413.8" x2="114.8" y2="413.8" stroke="#8fbf5a" stroke-width="1.1"/>
<line x1="110.4" y1="437" x2="114.8" y2="437" stroke="#8fbf5a" stroke-width="1.1"/>
<line x1="121.2" y1="417.3" x2="121.2" y2="444" stroke="#8fbf5a" stroke-width="1.1"/>
<line x1="119" y1="417.3" x2="123.4" y2="417.3" stroke="#8fbf5a" stroke-width="1.1"/>
<line x1="119" y1="444" x2="123.4" y2="444" stroke="#8fbf5a" stroke-width="1.1"/>
<line x1="127.6" y1="425.4" x2="127.6" y2="450" stroke="#8fbf5a" stroke-width="1.1"/>
<line x1="125.4" y1="425.4" x2="129.8" y2="425.4" stroke="#8fbf5a" stroke-width="1.1"/>
<line x1="125.4" y1="450" x2="129.8" y2="450" stroke="#8fbf5a" stroke-width="1.1"/>
<line x1="132.7" y1="431.2" x2="132.7" y2="455" stroke="#8fbf5a" stroke-width="1.1"/>
<line x1="130.5" y1="431.2" x2="134.9" y2="431.2" stroke="#8fbf5a" stroke-width="1.1"/>
<line x1="130.5" y1="455" x2="134.9" y2="455" stroke="#8fbf5a" stroke-width="1.1"/>
<line x1="140.8" y1="453" x2="140.8" y2="470" stroke="#8fbf5a" stroke-width="1.1"/>
<line x1="138.6" y1="453" x2="143" y2="453" stroke="#8fbf5a" stroke-width="1.1"/>
<line x1="138.6" y1="470" x2="143" y2="470" stroke="#8fbf5a" stroke-width="1.1"/>
<line x1="147.2" y1="466" x2="147.2" y2="482" stroke="#8fbf5a" stroke-width="1.1"/>
<line x1="145" y1="466" x2="149.4" y2="466" stroke="#8fbf5a" stroke-width="1.1"/>
<line x1="145" y1="482" x2="149.4" y2="482" stroke="#8fbf5a" stroke-width="1.1"/>
<line x1="217" y1="500" x2="217" y2="505" stroke="#8fbf5a" stroke-width="1.1"/>
<line x1="214.8" y1="500" x2="219.2" y2="500" stroke="#8fbf5a" stroke-width="1.1"/>
<line x1="214.8" y1="505" x2="219.2" y2="505" stroke="#8fbf5a" stroke-width="1.1"/>
<line x1="232" y1="501.5" x2="232" y2="505" stroke="#8fbf5a" stroke-width="1.1"/>
<line x1="229.8" y1="501.5" x2="234.2" y2="501.5" stroke="#8fbf5a" stroke-width="1.1"/>
<line x1="229.8" y1="505" x2="234.2" y2="505" stroke="#8fbf5a" stroke-width="1.1"/>
<line x1="182" y1="501" x2="182" y2="505" stroke="#8fbf5a" stroke-width="1.1"/>
<line x1="179.8" y1="501" x2="184.2" y2="501" stroke="#8fbf5a" stroke-width="1.1"/>
<line x1="179.8" y1="505" x2="184.2" y2="505" stroke="#8fbf5a" stroke-width="1.1"/>
<line x1="197" y1="499.5" x2="197" y2="506" stroke="#8fbf5a" stroke-width="1.1"/>
<line x1="194.8" y1="499.5" x2="199.2" y2="499.5" stroke="#8fbf5a" stroke-width="1.1"/>
<line x1="194.8" y1="506" x2="199.2" y2="506" stroke="#8fbf5a" stroke-width="1.1"/>
<line x1="82.4" y1="414.5" x2="82.4" y2="417" stroke="#2a4a82" stroke-width="1.1"/>
<line x1="80.2" y1="414.5" x2="84.6" y2="414.5" stroke="#2a4a82" stroke-width="1.1"/>
<line x1="80.2" y1="417" x2="84.6" y2="417" stroke="#2a4a82" stroke-width="1.1"/>
<line x1="97.4" y1="414.3" x2="97.4" y2="430.5" stroke="#2a4a82" stroke-width="1.1"/>
<line x1="95.2" y1="414.3" x2="99.6" y2="414.3" stroke="#2a4a82" stroke-width="1.1"/>
<line x1="95.2" y1="430.5" x2="99.6" y2="430.5" stroke="#2a4a82" stroke-width="1.1"/>
<line x1="112.6" y1="423" x2="112.6" y2="436.5" stroke="#2a4a82" stroke-width="1.1"/>
<line x1="110.4" y1="423" x2="114.8" y2="423" stroke="#2a4a82" stroke-width="1.1"/>
<line x1="110.4" y1="436.5" x2="114.8" y2="436.5" stroke="#2a4a82" stroke-width="1.1"/>
<line x1="121.2" y1="425.4" x2="121.2" y2="444.3" stroke="#2a4a82" stroke-width="1.1"/>
<line x1="119" y1="425.4" x2="123.4" y2="425.4" stroke="#2a4a82" stroke-width="1.1"/>
<line x1="119" y1="444.3" x2="123.4" y2="444.3" stroke="#2a4a82" stroke-width="1.1"/>
<line x1="127.6" y1="437" x2="127.6" y2="450.3" stroke="#2a4a82" stroke-width="1.1"/>
<line x1="125.4" y1="437" x2="129.8" y2="437" stroke="#2a4a82" stroke-width="1.1"/>
<line x1="125.4" y1="450.3" x2="129.8" y2="450.3" stroke="#2a4a82" stroke-width="1.1"/>
<line x1="132.7" y1="439.2" x2="132.7" y2="455" stroke="#2a4a82" stroke-width="1.1"/>
<line x1="130.5" y1="439.2" x2="134.9" y2="439.2" stroke="#2a4a82" stroke-width="1.1"/>
<line x1="130.5" y1="455" x2="134.9" y2="455" stroke="#2a4a82" stroke-width="1.1"/>
<line x1="140.8" y1="461.8" x2="140.8" y2="474.3" stroke="#2a4a82" stroke-width="1.1"/>
<line x1="138.6" y1="461.8" x2="143" y2="461.8" stroke="#2a4a82" stroke-width="1.1"/>
<line x1="138.6" y1="474.3" x2="143" y2="474.3" stroke="#2a4a82" stroke-width="1.1"/>
<line x1="147" y1="478" x2="147" y2="485.4" stroke="#2a4a82" stroke-width="1.1"/>
<line x1="144.8" y1="478" x2="149.2" y2="478" stroke="#2a4a82" stroke-width="1.1"/>
<line x1="144.8" y1="485.4" x2="149.2" y2="485.4" stroke="#2a4a82" stroke-width="1.1"/>
<path d="M67 419.51L67.5 419.51L68 419.52L68.5 419.53L69 419.53L69.5 419.54L70 419.55L70.5 419.55L71 419.56L71.5 419.57L72 419.58L72.5 419.59L73 419.6L73.5 419.61L74 419.62L74.5 419.63L75 419.64L75.5 419.65L76 419.67L76.5 419.68L77 419.69L77.5 419.71L78 419.72L78.5 419.74L79 419.76L79.5 419.78L80 419.8L80.5 419.82L81 419.84L81.5 419.86L82 419.88L82.5 419.91L83 419.93L83.5 419.96L84 419.99L84.5 420.02L85 420.05L85.5 420.09L86 420.12L86.5 420.16L87 420.19L87.5 420.24L88 420.28L88.5 420.32L89 420.37L89.5 420.42L90 420.47L90.5 420.52L91 420.58L91.5 420.64L92 420.7L92.5 420.77L93 420.84L93.5 420.91L94 420.99L94.5 421.07L95 421.15L95.5 421.24L96 421.33L96.5 421.43L97 421.53L97.5 421.63L98 421.75L98.5 421.86L99 421.99L99.5 422.11L100 422.25L100.5 422.39L101 422.54L101.5 422.69L102 422.85L102.5 423.02L103 423.2L103.5 423.39L104 423.58L104.5 423.79L105 424L105.5 424.22L106 424.46L106.5 424.7L107 424.95L107.5 425.22L108 425.5L108.5 425.79L109 426.09L109.5 426.41L110 426.74L110.5 427.08L111 427.44L111.5 427.81L112 428.2L112.5 428.6L113 429.02L113.5 429.46L114 429.91L114.5 430.39L115 430.88L115.5 431.38L116 431.91L116.5 432.46L117 433.02L117.5 433.61L118 434.22L118.5 434.84L119 435.49L119.5 436.16L120 436.85L120.5 437.56L121 438.29L121.5 439.04L122 439.82L122.5 440.61L123 441.43L123.5 442.26L124 443.12L124.5 444L125 444.89L125.5 445.81L126 446.74L126.5 447.7L127 448.67L127.5 449.65L128 450.65L128.5 451.67L129 452.7L129.5 453.74L130 454.8L130.5 455.86L131 456.93L131.5 458.02L132 459.1L132.5 460.2L133 461.3L133.5 462.4L134 463.5L134.5 464.6L135 465.7L135.5 466.8L136 467.9L136.5 468.98L137 470.07L137.5 471.14L138 472.2L138.5 473.26L139 474.3L139.5 475.33L140 476.35L140.5 477.35L141 478.33L141.5 479.3L142 480.26L142.5 481.19L143 482.11L143.5 483L144 483.88L144.5 484.74L145 485.57L145.5 486.39L146 487.18L146.5 487.96L147 488.71L147.5 489.44L148 490.15L148.5 490.84L149 491.51L149.5 492.16L150 492.78L150.5 493.39L151 493.98L151.5 494.54L152 495.09L152.5 495.62L153 496.12L153.5 496.61L154 497.09L154.5 497.54L155 497.98L155.5 498.4L156 498.8L156.5 499.19L157 499.56L157.5 499.92L158 500.26L158.5 500.59L159 500.91L159.5 501.21L160 501.5L160.5 501.78L161 502.05L161.5 502.3L162 502.54L162.5 502.78L163 503L163.5 503.21L164 503.42L164.5 503.61L165 503.8L165.5 503.98L166 504.15L166.5 504.31L167 504.46L167.5 504.61L168 504.75L168.5 504.89L169 505.01L169.5 505.14L170 505.25L170.5 505.37L171 505.47L171.5 505.57L172 505.67L172.5 505.76L173 505.85L173.5 505.93L174 506.01L174.5 506.09L175 506.16L175.5 506.23L176 506.3L176.5 506.36L177 506.42L177.5 506.48L178 506.53L178.5 506.58L179 506.63L179.5 506.68L180 506.72L180.5 506.76L181 506.81L181.5 506.84L182 506.88L182.5 506.91L183 506.95L183.5 506.98L184 507.01L184.5 507.04L185 507.07L185.5 507.09L186 507.12L186.5 507.14L187 507.16L187.5 507.18L188 507.2L188.5 507.22L189 507.24L189.5 507.26L190 507.28L190.5 507.29L191 507.31L191.5 507.32L192 507.33L192.5 507.35L193 507.36L193.5 507.37L194 507.38L194.5 507.39L195 507.4L195.5 507.41L196 507.42L196.5 507.43L197 507.44L197.5 507.45L198 507.45L198.5 507.46L199 507.47L199.5 507.47L200 507.48L200.5 507.49L201 507.49L201.5 507.5L202 507.5L202.5 507.51L203 507.51L203.5 507.52L204 507.52L204.5 507.52L205 507.53L205.5 507.53L206 507.53L206.5 507.54L207 507.54L207.5 507.54L208 507.55L208.5 507.55L209 507.55L209.5 507.55L210 507.56L210.5 507.56L211 507.56L211.5 507.56L212 507.56L212.5 507.57L213 507.57L213.5 507.57L214 507.57L214.5 507.57L215 507.57L215.5 507.57L216 507.58L216.5 507.58L217 507.58L217.5 507.58L218 507.58L218.5 507.58L219 507.58L219.5 507.58L220 507.58L220.5 507.58L221 507.59L221.5 507.59L222 507.59L222.5 507.59L223 507.59L223.5 507.59L224 507.59L224.5 507.59L225 507.59L225.5 507.59L226 507.59L226.5 507.59L227 507.59L227.5 507.59L228 507.59L228.5 507.59L229 507.59L229.5 507.59L230 507.59L230.5 507.59L231 507.59L231.5 507.59L232 507.6" stroke="#6db33f" stroke-width="1.9" fill="none" stroke-linejoin="round"/>
<path d="M67 422.89L67.5 422.89L68 422.9L68.5 422.9L69 422.91L69.5 422.92L70 422.92L70.5 422.93L71 422.93L71.5 422.94L72 422.95L72.5 422.96L73 422.96L73.5 422.97L74 422.98L74.5 422.99L75 423L75.5 423.01L76 423.02L76.5 423.03L77 423.04L77.5 423.06L78 423.07L78.5 423.08L79 423.1L79.5 423.11L80 423.13L80.5 423.15L81 423.16L81.5 423.18L82 423.2L82.5 423.22L83 423.24L83.5 423.27L84 423.29L84.5 423.31L85 423.34L85.5 423.37L86 423.4L86.5 423.43L87 423.46L87.5 423.49L88 423.53L88.5 423.56L89 423.6L89.5 423.64L90 423.69L90.5 423.73L91 423.78L91.5 423.83L92 423.88L92.5 423.94L93 423.99L93.5 424.05L94 424.12L94.5 424.18L95 424.25L95.5 424.33L96 424.4L96.5 424.48L97 424.57L97.5 424.66L98 424.75L98.5 424.85L99 424.95L99.5 425.06L100 425.17L100.5 425.29L101 425.41L101.5 425.54L102 425.68L102.5 425.82L103 425.97L103.5 426.13L104 426.29L104.5 426.46L105 426.64L105.5 426.83L106 427.03L106.5 427.23L107 427.45L107.5 427.67L108 427.91L108.5 428.15L109 428.41L109.5 428.68L110 428.96L110.5 429.25L111 429.56L111.5 429.88L112 430.21L112.5 430.56L113 430.92L113.5 431.3L114 431.69L114.5 432.1L115 432.52L115.5 432.96L116 433.42L116.5 433.9L117 434.39L117.5 434.91L118 435.44L118.5 435.99L119 436.56L119.5 437.15L120 437.77L120.5 438.4L121 439.05L121.5 439.73L122 440.43L122.5 441.14L123 441.88L123.5 442.64L124 443.42L124.5 444.23L125 445.05L125.5 445.9L126 446.76L126.5 447.65L127 448.55L127.5 449.48L128 450.42L128.5 451.39L129 452.36L129.5 453.36L130 454.37L130.5 455.4L131 456.44L131.5 457.49L132 458.56L132.5 459.63L133 460.72L133.5 461.81L134 462.91L134.5 464.02L135 465.12L135.5 466.24L136 467.35L136.5 468.46L137 469.58L137.5 470.68L138 471.79L138.5 472.89L139 473.98L139.5 475.07L140 476.14L140.5 477.21L141 478.26L141.5 479.3L142 480.33L142.5 481.34L143 482.34L143.5 483.31L144 484.28L144.5 485.22L145 486.15L145.5 487.05L146 487.94L146.5 488.8L147 489.65L147.5 490.47L148 491.28L148.5 492.06L149 492.82L149.5 493.56L150 494.27L150.5 494.97L151 495.65L151.5 496.3L152 496.93L152.5 497.55L153 498.14L153.5 498.71L154 499.26L154.5 499.79L155 500.31L155.5 500.8L156 501.28L156.5 501.74L157 502.18L157.5 502.6L158 503.01L158.5 503.4L159 503.78L159.5 504.14L160 504.49L160.5 504.82L161 505.14L161.5 505.45L162 505.74L162.5 506.02L163 506.29L163.5 506.55L164 506.79L164.5 507.03L165 507.25L165.5 507.47L166 507.67L166.5 507.87L167 508.06L167.5 508.24L168 508.41L168.5 508.57L169 508.73L169.5 508.88L170 509.02L170.5 509.16L171 509.29L171.5 509.41L172 509.53L172.5 509.64L173 509.75L173.5 509.85L174 509.95L174.5 510.04L175 510.13L175.5 510.22L176 510.3L176.5 510.37L177 510.45L177.5 510.52L178 510.58L178.5 510.65L179 510.71L179.5 510.76L180 510.82L180.5 510.87L181 510.92L181.5 510.97L182 511.01L182.5 511.06L183 511.1L183.5 511.14L184 511.17L184.5 511.21L185 511.24L185.5 511.27L186 511.3L186.5 511.33L187 511.36L187.5 511.39L188 511.41L188.5 511.43L189 511.46L189.5 511.48L190 511.5L190.5 511.52L191 511.54L191.5 511.55L192 511.57L192.5 511.59L193 511.6L193.5 511.62L194 511.63L194.5 511.64L195 511.66L195.5 511.67L196 511.68L196.5 511.69L197 511.7L197.5 511.71L198 511.72L198.5 511.73L199 511.74L199.5 511.74L200 511.75L200.5 511.76L201 511.77L201.5 511.77L202 511.78L202.5 511.78L203 511.79L203.5 511.8L204 511.8L204.5 511.81L205 511.81L205.5 511.81L206 511.82L206.5 511.82L207 511.83L207.5 511.83L208 511.83L208.5 511.84L209 511.84L209.5 511.84L210 511.85L210.5 511.85L211 511.85L211.5 511.85L212 511.86L212.5 511.86L213 511.86L213.5 511.86L214 511.86L214.5 511.87L215 511.87L215.5 511.87L216 511.87L216.5 511.87L217 511.87L217.5 511.87L218 511.88L218.5 511.88L219 511.88L219.5 511.88L220 511.88L220.5 511.88L221 511.88L221.5 511.88L222 511.88L222.5 511.88L223 511.89L223.5 511.89L224 511.89L224.5 511.89L225 511.89L225.5 511.89L226 511.89L226.5 511.89L227 511.89L227.5 511.89L228 511.89L228.5 511.89L229 511.89L229.5 511.89L230 511.89L230.5 511.89L231 511.89L231.5 511.89L232 511.89" stroke="#2a4a82" stroke-width="1.9" fill="none" stroke-linejoin="round"/>
<path d="M67 430.17L67.5 430.18L68 430.19L68.5 430.2L69 430.21L69.5 430.22L70 430.23L70.5 430.25L71 430.26L71.5 430.27L72 430.29L72.5 430.31L73 430.32L73.5 430.34L74 430.36L74.5 430.38L75 430.4L75.5 430.42L76 430.45L76.5 430.47L77 430.5L77.5 430.52L78 430.55L78.5 430.58L79 430.62L79.5 430.65L80 430.69L80.5 430.72L81 430.76L81.5 430.81L82 430.85L82.5 430.9L83 430.95L83.5 431L84 431.05L84.5 431.11L85 431.17L85.5 431.24L86 431.3L86.5 431.38L87 431.45L87.5 431.53L88 431.61L88.5 431.7L89 431.79L89.5 431.89L90 432L90.5 432.1L91 432.22L91.5 432.34L92 432.47L92.5 432.6L93 432.74L93.5 432.89L94 433.04L94.5 433.21L95 433.38L95.5 433.56L96 433.75L96.5 433.95L97 434.16L97.5 434.39L98 434.62L98.5 434.86L99 435.12L99.5 435.39L100 435.68L100.5 435.97L101 436.29L101.5 436.61L102 436.96L102.5 437.32L103 437.7L103.5 438.09L104 438.51L104.5 438.94L105 439.39L105.5 439.87L106 440.37L106.5 440.88L107 441.43L107.5 441.99L108 442.58L108.5 443.2L109 443.84L109.5 444.5L110 445.2L110.5 445.92L111 446.67L111.5 447.45L112 448.26L112.5 449.09L113 449.96L113.5 450.86L114 451.79L114.5 452.75L115 453.74L115.5 454.76L116 455.81L116.5 456.9L117 458.01L117.5 459.16L118 460.33L118.5 461.53L119 462.76L119.5 464.02L120 465.31L120.5 466.62L121 467.95L121.5 469.31L122 470.68L122.5 472.08L123 473.5L123.5 474.93L124 476.38L124.5 477.84L125 479.31L125.5 480.78L126 482.27L126.5 483.76L127 485.25L127.5 486.74L128 488.23L128.5 489.72L129 491.19L129.5 492.66L130 494.12L130.5 495.57L131 497L131.5 498.42L132 499.82L132.5 501.19L133 502.55L133.5 503.88L134 505.19L134.5 506.48L135 507.74L135.5 508.97L136 510.17L136.5 511.34L137 512.49L137.5 513.6L138 514.69L138.5 515.74L139 516.76L139.5 517.75L140 518.71L140.5 519.64L141 520.54L141.5 521.41L142 522.24L142.5 523.05L143 523.83L143.5 524.58L144 525.3L144.5 526L145 526.66L145.5 527.3L146 527.92L146.5 528.51L147 529.07L147.5 529.62L148 530.13L148.5 530.63L149 531.11L149.5 531.56L150 531.99L150.5 532.41L151 532.8L151.5 533.18L152 533.54L152.5 533.89L153 534.21L153.5 534.53L154 534.82L154.5 535.11L155 535.38L155.5 535.64L156 535.88L156.5 536.11L157 536.34L157.5 536.55L158 536.75L158.5 536.94L159 537.12L159.5 537.29L160 537.46L160.5 537.61L161 537.76L161.5 537.9L162 538.03L162.5 538.16L163 538.28L163.5 538.4L164 538.5L164.5 538.61L165 538.71L165.5 538.8L166 538.89L166.5 538.97L167 539.05L167.5 539.12L168 539.2L168.5 539.26L169 539.33L169.5 539.39L170 539.45L170.5 539.5L171 539.55L171.5 539.6L172 539.65L172.5 539.69L173 539.74L173.5 539.78L174 539.81L174.5 539.85L175 539.88L175.5 539.92L176 539.95L176.5 539.98L177 540L177.5 540.03L178 540.05L178.5 540.08L179 540.1L179.5 540.12L180 540.14L180.5 540.16L181 540.18L181.5 540.19L182 540.21L182.5 540.23L183 540.24L183.5 540.25L184 540.27L184.5 540.28L185 540.29L185.5 540.3L186 540.31L186.5 540.32L187 540.33L187.5 540.34L188 540.35L188.5 540.36L189 540.36L189.5 540.37L190 540.38L190.5 540.38L191 540.39L191.5 540.4L192 540.4L192.5 540.41L193 540.41L193.5 540.42L194 540.42L194.5 540.42L195 540.43L195.5 540.43L196 540.44L196.5 540.44L197 540.44L197.5 540.45L198 540.45L198.5 540.45L199 540.45L199.5 540.46L200 540.46L200.5 540.46L201 540.46L201.5 540.46L202 540.47L202.5 540.47L203 540.47L203.5 540.47L204 540.47L204.5 540.47L205 540.48L205.5 540.48L206 540.48L206.5 540.48L207 540.48L207.5 540.48L208 540.48L208.5 540.48L209 540.48L209.5 540.49L210 540.49L210.5 540.49L211 540.49L211.5 540.49L212 540.49L212.5 540.49L213 540.49L213.5 540.49L214 540.49L214.5 540.49L215 540.49L215.5 540.49L216 540.49L216.5 540.49L217 540.49L217.5 540.49L218 540.49L218.5 540.49L219 540.49L219.5 540.49L220 540.5L220.5 540.5L221 540.5L221.5 540.5L222 540.5L222.5 540.5L223 540.5L223.5 540.5L224 540.5L224.5 540.5L225 540.5L225.5 540.5L226 540.5L226.5 540.5L227 540.5L227.5 540.5L228 540.5L228.5 540.5L229 540.5L229.5 540.5L230 540.5L230.5 540.5L231 540.5L231.5 540.5L232 540.5" stroke="#a8153f" stroke-width="1.9" fill="none" stroke-linejoin="round"/>
<path d="M67.6 421.68L70.4 426.72L64.8 426.72Z" fill="#a8153f"/>
<path d="M82.4 421.18L85.2 426.22L79.6 426.22Z" fill="#a8153f"/>
<path d="M97.4 439.68L100.2 444.72L94.6 444.72Z" fill="#a8153f"/>
<path d="M113 451.98L115.8 457.02L110.2 457.02Z" fill="#a8153f"/>
<path d="M121.2 467.38L124 472.42L118.4 472.42Z" fill="#a8153f"/>
<path d="M127 483.48L129.8 488.52L124.2 488.52Z" fill="#a8153f"/>
<path d="M132.7 494.98L135.5 500.02L129.9 500.02Z" fill="#a8153f"/>
<path d="M140.8 523.98L143.6 529.02L138 529.02Z" fill="#a8153f"/>
<path d="M147.7 530.38L150.5 535.42L144.9 535.42Z" fill="#a8153f"/>
<path d="M152.3 533.98L155.1 539.02L149.5 539.02Z" fill="#a8153f"/>
<path d="M155.6 535.48L158.4 540.52L152.8 540.52Z" fill="#a8153f"/>
<path d="M161.8 536.98L164.6 542.02L159 542.02Z" fill="#a8153f"/>
<path d="M182 535.98L184.8 541.02L179.2 541.02Z" fill="#a8153f"/>
<path d="M197 535.98L199.8 541.02L194.2 541.02Z" fill="#a8153f"/>
<path d="M217 535.78L219.8 540.82L214.2 540.82Z" fill="#a8153f"/>
<path d="M232 535.78L234.8 540.82L229.2 540.82Z" fill="#a8153f"/>
<rect x="137.8" y="466.7" width="5" height="5" fill="#6db33f"/>
<rect x="144.7" y="478.3" width="5" height="5" fill="#6db33f"/>
<rect x="149.8" y="488" width="5" height="5" fill="#6db33f"/>
<rect x="150.8" y="488.8" width="5" height="5" fill="#6db33f"/>
<rect x="159.7" y="503.3" width="5" height="5" fill="#6db33f"/>
<rect x="179.5" y="501.8" width="5" height="5" fill="#6db33f"/>
<rect x="194.5" y="503.7" width="5" height="5" fill="#6db33f"/>
<rect x="214.5" y="501.6" width="5" height="5" fill="#6db33f"/>
<rect x="229.5" y="501.6" width="5" height="5" fill="#6db33f"/>
<circle cx="82.4" cy="416.6" r="2.9" fill="#2a4a82"/>
<circle cx="97.4" cy="430.5" r="2.9" fill="#2a4a82"/>
<circle cx="112.6" cy="436.5" r="2.9" fill="#2a4a82"/>
<circle cx="121.2" cy="444.3" r="2.9" fill="#2a4a82"/>
<circle cx="127.6" cy="450.3" r="2.9" fill="#2a4a82"/>
<circle cx="132.7" cy="455" r="2.9" fill="#2a4a82"/>
<circle cx="140.8" cy="474.3" r="2.9" fill="#2a4a82"/>
<circle cx="147" cy="485.4" r="2.9" fill="#2a4a82"/>
<circle cx="152.3" cy="500.4" r="2.9" fill="#2a4a82"/>
<circle cx="156.5" cy="509.2" r="2.9" fill="#2a4a82"/>
<circle cx="162.2" cy="513.5" r="2.9" fill="#2a4a82"/>
<circle cx="182" cy="511.8" r="2.9" fill="#2a4a82"/>
<circle cx="197" cy="509.3" r="2.9" fill="#2a4a82"/>
<circle cx="217" cy="508.8" r="2.9" fill="#2a4a82"/>
<circle cx="232" cy="508.3" r="2.9" fill="#2a4a82"/>
<line x1="124.8" y1="480.2" x2="140.6" y2="480.2" stroke="#000" stroke-width="1.6"/>
<circle cx="125.2" cy="480.2" r="1.6" fill="#000"/>
<text x="64.8" y="484.3" font-size="7.95"><tspan font-style="italic">p</tspan>&lt;0.005</text>
<text x="273.6" y="402.2" font-size="12.6" font-weight="bold" fill="#000" style="stroke:#000;stroke-width:0.35px">F</text>
<text x="396.2" y="401.9" font-size="9.8" text-anchor="middle" textLength="24.2" lengthAdjust="spacingAndGlyphs">H929</text>
<line x1="307.5" y1="409.2" x2="307.5" y2="545.2" stroke="#111" stroke-width="1.6"/>
<line x1="306.7" y1="544.5" x2="509.5" y2="544.5" stroke="#111" stroke-width="1.6"/>
<line x1="303.9" y1="411.8" x2="307.5" y2="411.8" stroke="#111" stroke-width="1.4"/>
<text x="300.8" y="414.8" font-size="8.3" text-anchor="end">100</text>
<line x1="303.9" y1="438.34" x2="307.5" y2="438.34" stroke="#111" stroke-width="1.4"/>
<text x="300.8" y="441.34" font-size="8.3" text-anchor="end">80</text>
<line x1="303.9" y1="464.88" x2="307.5" y2="464.88" stroke="#111" stroke-width="1.4"/>
<text x="300.8" y="467.88" font-size="8.3" text-anchor="end">60</text>
<line x1="303.9" y1="491.42" x2="307.5" y2="491.42" stroke="#111" stroke-width="1.4"/>
<text x="300.8" y="494.42" font-size="8.3" text-anchor="end">40</text>
<line x1="303.9" y1="517.96" x2="307.5" y2="517.96" stroke="#111" stroke-width="1.4"/>
<text x="300.8" y="520.96" font-size="8.3" text-anchor="end">20</text>
<line x1="303.9" y1="544.5" x2="307.5" y2="544.5" stroke="#111" stroke-width="1.4"/>
<text x="300.8" y="547.5" font-size="8.3" text-anchor="end">0</text>
<line x1="307.5" y1="544.5" x2="307.5" y2="547.9" stroke="#111" stroke-width="1.4"/>
<text x="307.9" y="557.9" font-size="8.3" text-anchor="middle">-10</text>
<line x1="357.5" y1="544.5" x2="357.5" y2="547.9" stroke="#111" stroke-width="1.4"/>
<text x="357.9" y="557.9" font-size="8.3" text-anchor="middle">-9</text>
<line x1="407.5" y1="544.5" x2="407.5" y2="547.9" stroke="#111" stroke-width="1.4"/>
<text x="407.9" y="557.9" font-size="8.3" text-anchor="middle">-8</text>
<line x1="457.5" y1="544.5" x2="457.5" y2="547.9" stroke="#111" stroke-width="1.4"/>
<text x="457.9" y="557.9" font-size="8.3" text-anchor="middle">-7</text>
<line x1="507.5" y1="544.5" x2="507.5" y2="547.9" stroke="#111" stroke-width="1.4"/>
<text x="507.9" y="557.9" font-size="8.3" text-anchor="middle">-6</text>
<text x="409" y="569.4" font-size="9.2" text-anchor="middle" textLength="68.6" lengthAdjust="spacingAndGlyphs" style="stroke:#1c1c1c;stroke-width:0.45px">Panobinostat, log [M]</text>
<line x1="312.5" y1="417.22" x2="312.5" y2="423.72" stroke="#a8153f" stroke-width="1.1"/>
<line x1="310.1" y1="417.22" x2="314.9" y2="417.22" stroke="#a8153f" stroke-width="1.1"/>
<line x1="310.1" y1="423.72" x2="314.9" y2="423.72" stroke="#a8153f" stroke-width="1.1"/>
<line x1="327.5" y1="419.58" x2="327.5" y2="426.08" stroke="#a8153f" stroke-width="1.1"/>
<line x1="325.1" y1="419.58" x2="329.9" y2="419.58" stroke="#a8153f" stroke-width="1.1"/>
<line x1="325.1" y1="426.08" x2="329.9" y2="426.08" stroke="#a8153f" stroke-width="1.1"/>
<line x1="342.5" y1="423.83" x2="342.5" y2="430.33" stroke="#a8153f" stroke-width="1.1"/>
<line x1="340.1" y1="423.83" x2="344.9" y2="423.83" stroke="#a8153f" stroke-width="1.1"/>
<line x1="340.1" y1="430.33" x2="344.9" y2="430.33" stroke="#a8153f" stroke-width="1.1"/>
<line x1="357.5" y1="431.08" x2="357.5" y2="437.58" stroke="#a8153f" stroke-width="1.1"/>
<line x1="355.1" y1="431.08" x2="359.9" y2="431.08" stroke="#a8153f" stroke-width="1.1"/>
<line x1="355.1" y1="437.58" x2="359.9" y2="437.58" stroke="#a8153f" stroke-width="1.1"/>
<line x1="372.7" y1="442.71" x2="372.7" y2="449.21" stroke="#a8153f" stroke-width="1.1"/>
<line x1="370.3" y1="442.71" x2="375.1" y2="442.71" stroke="#a8153f" stroke-width="1.1"/>
<line x1="370.3" y1="449.21" x2="375.1" y2="449.21" stroke="#a8153f" stroke-width="1.1"/>
<line x1="380.8" y1="450.83" x2="380.8" y2="457.33" stroke="#a8153f" stroke-width="1.1"/>
<line x1="378.4" y1="450.83" x2="383.2" y2="450.83" stroke="#a8153f" stroke-width="1.1"/>
<line x1="378.4" y1="457.33" x2="383.2" y2="457.33" stroke="#a8153f" stroke-width="1.1"/>
<line x1="387.2" y1="458.07" x2="387.2" y2="464.57" stroke="#a8153f" stroke-width="1.1"/>
<line x1="384.8" y1="458.07" x2="389.6" y2="458.07" stroke="#a8153f" stroke-width="1.1"/>
<line x1="384.8" y1="464.57" x2="389.6" y2="464.57" stroke="#a8153f" stroke-width="1.1"/>
<line x1="392.3" y1="464.23" x2="392.3" y2="470.73" stroke="#a8153f" stroke-width="1.1"/>
<line x1="389.9" y1="464.23" x2="394.7" y2="464.23" stroke="#a8153f" stroke-width="1.1"/>
<line x1="389.9" y1="470.73" x2="394.7" y2="470.73" stroke="#a8153f" stroke-width="1.1"/>
<line x1="401" y1="475.14" x2="401" y2="481.64" stroke="#a8153f" stroke-width="1.1"/>
<line x1="398.6" y1="475.14" x2="403.4" y2="475.14" stroke="#a8153f" stroke-width="1.1"/>
<line x1="398.6" y1="481.64" x2="403.4" y2="481.64" stroke="#a8153f" stroke-width="1.1"/>
<line x1="407.3" y1="483.01" x2="407.3" y2="489.51" stroke="#a8153f" stroke-width="1.1"/>
<line x1="404.9" y1="483.01" x2="409.7" y2="483.01" stroke="#a8153f" stroke-width="1.1"/>
<line x1="404.9" y1="489.51" x2="409.7" y2="489.51" stroke="#a8153f" stroke-width="1.1"/>
<line x1="412.6" y1="489.37" x2="412.6" y2="495.87" stroke="#a8153f" stroke-width="1.1"/>
<line x1="410.2" y1="489.37" x2="415" y2="489.37" stroke="#a8153f" stroke-width="1.1"/>
<line x1="410.2" y1="495.87" x2="415" y2="495.87" stroke="#a8153f" stroke-width="1.1"/>
<line x1="415.8" y1="493.04" x2="415.8" y2="499.54" stroke="#a8153f" stroke-width="1.1"/>
<line x1="413.4" y1="493.04" x2="418.2" y2="493.04" stroke="#a8153f" stroke-width="1.1"/>
<line x1="413.4" y1="499.54" x2="418.2" y2="499.54" stroke="#a8153f" stroke-width="1.1"/>
<line x1="421.8" y1="499.44" x2="421.8" y2="505.94" stroke="#a8153f" stroke-width="1.1"/>
<line x1="419.4" y1="499.44" x2="424.2" y2="499.44" stroke="#a8153f" stroke-width="1.1"/>
<line x1="419.4" y1="505.94" x2="424.2" y2="505.94" stroke="#a8153f" stroke-width="1.1"/>
<line x1="442" y1="515.72" x2="442" y2="522.22" stroke="#a8153f" stroke-width="1.1"/>
<line x1="439.6" y1="515.72" x2="444.4" y2="515.72" stroke="#a8153f" stroke-width="1.1"/>
<line x1="439.6" y1="522.22" x2="444.4" y2="522.22" stroke="#a8153f" stroke-width="1.1"/>
<line x1="456.3" y1="522.6" x2="456.3" y2="529.1" stroke="#a8153f" stroke-width="1.1"/>
<line x1="453.9" y1="522.6" x2="458.7" y2="522.6" stroke="#a8153f" stroke-width="1.1"/>
<line x1="453.9" y1="529.1" x2="458.7" y2="529.1" stroke="#a8153f" stroke-width="1.1"/>
<line x1="476.8" y1="527.92" x2="476.8" y2="534.42" stroke="#a8153f" stroke-width="1.1"/>
<line x1="474.4" y1="527.92" x2="479.2" y2="527.92" stroke="#a8153f" stroke-width="1.1"/>
<line x1="474.4" y1="534.42" x2="479.2" y2="534.42" stroke="#a8153f" stroke-width="1.1"/>
<line x1="312.5" y1="413.29" x2="312.5" y2="419.29" stroke="#79b04a" stroke-width="1.1"/>
<line x1="310.1" y1="413.29" x2="314.9" y2="413.29" stroke="#79b04a" stroke-width="1.1"/>
<line x1="310.1" y1="419.29" x2="314.9" y2="419.29" stroke="#79b04a" stroke-width="1.1"/>
<line x1="327.5" y1="415.26" x2="327.5" y2="421.26" stroke="#79b04a" stroke-width="1.1"/>
<line x1="325.1" y1="415.26" x2="329.9" y2="415.26" stroke="#79b04a" stroke-width="1.1"/>
<line x1="325.1" y1="421.26" x2="329.9" y2="421.26" stroke="#79b04a" stroke-width="1.1"/>
<line x1="342.5" y1="418.52" x2="342.5" y2="424.52" stroke="#79b04a" stroke-width="1.1"/>
<line x1="340.1" y1="418.52" x2="344.9" y2="418.52" stroke="#79b04a" stroke-width="1.1"/>
<line x1="340.1" y1="424.52" x2="344.9" y2="424.52" stroke="#79b04a" stroke-width="1.1"/>
<line x1="357.5" y1="423.73" x2="357.5" y2="429.73" stroke="#79b04a" stroke-width="1.1"/>
<line x1="355.1" y1="423.73" x2="359.9" y2="423.73" stroke="#79b04a" stroke-width="1.1"/>
<line x1="355.1" y1="429.73" x2="359.9" y2="429.73" stroke="#79b04a" stroke-width="1.1"/>
<line x1="372.7" y1="431.7" x2="372.7" y2="437.7" stroke="#79b04a" stroke-width="1.1"/>
<line x1="370.3" y1="431.7" x2="375.1" y2="431.7" stroke="#79b04a" stroke-width="1.1"/>
<line x1="370.3" y1="437.7" x2="375.1" y2="437.7" stroke="#79b04a" stroke-width="1.1"/>
<line x1="380.8" y1="437.24" x2="380.8" y2="443.24" stroke="#79b04a" stroke-width="1.1"/>
<line x1="378.4" y1="437.24" x2="383.2" y2="437.24" stroke="#79b04a" stroke-width="1.1"/>
<line x1="378.4" y1="443.24" x2="383.2" y2="443.24" stroke="#79b04a" stroke-width="1.1"/>
<line x1="387.2" y1="442.23" x2="387.2" y2="448.23" stroke="#79b04a" stroke-width="1.1"/>
<line x1="384.8" y1="442.23" x2="389.6" y2="442.23" stroke="#79b04a" stroke-width="1.1"/>
<line x1="384.8" y1="448.23" x2="389.6" y2="448.23" stroke="#79b04a" stroke-width="1.1"/>
<line x1="392.3" y1="446.57" x2="392.3" y2="452.57" stroke="#79b04a" stroke-width="1.1"/>
<line x1="389.9" y1="446.57" x2="394.7" y2="446.57" stroke="#79b04a" stroke-width="1.1"/>
<line x1="389.9" y1="452.57" x2="394.7" y2="452.57" stroke="#79b04a" stroke-width="1.1"/>
<line x1="401" y1="454.55" x2="401" y2="460.55" stroke="#79b04a" stroke-width="1.1"/>
<line x1="398.6" y1="454.55" x2="403.4" y2="454.55" stroke="#79b04a" stroke-width="1.1"/>
<line x1="398.6" y1="460.55" x2="403.4" y2="460.55" stroke="#79b04a" stroke-width="1.1"/>
<line x1="407.3" y1="460.62" x2="407.3" y2="466.62" stroke="#79b04a" stroke-width="1.1"/>
<line x1="404.9" y1="460.62" x2="409.7" y2="460.62" stroke="#79b04a" stroke-width="1.1"/>
<line x1="404.9" y1="466.62" x2="409.7" y2="466.62" stroke="#79b04a" stroke-width="1.1"/>
<line x1="412.6" y1="465.79" x2="412.6" y2="471.79" stroke="#79b04a" stroke-width="1.1"/>
<line x1="410.2" y1="465.79" x2="415" y2="465.79" stroke="#79b04a" stroke-width="1.1"/>
<line x1="410.2" y1="471.79" x2="415" y2="471.79" stroke="#79b04a" stroke-width="1.1"/>
<line x1="415.8" y1="468.89" x2="415.8" y2="474.89" stroke="#79b04a" stroke-width="1.1"/>
<line x1="413.4" y1="468.89" x2="418.2" y2="468.89" stroke="#79b04a" stroke-width="1.1"/>
<line x1="413.4" y1="474.89" x2="418.2" y2="474.89" stroke="#79b04a" stroke-width="1.1"/>
<line x1="421.8" y1="474.59" x2="421.8" y2="480.59" stroke="#79b04a" stroke-width="1.1"/>
<line x1="419.4" y1="474.59" x2="424.2" y2="474.59" stroke="#79b04a" stroke-width="1.1"/>
<line x1="419.4" y1="480.59" x2="424.2" y2="480.59" stroke="#79b04a" stroke-width="1.1"/>
<line x1="442" y1="491.28" x2="442" y2="497.28" stroke="#79b04a" stroke-width="1.1"/>
<line x1="439.6" y1="491.28" x2="444.4" y2="491.28" stroke="#79b04a" stroke-width="1.1"/>
<line x1="439.6" y1="497.28" x2="444.4" y2="497.28" stroke="#79b04a" stroke-width="1.1"/>
<line x1="456.3" y1="499.88" x2="456.3" y2="505.88" stroke="#79b04a" stroke-width="1.1"/>
<line x1="453.9" y1="499.88" x2="458.7" y2="499.88" stroke="#79b04a" stroke-width="1.1"/>
<line x1="453.9" y1="505.88" x2="458.7" y2="505.88" stroke="#79b04a" stroke-width="1.1"/>
<line x1="476.8" y1="507.78" x2="476.8" y2="513.78" stroke="#79b04a" stroke-width="1.1"/>
<line x1="474.4" y1="507.78" x2="479.2" y2="507.78" stroke="#79b04a" stroke-width="1.1"/>
<line x1="474.4" y1="513.78" x2="479.2" y2="513.78" stroke="#79b04a" stroke-width="1.1"/>
<line x1="312.5" y1="413.57" x2="312.5" y2="419.17" stroke="#2a4a82" stroke-width="1.1"/>
<line x1="310.1" y1="413.57" x2="314.9" y2="413.57" stroke="#2a4a82" stroke-width="1.1"/>
<line x1="310.1" y1="419.17" x2="314.9" y2="419.17" stroke="#2a4a82" stroke-width="1.1"/>
<line x1="327.5" y1="415.42" x2="327.5" y2="421.02" stroke="#2a4a82" stroke-width="1.1"/>
<line x1="325.1" y1="415.42" x2="329.9" y2="415.42" stroke="#2a4a82" stroke-width="1.1"/>
<line x1="325.1" y1="421.02" x2="329.9" y2="421.02" stroke="#2a4a82" stroke-width="1.1"/>
<line x1="342.5" y1="418.46" x2="342.5" y2="424.06" stroke="#2a4a82" stroke-width="1.1"/>
<line x1="340.1" y1="418.46" x2="344.9" y2="418.46" stroke="#2a4a82" stroke-width="1.1"/>
<line x1="340.1" y1="424.06" x2="344.9" y2="424.06" stroke="#2a4a82" stroke-width="1.1"/>
<line x1="357.5" y1="423.29" x2="357.5" y2="428.89" stroke="#2a4a82" stroke-width="1.1"/>
<line x1="355.1" y1="423.29" x2="359.9" y2="423.29" stroke="#2a4a82" stroke-width="1.1"/>
<line x1="355.1" y1="428.89" x2="359.9" y2="428.89" stroke="#2a4a82" stroke-width="1.1"/>
<line x1="372.7" y1="430.68" x2="372.7" y2="436.28" stroke="#2a4a82" stroke-width="1.1"/>
<line x1="370.3" y1="430.68" x2="375.1" y2="430.68" stroke="#2a4a82" stroke-width="1.1"/>
<line x1="370.3" y1="436.28" x2="375.1" y2="436.28" stroke="#2a4a82" stroke-width="1.1"/>
<line x1="380.8" y1="435.82" x2="380.8" y2="441.42" stroke="#2a4a82" stroke-width="1.1"/>
<line x1="378.4" y1="435.82" x2="383.2" y2="435.82" stroke="#2a4a82" stroke-width="1.1"/>
<line x1="378.4" y1="441.42" x2="383.2" y2="441.42" stroke="#2a4a82" stroke-width="1.1"/>
<line x1="387.2" y1="440.47" x2="387.2" y2="446.07" stroke="#2a4a82" stroke-width="1.1"/>
<line x1="384.8" y1="440.47" x2="389.6" y2="440.47" stroke="#2a4a82" stroke-width="1.1"/>
<line x1="384.8" y1="446.07" x2="389.6" y2="446.07" stroke="#2a4a82" stroke-width="1.1"/>
<line x1="392.3" y1="444.52" x2="392.3" y2="450.12" stroke="#2a4a82" stroke-width="1.1"/>
<line x1="389.9" y1="444.52" x2="394.7" y2="444.52" stroke="#2a4a82" stroke-width="1.1"/>
<line x1="389.9" y1="450.12" x2="394.7" y2="450.12" stroke="#2a4a82" stroke-width="1.1"/>
<line x1="401" y1="452.02" x2="401" y2="457.62" stroke="#2a4a82" stroke-width="1.1"/>
<line x1="398.6" y1="452.02" x2="403.4" y2="452.02" stroke="#2a4a82" stroke-width="1.1"/>
<line x1="398.6" y1="457.62" x2="403.4" y2="457.62" stroke="#2a4a82" stroke-width="1.1"/>
<line x1="407.3" y1="457.78" x2="407.3" y2="463.38" stroke="#2a4a82" stroke-width="1.1"/>
<line x1="404.9" y1="457.78" x2="409.7" y2="457.78" stroke="#2a4a82" stroke-width="1.1"/>
<line x1="404.9" y1="463.38" x2="409.7" y2="463.38" stroke="#2a4a82" stroke-width="1.1"/>
<line x1="412.6" y1="462.71" x2="412.6" y2="468.31" stroke="#2a4a82" stroke-width="1.1"/>
<line x1="410.2" y1="462.71" x2="415" y2="462.71" stroke="#2a4a82" stroke-width="1.1"/>
<line x1="410.2" y1="468.31" x2="415" y2="468.31" stroke="#2a4a82" stroke-width="1.1"/>
<line x1="415.8" y1="465.69" x2="415.8" y2="471.29" stroke="#2a4a82" stroke-width="1.1"/>
<line x1="413.4" y1="465.69" x2="418.2" y2="465.69" stroke="#2a4a82" stroke-width="1.1"/>
<line x1="413.4" y1="471.29" x2="418.2" y2="471.29" stroke="#2a4a82" stroke-width="1.1"/>
<line x1="421.8" y1="471.2" x2="421.8" y2="476.8" stroke="#2a4a82" stroke-width="1.1"/>
<line x1="419.4" y1="471.2" x2="424.2" y2="471.2" stroke="#2a4a82" stroke-width="1.1"/>
<line x1="419.4" y1="476.8" x2="424.2" y2="476.8" stroke="#2a4a82" stroke-width="1.1"/>
<line x1="442" y1="487.65" x2="442" y2="493.25" stroke="#2a4a82" stroke-width="1.1"/>
<line x1="439.6" y1="487.65" x2="444.4" y2="487.65" stroke="#2a4a82" stroke-width="1.1"/>
<line x1="439.6" y1="493.25" x2="444.4" y2="493.25" stroke="#2a4a82" stroke-width="1.1"/>
<line x1="456.3" y1="496.36" x2="456.3" y2="501.96" stroke="#2a4a82" stroke-width="1.1"/>
<line x1="453.9" y1="496.36" x2="458.7" y2="496.36" stroke="#2a4a82" stroke-width="1.1"/>
<line x1="453.9" y1="501.96" x2="458.7" y2="501.96" stroke="#2a4a82" stroke-width="1.1"/>
<line x1="476.8" y1="504.55" x2="476.8" y2="510.15" stroke="#2a4a82" stroke-width="1.1"/>
<line x1="474.4" y1="504.55" x2="479.2" y2="504.55" stroke="#2a4a82" stroke-width="1.1"/>
<line x1="474.4" y1="510.15" x2="479.2" y2="510.15" stroke="#2a4a82" stroke-width="1.1"/>
<path d="M312.5 418.22L313 418.28L313.5 418.34L314 418.4L314.5 418.46L315 418.52L315.5 418.59L316 418.65L316.5 418.72L317 418.79L317.5 418.86L318 418.93L318.5 419L319 419.08L319.5 419.15L320 419.23L320.5 419.31L321 419.39L321.5 419.47L322 419.55L322.5 419.64L323 419.72L323.5 419.81L324 419.9L324.5 419.99L325 420.09L325.5 420.18L326 420.28L326.5 420.38L327 420.48L327.5 420.58L328 420.69L328.5 420.8L329 420.91L329.5 421.02L330 421.13L330.5 421.25L331 421.37L331.5 421.49L332 421.61L332.5 421.74L333 421.87L333.5 422L334 422.13L334.5 422.27L335 422.41L335.5 422.55L336 422.69L336.5 422.84L337 422.99L337.5 423.14L338 423.29L338.5 423.45L339 423.61L339.5 423.78L340 423.94L340.5 424.11L341 424.29L341.5 424.46L342 424.64L342.5 424.83L343 425.01L343.5 425.2L344 425.39L344.5 425.59L345 425.79L345.5 425.99L346 426.2L346.5 426.41L347 426.63L347.5 426.85L348 427.07L348.5 427.29L349 427.52L349.5 427.76L350 428L350.5 428.24L351 428.49L351.5 428.74L352 428.99L352.5 429.25L353 429.51L353.5 429.78L354 430.05L354.5 430.33L355 430.61L355.5 430.89L356 431.18L356.5 431.48L357 431.78L357.5 432.08L358 432.39L358.5 432.7L359 433.02L359.5 433.34L360 433.67L360.5 434.01L361 434.34L361.5 434.69L362 435.03L362.5 435.39L363 435.74L363.5 436.11L364 436.47L364.5 436.85L365 437.23L365.5 437.61L366 438L366.5 438.39L367 438.79L367.5 439.19L368 439.6L368.5 440.02L369 440.44L369.5 440.86L370 441.29L370.5 441.73L371 442.17L371.5 442.61L372 443.07L372.5 443.52L373 443.98L373.5 444.45L374 444.92L374.5 445.4L375 445.88L375.5 446.37L376 446.86L376.5 447.36L377 447.86L377.5 448.36L378 448.87L378.5 449.39L379 449.91L379.5 450.44L380 450.97L380.5 451.5L381 452.04L381.5 452.58L382 453.13L382.5 453.68L383 454.24L383.5 454.8L384 455.37L384.5 455.93L385 456.51L385.5 457.08L386 457.66L386.5 458.24L387 458.83L387.5 459.42L388 460.01L388.5 460.61L389 461.21L389.5 461.81L390 462.41L390.5 463.02L391 463.63L391.5 464.24L392 464.86L392.5 465.47L393 466.09L393.5 466.71L394 467.34L394.5 467.96L395 468.58L395.5 469.21L396 469.84L396.5 470.47L397 471.1L397.5 471.73L398 472.36L398.5 472.99L399 473.62L399.5 474.25L400 474.88L400.5 475.51L401 476.14L401.5 476.77L402 477.4L402.5 478.03L403 478.66L403.5 479.29L404 479.92L404.5 480.54L405 481.16L405.5 481.79L406 482.41L406.5 483.03L407 483.64L407.5 484.26L408 484.87L408.5 485.48L409 486.09L409.5 486.69L410 487.29L410.5 487.89L411 488.49L411.5 489.08L412 489.67L412.5 490.26L413 490.84L413.5 491.42L414 491.99L414.5 492.57L415 493.13L415.5 493.7L416 494.26L416.5 494.82L417 495.37L417.5 495.92L418 496.46L418.5 497L419 497.53L419.5 498.06L420 498.59L420.5 499.11L421 499.63L421.5 500.14L422 500.64L422.5 501.14L423 501.64L423.5 502.13L424 502.62L424.5 503.1L425 503.58L425.5 504.05L426 504.52L426.5 504.98L427 505.43L427.5 505.89L428 506.33L428.5 506.77L429 507.21L429.5 507.64L430 508.06L430.5 508.48L431 508.9L431.5 509.31L432 509.71L432.5 510.11L433 510.5L433.5 510.89L434 511.27L434.5 511.65L435 512.03L435.5 512.39L436 512.76L436.5 513.11L437 513.47L437.5 513.81L438 514.16L438.5 514.49L439 514.83L439.5 515.16L440 515.48L440.5 515.8L441 516.11L441.5 516.42L442 516.72L442.5 517.02L443 517.32L443.5 517.61L444 517.89L444.5 518.17L445 518.45L445.5 518.72L446 518.99L446.5 519.25L447 519.51L447.5 519.76L448 520.01L448.5 520.26L449 520.5L449.5 520.74L450 520.98L450.5 521.21L451 521.43L451.5 521.65L452 521.87L452.5 522.09L453 522.3L453.5 522.51L454 522.71L454.5 522.91L455 523.11L455.5 523.3L456 523.49L456.5 523.67L457 523.86L457.5 524.04L458 524.21L458.5 524.39L459 524.56L459.5 524.72L460 524.89L460.5 525.05L461 525.21L461.5 525.36L462 525.51L462.5 525.66L463 525.81L463.5 525.95L464 526.09L464.5 526.23L465 526.37L465.5 526.5L466 526.63L466.5 526.76L467 526.89L467.5 527.01L468 527.13L468.5 527.25L469 527.37L469.5 527.48L470 527.59L470.5 527.7L471 527.81L471.5 527.92L472 528.02L472.5 528.12L473 528.22L473.5 528.32L474 528.41L474.5 528.51L475 528.6L475.5 528.69L476 528.78L476.5 528.86" stroke="#a8153f" stroke-width="1.9" fill="none" stroke-linejoin="round"/>
<path d="M312.5 418.29L313 418.34L313.5 418.39L314 418.44L314.5 418.49L315 418.55L315.5 418.6L316 418.66L316.5 418.72L317 418.77L317.5 418.83L318 418.89L318.5 418.96L319 419.02L319.5 419.08L320 419.15L320.5 419.21L321 419.28L321.5 419.35L322 419.42L322.5 419.49L323 419.56L323.5 419.63L324 419.7L324.5 419.78L325 419.86L325.5 419.93L326 420.01L326.5 420.09L327 420.18L327.5 420.26L328 420.34L328.5 420.43L329 420.52L329.5 420.61L330 420.7L330.5 420.79L331 420.88L331.5 420.98L332 421.08L332.5 421.17L333 421.27L333.5 421.38L334 421.48L334.5 421.58L335 421.69L335.5 421.8L336 421.91L336.5 422.02L337 422.14L337.5 422.25L338 422.37L338.5 422.49L339 422.61L339.5 422.74L340 422.86L340.5 422.99L341 423.12L341.5 423.25L342 423.39L342.5 423.52L343 423.66L343.5 423.8L344 423.94L344.5 424.09L345 424.23L345.5 424.38L346 424.54L346.5 424.69L347 424.85L347.5 425L348 425.17L348.5 425.33L349 425.5L349.5 425.66L350 425.84L350.5 426.01L351 426.19L351.5 426.36L352 426.55L352.5 426.73L353 426.92L353.5 427.11L354 427.3L354.5 427.5L355 427.69L355.5 427.89L356 428.1L356.5 428.3L357 428.51L357.5 428.73L358 428.94L358.5 429.16L359 429.38L359.5 429.61L360 429.83L360.5 430.07L361 430.3L361.5 430.54L362 430.78L362.5 431.02L363 431.27L363.5 431.52L364 431.77L364.5 432.02L365 432.28L365.5 432.55L366 432.81L366.5 433.08L367 433.36L367.5 433.63L368 433.91L368.5 434.19L369 434.48L369.5 434.77L370 435.06L370.5 435.36L371 435.66L371.5 435.96L372 436.27L372.5 436.58L373 436.89L373.5 437.21L374 437.53L374.5 437.86L375 438.18L375.5 438.51L376 438.85L376.5 439.19L377 439.53L377.5 439.87L378 440.22L378.5 440.57L379 440.93L379.5 441.29L380 441.65L380.5 442.02L381 442.38L381.5 442.76L382 443.13L382.5 443.51L383 443.89L383.5 444.28L384 444.67L384.5 445.06L385 445.46L385.5 445.85L386 446.26L386.5 446.66L387 447.07L387.5 447.48L388 447.89L388.5 448.31L389 448.73L389.5 449.15L390 449.58L390.5 450.01L391 450.44L391.5 450.87L392 451.31L392.5 451.74L393 452.19L393.5 452.63L394 453.08L394.5 453.53L395 453.98L395.5 454.43L396 454.89L396.5 455.34L397 455.8L397.5 456.26L398 456.73L398.5 457.19L399 457.66L399.5 458.13L400 458.6L400.5 459.07L401 459.55L401.5 460.02L402 460.5L402.5 460.98L403 461.46L403.5 461.94L404 462.42L404.5 462.9L405 463.38L405.5 463.87L406 464.35L406.5 464.84L407 465.33L407.5 465.81L408 466.3L408.5 466.79L409 467.27L409.5 467.76L410 468.25L410.5 468.74L411 469.23L411.5 469.71L412 470.2L412.5 470.69L413 471.17L413.5 471.66L414 472.15L414.5 472.63L415 473.12L415.5 473.6L416 474.08L416.5 474.56L417 475.04L417.5 475.52L418 476L418.5 476.48L419 476.95L419.5 477.43L420 477.9L420.5 478.37L421 478.84L421.5 479.31L422 479.77L422.5 480.24L423 480.7L423.5 481.16L424 481.61L424.5 482.07L425 482.52L425.5 482.97L426 483.42L426.5 483.87L427 484.31L427.5 484.76L428 485.19L428.5 485.63L429 486.06L429.5 486.49L430 486.92L430.5 487.35L431 487.77L431.5 488.19L432 488.61L432.5 489.02L433 489.43L433.5 489.84L434 490.24L434.5 490.65L435 491.04L435.5 491.44L436 491.83L436.5 492.22L437 492.61L437.5 492.99L438 493.37L438.5 493.74L439 494.12L439.5 494.48L440 494.85L440.5 495.21L441 495.57L441.5 495.93L442 496.28L442.5 496.63L443 496.97L443.5 497.31L444 497.65L444.5 497.99L445 498.32L445.5 498.64L446 498.97L446.5 499.29L447 499.61L447.5 499.92L448 500.23L448.5 500.54L449 500.84L449.5 501.14L450 501.44L450.5 501.73L451 502.02L451.5 502.31L452 502.59L452.5 502.87L453 503.14L453.5 503.42L454 503.69L454.5 503.95L455 504.22L455.5 504.48L456 504.73L456.5 504.98L457 505.23L457.5 505.48L458 505.72L458.5 505.96L459 506.2L459.5 506.43L460 506.67L460.5 506.89L461 507.12L461.5 507.34L462 507.56L462.5 507.77L463 507.99L463.5 508.2L464 508.4L464.5 508.61L465 508.81L465.5 509L466 509.2L466.5 509.39L467 509.58L467.5 509.77L468 509.95L468.5 510.14L469 510.31L469.5 510.49L470 510.66L470.5 510.84L471 511L471.5 511.17L472 511.33L472.5 511.5L473 511.65L473.5 511.81L474 511.96L474.5 512.12L475 512.27L475.5 512.41L476 512.56L476.5 512.7" stroke="#6db33f" stroke-width="1.9" fill="none" stroke-linejoin="round"/>
<path d="M312.5 418.17L313 418.22L313.5 418.27L314 418.31L314.5 418.36L315 418.42L315.5 418.47L316 418.52L316.5 418.57L317 418.63L317.5 418.69L318 418.74L318.5 418.8L319 418.86L319.5 418.92L320 418.98L320.5 419.04L321 419.1L321.5 419.17L322 419.23L322.5 419.3L323 419.36L323.5 419.43L324 419.5L324.5 419.57L325 419.64L325.5 419.72L326 419.79L326.5 419.87L327 419.94L327.5 420.02L328 420.1L328.5 420.18L329 420.26L329.5 420.35L330 420.43L330.5 420.52L331 420.61L331.5 420.69L332 420.79L332.5 420.88L333 420.97L333.5 421.07L334 421.16L334.5 421.26L335 421.36L335.5 421.46L336 421.56L336.5 421.67L337 421.78L337.5 421.88L338 421.99L338.5 422.11L339 422.22L339.5 422.33L340 422.45L340.5 422.57L341 422.69L341.5 422.81L342 422.94L342.5 423.06L343 423.19L343.5 423.32L344 423.46L344.5 423.59L345 423.73L345.5 423.87L346 424.01L346.5 424.15L347 424.29L347.5 424.44L348 424.59L348.5 424.74L349 424.9L349.5 425.05L350 425.21L350.5 425.37L351 425.54L351.5 425.7L352 425.87L352.5 426.04L353 426.22L353.5 426.39L354 426.57L354.5 426.75L355 426.94L355.5 427.12L356 427.31L356.5 427.5L357 427.7L357.5 427.89L358 428.09L358.5 428.3L359 428.5L359.5 428.71L360 428.92L360.5 429.13L361 429.35L361.5 429.57L362 429.79L362.5 430.02L363 430.25L363.5 430.48L364 430.71L364.5 430.95L365 431.19L365.5 431.43L366 431.68L366.5 431.93L367 432.18L367.5 432.44L368 432.7L368.5 432.96L369 433.22L369.5 433.49L370 433.76L370.5 434.04L371 434.32L371.5 434.6L372 434.88L372.5 435.17L373 435.46L373.5 435.75L374 436.05L374.5 436.35L375 436.66L375.5 436.96L376 437.27L376.5 437.59L377 437.9L377.5 438.22L378 438.55L378.5 438.87L379 439.2L379.5 439.54L380 439.87L380.5 440.21L381 440.56L381.5 440.9L382 441.25L382.5 441.6L383 441.96L383.5 442.32L384 442.68L384.5 443.05L385 443.41L385.5 443.79L386 444.16L386.5 444.54L387 444.92L387.5 445.3L388 445.69L388.5 446.08L389 446.47L389.5 446.86L390 447.26L390.5 447.66L391 448.06L391.5 448.47L392 448.88L392.5 449.29L393 449.7L393.5 450.12L394 450.54L394.5 450.96L395 451.38L395.5 451.81L396 452.23L396.5 452.66L397 453.1L397.5 453.53L398 453.97L398.5 454.41L399 454.85L399.5 455.29L400 455.73L400.5 456.18L401 456.62L401.5 457.07L402 457.52L402.5 457.98L403 458.43L403.5 458.88L404 459.34L404.5 459.8L405 460.26L405.5 460.72L406 461.18L406.5 461.64L407 462.1L407.5 462.56L408 463.03L408.5 463.49L409 463.95L409.5 464.42L410 464.89L410.5 465.35L411 465.82L411.5 466.28L412 466.75L412.5 467.22L413 467.68L413.5 468.15L414 468.61L414.5 469.08L415 469.55L415.5 470.01L416 470.47L416.5 470.94L417 471.4L417.5 471.86L418 472.32L418.5 472.78L419 473.24L419.5 473.7L420 474.16L420.5 474.62L421 475.07L421.5 475.52L422 475.98L422.5 476.43L423 476.88L423.5 477.32L424 477.77L424.5 478.21L425 478.65L425.5 479.09L426 479.53L426.5 479.97L427 480.4L427.5 480.84L428 481.27L428.5 481.69L429 482.12L429.5 482.54L430 482.96L430.5 483.38L431 483.8L431.5 484.21L432 484.62L432.5 485.03L433 485.44L433.5 485.84L434 486.24L434.5 486.64L435 487.03L435.5 487.42L436 487.81L436.5 488.2L437 488.58L437.5 488.96L438 489.34L438.5 489.71L439 490.09L439.5 490.45L440 490.82L440.5 491.18L441 491.54L441.5 491.9L442 492.25L442.5 492.6L443 492.94L443.5 493.29L444 493.63L444.5 493.96L445 494.3L445.5 494.63L446 494.95L446.5 495.28L447 495.6L447.5 495.91L448 496.23L448.5 496.54L449 496.84L449.5 497.15L450 497.45L450.5 497.75L451 498.04L451.5 498.33L452 498.62L452.5 498.9L453 499.18L453.5 499.46L454 499.74L454.5 500.01L455 500.28L455.5 500.54L456 500.8L456.5 501.06L457 501.32L457.5 501.57L458 501.82L458.5 502.07L459 502.31L459.5 502.55L460 502.79L460.5 503.02L461 503.25L461.5 503.48L462 503.71L462.5 503.93L463 504.15L463.5 504.37L464 504.58L464.5 504.79L465 505L465.5 505.2L466 505.41L466.5 505.61L467 505.8L467.5 506L468 506.19L468.5 506.38L469 506.56L469.5 506.75L470 506.93L470.5 507.11L471 507.28L471.5 507.46L472 507.63L472.5 507.8L473 507.96L473.5 508.13L474 508.29L474.5 508.45L475 508.6L475.5 508.76L476 508.91L476.5 509.06" stroke="#2a4d83" stroke-width="1.9" fill="none" stroke-linejoin="round"/>
<path d="M312.5 414.98L315.3 420.02L309.7 420.02Z" fill="#a8153f"/>
<path d="M327.5 417.98L330.3 423.02L324.7 423.02Z" fill="#a8153f"/>
<path d="M342.5 420.98L345.3 426.02L339.7 426.02Z" fill="#a8153f"/>
<path d="M357.5 424.98L360.3 430.02L354.7 430.02Z" fill="#a8153f"/>
<path d="M372.7 439.98L375.5 445.02L369.9 445.02Z" fill="#a8153f"/>
<path d="M387.2 451.58L390 456.62L384.4 456.62Z" fill="#a8153f"/>
<path d="M392.3 464.28L395.1 469.32L389.5 469.32Z" fill="#a8153f"/>
<path d="M401 473.48L403.8 478.52L398.2 478.52Z" fill="#a8153f"/>
<path d="M407.3 482.78L410.1 487.82L404.5 487.82Z" fill="#a8153f"/>
<path d="M412 488.48L414.8 493.52L409.2 493.52Z" fill="#a8153f"/>
<path d="M415.8 491.28L418.6 496.32L413 496.32Z" fill="#a8153f"/>
<path d="M421.2 495.48L424 500.52L418.4 500.52Z" fill="#a8153f"/>
<path d="M442 514.48L444.8 519.52L439.2 519.52Z" fill="#a8153f"/>
<path d="M456.3 520.68L459.1 525.72L453.5 525.72Z" fill="#a8153f"/>
<path d="M476.8 524.98L479.6 530.02L474 530.02Z" fill="#a8153f"/>
<rect x="310" y="415" width="5" height="5" fill="#6db33f"/>
<rect x="325" y="418.5" width="5" height="5" fill="#6db33f"/>
<rect x="340" y="424.4" width="5" height="5" fill="#6db33f"/>
<rect x="355" y="423.3" width="5" height="5" fill="#6db33f"/>
<rect x="370.2" y="434.5" width="5" height="5" fill="#6db33f"/>
<rect x="378.3" y="440.5" width="5" height="5" fill="#6db33f"/>
<rect x="384.7" y="446.5" width="5" height="5" fill="#6db33f"/>
<rect x="389.8" y="452.5" width="5" height="5" fill="#6db33f"/>
<rect x="398.5" y="458" width="5" height="5" fill="#6db33f"/>
<rect x="404.8" y="463.5" width="5" height="5" fill="#6db33f"/>
<rect x="410.1" y="471" width="5" height="5" fill="#6db33f"/>
<rect x="413.3" y="474" width="5" height="5" fill="#6db33f"/>
<rect x="419.3" y="478.5" width="5" height="5" fill="#6db33f"/>
<rect x="439.5" y="497" width="5" height="5" fill="#6db33f"/>
<rect x="453.8" y="503" width="5" height="5" fill="#6db33f"/>
<rect x="474.3" y="508.3" width="5" height="5" fill="#6db33f"/>
<circle cx="312.5" cy="417.7" r="2.8" fill="#2a4f88"/>
<circle cx="327.5" cy="421.2" r="2.8" fill="#2a4f88"/>
<circle cx="342.5" cy="422.3" r="2.8" fill="#2a4f88"/>
<circle cx="357.5" cy="425.8" r="2.8" fill="#2a4f88"/>
<circle cx="372.7" cy="436.2" r="2.8" fill="#2a4f88"/>
<circle cx="380.8" cy="440.8" r="2.8" fill="#2a4f88"/>
<circle cx="387.2" cy="447.2" r="2.8" fill="#2a4f88"/>
<circle cx="392.3" cy="452.3" r="2.8" fill="#2a4f88"/>
<circle cx="401" cy="457" r="2.8" fill="#2a4f88"/>
<circle cx="407.3" cy="462.7" r="2.8" fill="#2a4f88"/>
<circle cx="412.6" cy="472" r="2.8" fill="#2a4f88"/>
<circle cx="415.8" cy="473.5" r="2.8" fill="#2a4f88"/>
<circle cx="421.8" cy="476.5" r="2.8" fill="#2a4f88"/>
<circle cx="442" cy="496.3" r="2.8" fill="#2a4f88"/>
<circle cx="456.3" cy="503" r="2.8" fill="#2a4f88"/>
<circle cx="476.8" cy="509.3" r="2.8" fill="#2a4f88"/>
<line x1="406.2" y1="479.6" x2="417" y2="479.6" stroke="#000" stroke-width="1.6"/>
<circle cx="406.6" cy="479.6" r="1.5" fill="#000"/>
<text x="332.2" y="484.3" font-size="7.7"><tspan font-style="italic">p</tspan>&lt;0.01</text>
<line x1="454.2" y1="411.9" x2="468.5" y2="411.9" stroke="#2a4a82" stroke-width="1.5"/>
<circle cx="461.4" cy="411.9" r="2.9" fill="#2a4a82"/>
<line x1="454.2" y1="427.6" x2="468.5" y2="427.6" stroke="#6db33f" stroke-width="1.5"/>
<rect x="458.9" y="425.1" width="5" height="5" fill="#6db33f"/>
<line x1="454.2" y1="443.5" x2="468.5" y2="443.5" stroke="#a8153f" stroke-width="1.5"/>
<path d="M461.4 440.37L464.3 445.59L458.5 445.59Z" fill="#a8153f"/>
<text x="473" y="414.8" font-size="8.4" textLength="14.2" lengthAdjust="spacingAndGlyphs">Con</text>
<text x="473" y="430.6" font-size="8.4" textLength="17.6" lengthAdjust="spacingAndGlyphs">shNT</text>
<text x="473" y="446.5" font-size="8.4" textLength="19.4" lengthAdjust="spacingAndGlyphs">shMA</text>
<text x="9.4" y="591.4" font-size="12.6" font-weight="bold" fill="#000" style="stroke:#000;stroke-width:0.35px">G</text>
<line x1="47.5" y1="599" x2="47.5" y2="733.4" stroke="#111" stroke-width="1.6"/>
<line x1="46.7" y1="732.7" x2="250.5" y2="732.7" stroke="#111" stroke-width="1.6"/>
<line x1="43.9" y1="601.6" x2="47.5" y2="601.6" stroke="#111" stroke-width="1.4"/>
<text x="40.8" y="604.6" font-size="8.3" text-anchor="end">100</text>
<line x1="43.9" y1="627.82" x2="47.5" y2="627.82" stroke="#111" stroke-width="1.4"/>
<text x="40.8" y="630.82" font-size="8.3" text-anchor="end">80</text>
<line x1="43.9" y1="654.04" x2="47.5" y2="654.04" stroke="#111" stroke-width="1.4"/>
<text x="40.8" y="657.04" font-size="8.3" text-anchor="end">60</text>
<line x1="43.9" y1="680.26" x2="47.5" y2="680.26" stroke="#111" stroke-width="1.4"/>
<text x="40.8" y="683.26" font-size="8.3" text-anchor="end">40</text>
<line x1="43.9" y1="706.48" x2="47.5" y2="706.48" stroke="#111" stroke-width="1.4"/>
<text x="40.8" y="709.48" font-size="8.3" text-anchor="end">20</text>
<line x1="43.9" y1="732.7" x2="47.5" y2="732.7" stroke="#111" stroke-width="1.4"/>
<text x="40.8" y="735.7" font-size="8.3" text-anchor="end">0</text>
<line x1="47.5" y1="732.7" x2="47.5" y2="736.1" stroke="#111" stroke-width="1.4"/>
<text x="47.9" y="747.2" font-size="8.3" text-anchor="middle">-7</text>
<line x1="114.5" y1="732.7" x2="114.5" y2="736.1" stroke="#111" stroke-width="1.4"/>
<text x="114.9" y="747.2" font-size="8.3" text-anchor="middle">-6</text>
<line x1="181.5" y1="732.7" x2="181.5" y2="736.1" stroke="#111" stroke-width="1.4"/>
<text x="181.9" y="747.2" font-size="8.3" text-anchor="middle">-5</text>
<line x1="248.5" y1="732.7" x2="248.5" y2="736.1" stroke="#111" stroke-width="1.4"/>
<text x="248.9" y="747.2" font-size="8.3" text-anchor="middle">-4</text>
<text x="149.5" y="758" font-size="9.2" text-anchor="middle" textLength="68.5" lengthAdjust="spacingAndGlyphs" style="stroke:#1c1c1c;stroke-width:0.45px">Lenalidomide, log [M]</text>
<text x="18.3" y="665" font-size="8.6" text-anchor="middle" textLength="62.8" lengthAdjust="spacingAndGlyphs" transform="rotate(-90 18.3 665)" style="stroke:#1c1c1c;stroke-width:0.45px">Relative viability, %</text>
<path d="M47.5 604.7L93.8 609.4L228.5 609.6" stroke="#6db33f" stroke-width="1.7" fill="none"/>
<path d="M47.5 603.7C70 603.5 82 604 90 606.5C100 611 106 612.3 113 612.5L228.5 612.7" stroke="#a8153f" stroke-width="1.7" fill="none"/>
<path d="M47.5 604.9L154.4 604.9C155.6 604.9 156 606 156 607.5C156 609 156.6 609.6 158 609.6L228.5 609.6" stroke="#2e4c80" stroke-width="1.7" fill="none"/>
<line x1="47.6" y1="602" x2="47.6" y2="607" stroke="#2a4a82" stroke-width="1.1"/>
<line x1="45.6" y1="602" x2="49.6" y2="602" stroke="#2a4a82" stroke-width="1.1"/>
<line x1="45.6" y1="607" x2="49.6" y2="607" stroke="#2a4a82" stroke-width="1.1"/>
<line x1="93.8" y1="602.7" x2="93.8" y2="606.7" stroke="#2a4a82" stroke-width="1.1"/>
<line x1="91.8" y1="602.7" x2="95.8" y2="602.7" stroke="#2a4a82" stroke-width="1.1"/>
<line x1="91.8" y1="606.7" x2="95.8" y2="606.7" stroke="#2a4a82" stroke-width="1.1"/>
<line x1="161" y1="607.5" x2="161" y2="611.6" stroke="#2a4a82" stroke-width="1.1"/>
<line x1="159" y1="607.5" x2="163" y2="607.5" stroke="#2a4a82" stroke-width="1.1"/>
<line x1="159" y1="611.6" x2="163" y2="611.6" stroke="#2a4a82" stroke-width="1.1"/>
<line x1="227.7" y1="602.7" x2="227.7" y2="609" stroke="#2a4a82" stroke-width="1.1"/>
<line x1="225.7" y1="602.7" x2="229.7" y2="602.7" stroke="#2a4a82" stroke-width="1.1"/>
<line x1="225.7" y1="609" x2="229.7" y2="609" stroke="#2a4a82" stroke-width="1.1"/>
<line x1="181" y1="606.5" x2="181" y2="614.8" stroke="#a8153f" stroke-width="1.1"/>
<line x1="179" y1="606.5" x2="183" y2="606.5" stroke="#a8153f" stroke-width="1.1"/>
<line x1="179" y1="614.8" x2="183" y2="614.8" stroke="#a8153f" stroke-width="1.1"/>
<line x1="114" y1="603" x2="114" y2="607" stroke="#2a4a82" stroke-width="1.1"/>
<line x1="112" y1="603" x2="116" y2="603" stroke="#2a4a82" stroke-width="1.1"/>
<line x1="112" y1="607" x2="116" y2="607" stroke="#2a4a82" stroke-width="1.1"/>
<path d="M114 610.41L116.4 614.73L111.6 614.73Z" fill="#a8153f"/>
<path d="M161 613.61L163.4 617.93L158.6 617.93Z" fill="#a8153f"/>
<path d="M181 610.41L183.4 614.73L178.6 614.73Z" fill="#a8153f"/>
<path d="M227.7 609.01L230.1 613.33L225.3 613.33Z" fill="#a8153f"/>
<rect x="91.7" y="607.2" width="4.2" height="4.2" fill="#74a84e"/>
<rect x="178.9" y="605.9" width="4.2" height="4.2" fill="#74a84e"/>
<rect x="46.3" y="603.3" width="3.4" height="3.4" fill="#3d6a74"/>
<circle cx="93.8" cy="604.7" r="2.3" fill="#2e4c80"/>
<circle cx="114" cy="605" r="2.3" fill="#2e4c80"/>
<circle cx="161" cy="609.8" r="2.3" fill="#2e4c80"/>
<circle cx="207.3" cy="609.8" r="2.3" fill="#2e4c80"/>
<circle cx="227.7" cy="606" r="2.3" fill="#2e4c80"/>
<text x="273.6" y="591.4" font-size="12.6" font-weight="bold" fill="#000" style="stroke:#000;stroke-width:0.35px">H</text>
<line x1="307.5" y1="599" x2="307.5" y2="733.4" stroke="#111" stroke-width="1.6"/>
<line x1="306.7" y1="732.7" x2="510.5" y2="732.7" stroke="#111" stroke-width="1.6"/>
<line x1="303.9" y1="601.6" x2="307.5" y2="601.6" stroke="#111" stroke-width="1.4"/>
<text x="300.8" y="604.6" font-size="8.3" text-anchor="end">100</text>
<line x1="303.9" y1="627.82" x2="307.5" y2="627.82" stroke="#111" stroke-width="1.4"/>
<text x="300.8" y="630.82" font-size="8.3" text-anchor="end">80</text>
<line x1="303.9" y1="654.04" x2="307.5" y2="654.04" stroke="#111" stroke-width="1.4"/>
<text x="300.8" y="657.04" font-size="8.3" text-anchor="end">60</text>
<line x1="303.9" y1="680.26" x2="307.5" y2="680.26" stroke="#111" stroke-width="1.4"/>
<text x="300.8" y="683.26" font-size="8.3" text-anchor="end">40</text>
<line x1="303.9" y1="706.48" x2="307.5" y2="706.48" stroke="#111" stroke-width="1.4"/>
<text x="300.8" y="709.48" font-size="8.3" text-anchor="end">20</text>
<line x1="303.9" y1="732.7" x2="307.5" y2="732.7" stroke="#111" stroke-width="1.4"/>
<text x="300.8" y="735.7" font-size="8.3" text-anchor="end">0</text>
<line x1="307.5" y1="732.7" x2="307.5" y2="736.1" stroke="#111" stroke-width="1.4"/>
<text x="307.9" y="747.2" font-size="8.3" text-anchor="middle">-7</text>
<line x1="374.5" y1="732.7" x2="374.5" y2="736.1" stroke="#111" stroke-width="1.4"/>
<text x="374.9" y="747.2" font-size="8.3" text-anchor="middle">-6</text>
<line x1="441.5" y1="732.7" x2="441.5" y2="736.1" stroke="#111" stroke-width="1.4"/>
<text x="441.9" y="747.2" font-size="8.3" text-anchor="middle">-5</text>
<line x1="508.5" y1="732.7" x2="508.5" y2="736.1" stroke="#111" stroke-width="1.4"/>
<text x="508.9" y="747.2" font-size="8.3" text-anchor="middle">-4</text>
<text x="409.5" y="758" font-size="9.2" text-anchor="middle" textLength="68.5" lengthAdjust="spacingAndGlyphs" style="stroke:#1c1c1c;stroke-width:0.45px">Lenalidomide, log [M]</text>
<path d="M308 613.2C320 616.5 335 618.3 353.8 618.7L480.8 618.9C484 619.5 486 621 487.5 624.5" stroke="#6db33f" stroke-width="1.7" fill="none"/>
<path d="M353.6 612.0L355.4 618.4L480.8 618.6C484 619 486 620 487.5 621.5" stroke="#a8153f" stroke-width="1.7" fill="none"/>
<path d="M308 611.8L467.3 611.8C476 612 483 614.5 487.5 621.2" stroke="#2e4c80" stroke-width="1.7" fill="none"/>
<line x1="308" y1="604" x2="308" y2="610" stroke="#2a4a82" stroke-width="1.1"/>
<line x1="306" y1="604" x2="310" y2="604" stroke="#2a4a82" stroke-width="1.1"/>
<line x1="306" y1="610" x2="310" y2="610" stroke="#2a4a82" stroke-width="1.1"/>
<line x1="354" y1="605" x2="354" y2="610.5" stroke="#2a4a82" stroke-width="1.1"/>
<line x1="352" y1="605" x2="356" y2="605" stroke="#2a4a82" stroke-width="1.1"/>
<line x1="352" y1="610.5" x2="356" y2="610.5" stroke="#2a4a82" stroke-width="1.1"/>
<line x1="440.8" y1="609.5" x2="440.8" y2="614.3" stroke="#2a4a82" stroke-width="1.1"/>
<line x1="438.8" y1="609.5" x2="442.8" y2="609.5" stroke="#2a4a82" stroke-width="1.1"/>
<line x1="438.8" y1="614.3" x2="442.8" y2="614.3" stroke="#2a4a82" stroke-width="1.1"/>
<rect x="418.8" y="612.8" width="4" height="4" fill="#74a84e"/>
<rect x="438.8" y="616.2" width="4" height="4" fill="#74a84e"/>
<rect x="465.3" y="617.2" width="4" height="4" fill="#74a84e"/>
<rect x="485.5" y="623" width="4" height="4" fill="#74a84e"/>
<rect x="352" y="615.5" width="4" height="4" fill="#74a84e"/>
<path d="M420.8 616.53L422.9 620.31L418.7 620.31Z" fill="#a8153f"/>
<path d="M467.3 614.53L469.4 618.31L465.2 618.31Z" fill="#a8153f"/>
<path d="M354 613.23L356.1 617.01L351.9 617.01Z" fill="#a8153f"/>
<circle cx="308" cy="607" r="2.3" fill="#2e4c80"/>
<circle cx="420.8" cy="606" r="2.3" fill="#2e4c80"/>
<circle cx="440.8" cy="611.8" r="2.3" fill="#2e4c80"/>
<circle cx="467.3" cy="611.8" r="2.3" fill="#2e4c80"/>
<circle cx="487.5" cy="621.5" r="2.3" fill="#2e4c80"/>
<circle cx="374" cy="624" r="2.3" fill="#2e4c80"/>
<rect x="352" y="606" width="4" height="4" fill="#2e4c80"/>
<path d="M0 0H520V769H0Z M1.5 1.5V767H518.5V1.5Z" fill="#000" fill-rule="evenodd"/></svg>
</body></html>
